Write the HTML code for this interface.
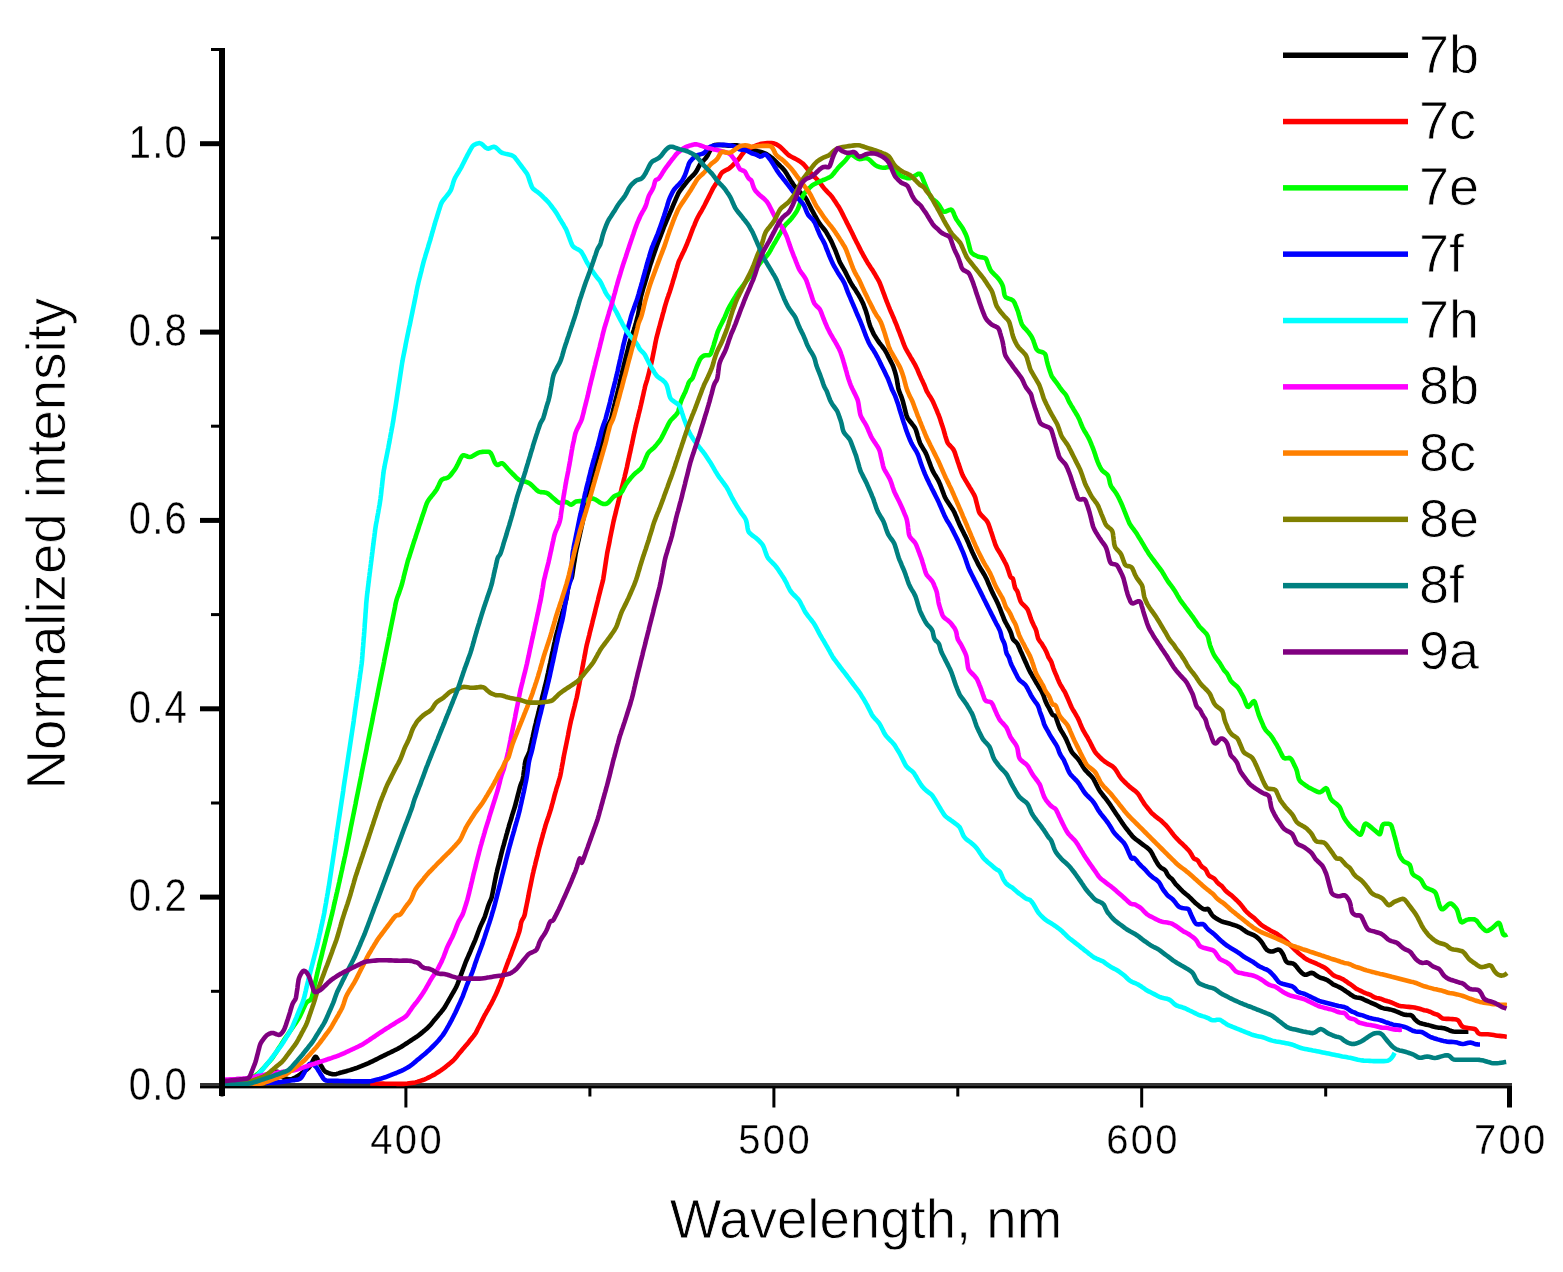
<!DOCTYPE html>
<html><head><meta charset="utf-8"><title>Normalized intensity vs wavelength</title>
<style>html,body{margin:0;padding:0;background:#fff;width:1563px;height:1272px;overflow:hidden}</style>
</head><body>
<svg width="1563" height="1272" viewBox="0 0 1563 1272" style="position:absolute;left:0;top:0">
<rect x="219" y="1083" width="1293" height="3" fill="#333"/>
<rect x="219" y="1086" width="1293" height="2.4" fill="#000"/>
<polyline points="271.2,1080.8 271.8,1079.6 272.7,1078.0 273.6,1076.2 274.6,1074.5 275.5,1072.8 276.5,1071.7 277.7,1071.8 278.9,1072.9 280.1,1074.4 281.4,1075.9 282.8,1077.2 284.5,1078.1 286.4,1078.8 288.3,1079.3 290.1,1079.4 292.0,1079.0 293.8,1078.2 295.6,1077.3 297.3,1076.4 299.0,1075.3 300.6,1074.1 302.2,1072.9 303.8,1071.7 305.4,1070.5 307.0,1069.3 308.5,1068.0 309.7,1066.5 310.8,1064.9 311.7,1063.1 312.6,1061.3 313.5,1059.5 314.4,1057.9 315.3,1056.8 316.2,1057.0 317.1,1058.3 318.0,1060.0 318.9,1061.8 319.9,1063.5 320.9,1065.3 321.9,1067.0 322.9,1068.7 324.0,1070.3 325.3,1071.6 327.0,1072.5 328.9,1073.2 330.8,1073.8 332.7,1074.3 334.6,1074.3 336.5,1073.9 338.4,1073.4 340.3,1072.8 342.2,1072.3 344.2,1071.7 346.1,1071.2 348.0,1070.6 349.9,1070.1 351.9,1069.5 353.8,1068.9 355.6,1068.3 357.5,1067.6 359.4,1066.8 361.2,1066.1 363.1,1065.3 364.9,1064.6 366.8,1063.8 368.6,1063.1 370.5,1062.2 372.3,1061.4 374.0,1060.5 375.8,1059.6 377.6,1058.7 379.4,1057.8 381.2,1056.9 383.0,1056.0 384.8,1055.1 386.6,1054.2 388.4,1053.3 390.2,1052.5 392.0,1051.6 393.8,1050.7 395.6,1049.8 397.4,1049.0 399.1,1048.0 400.9,1047.0 402.5,1046.0 404.2,1044.9 405.9,1043.8 407.6,1042.7 409.2,1041.6 410.9,1040.5 412.6,1039.4 414.3,1038.3 415.9,1037.2 417.6,1036.1 419.2,1034.9 420.8,1033.6 422.3,1032.4 423.8,1031.1 425.4,1029.8 426.9,1028.5 428.3,1027.1 429.7,1025.7 431.0,1024.2 432.3,1022.6 433.5,1021.1 434.8,1019.6 436.1,1018.0 437.4,1016.5 438.7,1014.9 439.9,1013.4 441.2,1011.9 442.5,1010.3 443.7,1008.7 444.8,1007.1 445.8,1005.3 446.8,1003.6 447.8,1001.9 448.8,1000.1 449.8,998.4 450.8,996.7 451.8,994.9 452.8,993.2 453.8,991.5 454.8,989.7 455.7,988.0 456.6,986.2 457.4,984.3 458.1,982.5 458.8,980.6 459.5,978.7 460.2,976.9 460.9,975.0 461.6,973.1 462.3,971.2 463.0,969.4 463.7,967.5 464.4,965.6 465.1,963.7 465.8,961.9 466.6,960.0 467.4,958.2 468.2,956.4 469.0,954.5 469.8,952.7 470.6,950.9 471.3,949.0 472.1,947.2 472.9,945.3 473.7,943.5 474.5,941.7 475.3,939.8 476.0,938.0 476.7,936.1 477.4,934.2 478.1,932.3 478.8,930.5 479.5,928.6 480.3,926.7 481.1,924.9 481.9,923.1 482.8,921.3 483.6,919.5 484.4,917.6 485.1,915.8 485.7,913.9 486.3,912.0 486.9,910.1 487.5,908.2 488.1,906.3 488.8,904.4 489.5,902.5 490.3,900.8 491.1,899.1 491.7,897.3 492.1,895.3 492.5,893.4 492.9,891.4 493.3,889.5 493.7,887.5 494.1,885.5 494.4,883.6 494.8,881.6 495.2,879.6 495.6,877.7 496.0,875.7 496.4,873.8 496.9,871.8 497.3,869.9 497.8,867.9 498.3,866.0 498.8,864.1 499.3,862.1 499.8,860.2 500.3,858.2 500.7,856.3 501.2,854.4 501.7,852.4 502.2,850.5 502.7,848.5 503.2,846.6 503.8,844.7 504.3,842.8 504.8,840.8 505.4,838.9 505.9,837.0 506.4,835.0 507.0,833.1 507.5,831.2 508.0,829.3 508.6,827.3 509.1,825.4 509.7,823.5 510.3,821.6 510.9,819.7 511.5,817.8 512.0,815.8 512.6,813.9 513.2,812.0 513.8,810.1 514.4,808.2 515.0,806.3 515.5,804.4 516.0,802.4 516.5,800.5 517.0,798.6 517.5,796.6 518.0,794.7 518.5,792.7 519.0,790.8 519.5,788.9 520.0,786.9 520.6,785.0 521.3,783.2 522.1,781.3 522.7,779.5 523.1,777.5 523.4,775.5 523.6,773.6 523.9,771.6 524.2,769.6 524.4,767.6 524.7,765.6 524.9,763.6 525.3,761.7 525.8,759.8 526.5,758.0 527.4,756.2 528.3,754.4 529.0,752.5 529.6,750.6 530.1,748.7 530.5,746.7 530.9,744.8 531.4,742.8 531.8,740.9 532.2,738.9 532.7,737.0 533.1,735.0 533.5,733.1 534.0,731.1 534.4,729.2 534.8,727.2 535.3,725.3 535.8,723.3 536.2,721.4 536.7,719.4 537.2,717.5 537.7,715.6 538.2,713.6 538.7,711.7 539.1,709.7 539.6,707.8 540.1,705.9 540.6,703.9 541.1,702.0 541.6,700.0 542.0,698.1 542.5,696.2 543.0,694.2 543.5,692.3 544.0,690.3 544.5,688.4 544.9,686.4 545.4,684.5 545.9,682.6 546.4,680.6 546.8,678.7 547.2,676.7 547.6,674.8 548.1,672.8 548.5,670.8 548.9,668.9 549.3,666.9 549.7,665.0 550.2,663.0 550.6,661.1 551.0,659.1 551.4,657.2 551.8,655.2 552.2,653.2 552.7,651.3 553.1,649.3 553.5,647.4 553.9,645.4 554.3,643.5 554.8,641.5 555.2,639.6 555.6,637.6 556.1,635.7 556.6,633.7 557.1,631.8 557.7,629.9 558.2,627.9 558.7,626.0 559.2,624.1 559.8,622.2 560.3,620.2 560.8,618.3 561.4,616.4 561.9,614.4 562.5,612.5 563.0,610.6 563.6,608.7 564.1,606.8 564.7,604.8 565.2,602.9 565.8,601.0 566.3,599.1 566.7,597.1 567.0,595.1 567.3,593.1 567.6,591.2 567.9,589.2 568.3,587.2 568.6,585.2 568.9,583.3 569.4,581.6 570.3,580.2 571.2,579.0 571.8,577.4 572.2,575.5 572.5,573.5 572.8,571.5 573.1,569.5 573.4,567.6 573.7,565.6 574.0,563.6 574.4,561.6 574.7,559.7 575.0,557.7 575.3,555.7 575.6,553.7 576.0,551.8 576.4,549.8 576.8,547.9 577.3,545.9 577.7,544.0 578.1,542.0 578.6,540.1 579.0,538.1 579.5,536.1 579.9,534.2 580.3,532.2 580.8,530.3 581.2,528.3 581.6,526.4 582.1,524.4 582.5,522.5 582.9,520.5 583.4,518.6 583.8,516.6 584.2,514.7 584.7,512.7 585.1,510.8 585.5,508.8 586.0,506.9 586.4,504.9 586.8,503.0 587.3,501.0 587.7,499.1 588.2,497.1 588.6,495.2 589.1,493.2 589.6,491.3 590.1,489.3 590.6,487.4 591.0,485.5 591.5,483.5 592.0,481.6 592.5,479.6 593.0,477.7 593.5,475.8 593.9,473.8 594.4,471.9 594.9,469.9 595.5,468.0 596.0,466.1 596.5,464.1 597.0,462.2 597.5,460.3 598.1,458.3 598.6,456.4 599.1,454.5 599.6,452.6 600.1,450.6 600.6,448.7 601.1,446.7 601.6,444.8 602.1,442.9 602.6,440.9 603.0,439.0 603.5,437.0 604.0,435.1 604.5,433.2 605.0,431.2 605.6,429.3 606.4,427.5 607.4,425.8 608.4,424.1 609.4,422.4 610.4,420.6 611.1,418.8 611.6,416.9 612.1,414.9 612.5,413.0 613.0,411.0 613.5,409.1 613.9,407.1 614.4,405.2 614.9,403.2 615.3,401.3 615.8,399.4 616.3,397.4 616.8,395.5 617.3,393.5 617.8,391.6 618.2,389.7 618.7,387.7 619.2,385.8 619.6,383.8 620.0,381.9 620.5,379.9 620.9,378.0 621.3,376.0 621.8,374.0 622.2,372.1 622.7,370.2 623.2,368.2 623.6,366.3 624.1,364.3 624.6,362.4 625.1,360.4 625.5,358.5 626.0,356.6 626.5,354.6 627.0,352.7 627.5,350.7 628.0,348.8 628.5,346.9 628.9,344.9 629.5,343.0 630.0,341.1 630.6,339.2 631.3,337.3 632.0,335.4 632.6,333.5 633.3,331.6 634.0,329.7 634.6,327.8 635.1,325.9 635.7,324.0 636.2,322.1 636.7,320.1 637.2,318.2 637.7,316.3 638.2,314.3 638.5,312.3 638.9,310.4 639.1,308.4 639.4,306.4 639.7,304.4 640.0,302.5 640.3,300.5 640.6,298.5 641.0,296.5 641.5,294.6 642.0,292.7 642.6,290.8 643.1,288.8 643.7,286.9 644.3,285.0 644.9,283.1 645.4,281.2 646.0,279.3 646.6,277.3 647.1,275.4 647.7,273.5 648.3,271.6 648.9,269.7 649.4,267.8 650.0,265.9 650.6,263.9 651.3,262.0 651.9,260.1 652.5,258.3 653.1,256.4 653.8,254.5 654.4,252.6 655.1,250.7 655.8,248.8 656.4,246.9 657.1,245.0 657.8,243.2 658.5,241.3 659.2,239.4 660.0,237.5 660.7,235.7 661.4,233.8 662.1,231.9 662.8,230.1 663.5,228.2 664.2,226.3 665.0,224.5 665.8,222.6 666.5,220.8 667.3,219.0 668.1,217.1 668.9,215.3 669.7,213.4 670.5,211.6 671.3,209.8 672.1,207.9 672.8,206.1 673.6,204.3 674.4,202.4 675.2,200.6 676.0,198.7 676.8,196.9 677.6,195.1 678.4,193.3 679.5,191.6 680.6,189.9 681.8,188.3 683.0,186.7 684.2,185.2 685.5,183.6 686.7,182.0 688.0,180.5 689.3,179.0 690.7,177.6 692.1,176.2 693.6,174.8 694.9,173.3 696.1,171.7 697.1,170.0 698.0,168.2 698.9,166.5 699.9,164.7 701.1,163.2 702.4,161.7 703.8,160.3 705.2,158.8 706.4,157.3 707.5,155.6 708.4,153.8 709.3,152.0 710.2,150.3 711.1,148.5 712.1,146.8 713.3,145.6 715.0,145.0 716.9,144.9 718.9,144.9 720.9,145.0 722.9,145.1 724.9,145.3 726.9,145.5 728.8,145.7 730.8,145.6 732.8,145.4 734.8,145.2 736.7,145.3 738.7,145.7 740.6,146.2 742.5,146.7 744.4,147.3 746.3,147.8 748.3,148.4 750.2,149.0 752.1,149.5 754.0,150.1 755.9,150.6 757.9,151.2 759.8,151.7 761.7,152.3 763.6,152.9 765.4,153.6 767.2,154.6 768.9,155.7 770.5,156.8 772.1,158.0 773.5,159.4 775.0,160.8 776.4,162.2 777.8,163.6 779.2,165.0 780.6,166.4 782.1,167.8 783.4,169.3 784.7,170.8 785.8,172.4 786.9,174.1 787.9,175.8 788.9,177.6 790.0,179.3 791.0,181.0 792.1,182.6 793.2,184.3 794.4,185.9 795.6,187.5 796.9,189.0 798.3,190.4 799.7,191.8 801.2,193.3 802.6,194.7 804.0,196.1 805.3,197.6 806.4,199.2 807.3,201.0 808.2,202.8 809.1,204.5 810.0,206.3 810.9,208.1 811.8,209.9 812.8,211.7 813.7,213.4 814.7,215.2 815.7,216.9 816.6,218.7 817.6,220.4 818.6,222.1 819.7,223.8 821.0,225.4 822.2,226.9 823.5,228.5 824.7,230.0 825.9,231.6 826.9,233.3 827.9,235.1 828.9,236.8 829.9,238.6 830.8,240.3 831.7,242.1 832.5,243.9 833.3,245.8 834.1,247.6 834.9,249.4 835.7,251.3 836.4,253.2 837.1,255.0 837.8,256.9 838.5,258.8 839.2,260.6 840.0,262.5 840.9,264.2 841.9,266.0 842.9,267.7 843.9,269.4 844.9,271.2 845.8,272.9 846.7,274.7 847.6,276.5 848.5,278.3 849.4,280.1 850.3,281.9 851.3,283.6 852.3,285.3 853.4,287.0 854.6,288.7 855.7,290.3 856.7,292.0 857.8,293.7 858.8,295.4 859.8,297.2 860.8,298.9 861.7,300.7 862.6,302.5 863.4,304.3 864.1,306.2 864.8,308.1 865.5,309.9 866.1,311.8 866.7,313.7 867.3,315.6 867.8,317.6 868.2,319.5 868.7,321.5 869.3,323.4 869.9,325.3 870.6,327.1 871.4,329.0 872.2,330.8 873.0,332.6 873.9,334.4 874.9,336.1 876.0,337.8 877.1,339.5 878.2,341.1 879.4,342.8 880.6,344.4 881.8,345.9 883.0,347.5 884.2,349.1 885.3,350.8 886.3,352.5 887.2,354.3 888.1,356.1 889.0,357.9 889.9,359.6 890.8,361.4 891.7,363.2 892.6,365.0 893.4,366.9 894.0,368.7 894.6,370.6 895.2,372.6 895.7,374.5 896.2,376.4 896.6,378.4 897.0,380.3 897.3,382.3 897.6,384.3 898.0,386.3 898.3,388.2 898.8,390.2 899.5,392.0 900.2,393.9 901.0,395.7 901.7,397.6 902.3,399.5 902.9,401.4 903.4,403.4 903.9,405.3 904.4,407.2 904.9,409.2 905.4,411.1 905.8,413.0 906.4,415.0 907.0,416.8 907.9,418.6 909.1,420.2 910.3,421.7 911.6,423.3 912.8,424.9 914.0,426.4 915.1,428.1 915.9,429.9 916.5,431.8 917.1,433.7 917.6,435.6 918.2,437.5 918.8,439.5 919.4,441.4 920.1,443.2 921.0,445.0 922.0,446.7 923.0,448.4 924.0,450.1 925.1,451.8 926.0,453.6 926.8,455.4 927.5,457.3 928.2,459.2 928.9,461.0 929.6,462.9 930.3,464.8 931.0,466.7 931.7,468.5 932.5,470.4 933.4,472.1 934.4,473.9 935.4,475.6 936.5,477.3 937.5,479.0 938.5,480.8 939.3,482.6 940.1,484.4 940.8,486.3 941.5,488.1 942.2,490.0 942.9,491.9 943.6,493.8 944.3,495.6 945.1,497.5 946.0,499.2 947.1,500.9 948.2,502.6 949.3,504.2 950.4,505.9 951.5,507.6 952.6,509.2 953.6,511.0 954.5,512.7 955.3,514.6 956.1,516.4 956.9,518.2 957.6,520.1 958.4,521.9 959.2,523.8 960.0,525.6 960.9,527.4 961.8,529.2 962.7,531.0 963.6,532.8 964.5,534.6 965.4,536.3 966.2,538.1 967.1,540.0 967.9,541.8 968.7,543.6 969.4,545.5 970.2,547.3 971.0,549.1 971.8,551.0 972.6,552.8 973.5,554.6 974.3,556.4 975.2,558.2 976.1,560.0 977.0,561.8 977.9,563.6 978.8,565.4 979.8,567.1 980.8,568.8 981.8,570.5 982.9,572.3 983.9,574.0 984.9,575.7 985.8,577.5 986.7,579.3 987.5,581.1 988.2,583.0 989.0,584.8 989.8,586.6 990.6,588.5 991.4,590.3 992.2,592.1 993.1,593.9 994.0,595.7 994.9,597.5 995.8,599.3 996.7,601.1 997.5,602.9 998.4,604.7 999.1,606.6 999.9,608.4 1000.6,610.3 1001.3,612.1 1002.0,614.0 1002.8,615.9 1003.5,617.7 1004.2,619.6 1005.1,621.4 1006.0,623.2 1007.0,624.9 1007.9,626.7 1008.9,628.4 1009.8,630.2 1010.6,632.0 1011.3,633.9 1011.8,635.8 1012.4,637.7 1013.2,639.4 1014.4,640.8 1015.9,642.1 1017.2,643.5 1018.1,645.2 1018.9,647.0 1019.7,648.8 1020.4,650.7 1021.3,652.5 1022.1,654.3 1022.9,656.1 1023.7,658.0 1024.5,659.8 1025.3,661.6 1026.2,663.4 1027.0,665.3 1027.8,667.1 1028.6,668.9 1029.5,670.7 1030.4,672.5 1031.4,674.2 1032.4,676.0 1033.4,677.7 1034.4,679.4 1035.4,681.1 1036.4,682.9 1037.5,684.6 1038.5,686.3 1039.5,688.0 1040.6,689.7 1041.6,691.4 1042.5,693.2 1043.3,695.0 1044.0,696.9 1044.6,698.8 1045.3,700.7 1046.1,702.5 1046.9,704.3 1047.9,706.1 1048.9,707.8 1049.8,709.6 1050.7,711.4 1051.6,713.1 1052.5,714.6 1053.5,715.3 1054.5,715.5 1055.4,716.3 1056.1,717.8 1056.7,719.7 1057.4,721.6 1058.0,723.5 1058.7,725.3 1059.4,727.2 1060.2,729.0 1061.2,730.7 1062.3,732.4 1063.3,734.1 1064.3,735.9 1065.3,737.6 1066.2,739.4 1067.0,741.2 1067.8,743.1 1068.6,744.9 1069.3,746.7 1070.1,748.6 1071.0,750.4 1071.9,752.1 1073.1,753.7 1074.5,755.1 1075.9,756.6 1077.2,758.0 1078.5,759.6 1079.6,761.2 1080.6,762.9 1081.7,764.6 1082.7,766.3 1083.8,768.0 1084.9,769.6 1086.3,771.1 1087.6,772.5 1089.1,774.0 1090.5,775.4 1091.8,776.8 1093.1,778.4 1094.1,780.1 1095.0,781.8 1095.9,783.6 1096.8,785.4 1097.7,787.2 1098.6,789.0 1099.6,790.7 1100.7,792.3 1102.0,793.9 1103.2,795.5 1104.4,797.1 1105.7,798.6 1106.9,800.2 1108.1,801.8 1109.3,803.4 1110.4,805.1 1111.5,806.8 1112.6,808.4 1113.7,810.1 1114.8,811.7 1115.9,813.4 1117.0,815.1 1118.2,816.7 1119.3,818.4 1120.4,820.1 1121.5,821.7 1122.6,823.4 1123.7,825.0 1124.9,826.7 1126.1,828.3 1127.3,829.8 1128.6,831.4 1129.8,833.0 1131.1,834.5 1132.3,836.1 1133.7,837.5 1135.2,838.8 1136.8,840.0 1138.4,841.2 1140.0,842.4 1141.6,843.6 1143.2,844.8 1144.8,846.0 1146.4,847.2 1148.0,848.4 1149.5,849.7 1150.7,851.2 1151.7,852.9 1152.7,854.7 1153.6,856.5 1154.5,858.2 1155.4,860.0 1156.4,861.7 1157.4,863.4 1158.6,865.1 1159.8,866.6 1161.3,867.9 1162.9,868.8 1164.5,869.7 1165.7,871.0 1166.5,872.6 1167.4,874.4 1168.5,876.0 1169.8,877.3 1171.2,878.3 1172.4,879.5 1173.5,881.1 1174.6,882.7 1175.8,884.3 1177.2,885.7 1178.6,887.1 1180.0,888.6 1181.3,890.0 1182.8,891.4 1184.3,892.7 1185.8,894.0 1187.4,895.3 1188.9,896.6 1190.3,897.9 1191.8,899.4 1193.2,900.8 1194.6,902.2 1196.0,903.5 1197.6,904.8 1199.1,906.1 1200.7,907.3 1202.3,908.4 1203.9,909.3 1205.4,909.5 1206.7,909.0 1207.8,908.9 1208.9,909.8 1209.8,911.4 1210.8,913.1 1211.9,914.8 1213.2,916.2 1214.7,917.4 1216.4,918.5 1218.1,919.5 1219.9,920.5 1221.6,921.3 1223.5,922.0 1225.4,922.5 1227.4,923.0 1229.3,923.5 1231.2,924.1 1233.1,924.8 1235.0,925.4 1236.9,926.0 1238.7,926.8 1240.5,927.7 1242.1,928.8 1243.7,930.0 1245.4,931.2 1247.0,932.2 1248.8,933.1 1250.7,933.8 1252.5,934.6 1254.3,935.4 1256.0,936.4 1257.5,937.7 1259.0,939.1 1260.3,940.5 1261.6,942.1 1262.7,943.7 1263.7,945.4 1264.8,947.1 1265.9,948.7 1267.2,950.1 1268.8,951.0 1270.7,951.5 1272.5,951.5 1274.3,951.0 1276.1,950.2 1277.8,949.6 1279.4,949.7 1280.7,950.8 1281.8,952.3 1282.8,954.0 1283.7,955.8 1284.4,957.6 1285.2,959.5 1286.0,961.2 1287.2,962.4 1288.8,963.0 1290.7,963.1 1292.6,963.4 1294.2,964.2 1295.5,965.5 1296.8,967.0 1298.0,968.6 1299.2,970.2 1300.6,971.6 1302.0,973.0 1303.5,974.2 1305.0,974.8 1306.7,974.6 1308.5,973.8 1310.2,973.1 1312.0,972.9 1313.6,973.5 1315.2,974.6 1316.8,975.8 1318.5,976.8 1320.3,977.7 1322.2,978.2 1324.1,978.8 1325.9,979.5 1327.7,980.4 1329.3,981.5 1330.9,982.7 1332.5,983.9 1334.2,984.9 1336.0,985.7 1337.9,986.5 1339.7,987.4 1341.4,988.3 1343.1,989.4 1344.8,990.5 1346.4,991.6 1348.1,992.7 1349.7,993.9 1351.3,995.1 1353.0,996.1 1354.7,997.0 1356.6,997.5 1358.5,997.7 1360.3,998.0 1362.2,998.6 1363.9,999.5 1365.7,1000.4 1367.5,1001.2 1369.4,1002.0 1371.2,1002.8 1373.1,1003.6 1374.9,1004.4 1376.7,1005.3 1378.5,1006.2 1380.2,1007.1 1382.0,1007.9 1383.9,1008.4 1385.9,1008.7 1387.8,1009.0 1389.8,1009.4 1391.7,1009.9 1393.7,1010.4 1395.5,1011.2 1397.4,1011.9 1399.2,1012.7 1401.0,1013.5 1402.9,1014.2 1404.8,1014.7 1406.7,1014.9 1408.7,1015.0 1410.6,1015.1 1412.1,1015.8 1413.3,1017.1 1414.4,1018.7 1415.7,1020.1 1417.2,1021.4 1418.8,1022.5 1420.6,1023.3 1422.5,1023.8 1424.5,1024.2 1426.4,1024.7 1428.4,1025.1 1430.3,1025.6 1432.2,1026.2 1434.1,1026.8 1436.1,1027.3 1438.0,1027.6 1440.0,1027.7 1441.9,1027.9 1443.9,1028.3 1445.8,1028.8 1447.7,1029.5 1449.5,1030.3 1451.3,1031.0 1453.2,1031.5 1455.2,1031.7 1457.2,1031.7 1459.2,1031.7 1461.2,1031.7 1463.2,1031.7 1465.2,1031.7 1467.0,1031.7 1468.4,1031.7" fill="none" stroke="#000000" stroke-width="4.6" stroke-linejoin="round" stroke-linecap="butt"/>
<polyline points="370.2,1083.4 371.6,1083.4 373.4,1083.5 375.4,1083.5 377.4,1083.5 379.4,1083.6 381.4,1083.6 383.4,1083.6 385.4,1083.7 387.4,1083.7 389.4,1083.7 391.4,1083.8 393.4,1083.8 395.4,1083.8 397.4,1083.9 399.4,1083.9 401.4,1083.9 403.4,1083.9 405.4,1083.8 407.4,1083.6 409.3,1083.3 411.3,1083.0 413.3,1082.7 415.3,1082.4 417.2,1081.9 419.1,1081.3 421.0,1080.6 422.9,1080.0 424.8,1079.3 426.6,1078.5 428.4,1077.6 430.2,1076.7 432.0,1075.8 433.7,1074.9 435.4,1073.9 437.1,1072.8 438.8,1071.7 440.5,1070.6 442.1,1069.5 443.7,1068.3 445.3,1067.1 446.9,1065.8 448.4,1064.6 450.0,1063.3 451.5,1062.0 453.0,1060.7 454.4,1059.2 455.7,1057.7 457.0,1056.2 458.2,1054.6 459.5,1053.1 460.8,1051.6 462.0,1050.0 463.3,1048.5 464.6,1047.0 465.9,1045.4 467.2,1043.9 468.5,1042.4 469.7,1040.8 471.0,1039.2 472.2,1037.7 473.5,1036.1 474.7,1034.5 475.8,1032.9 476.7,1031.1 477.6,1029.3 478.5,1027.5 479.4,1025.8 480.3,1024.0 481.2,1022.2 482.1,1020.4 483.0,1018.6 483.9,1016.8 484.8,1015.0 485.8,1013.3 486.8,1011.5 487.8,1009.8 488.8,1008.1 489.7,1006.3 490.7,1004.6 491.7,1002.8 492.6,1001.0 493.5,999.2 494.3,997.5 495.2,995.7 496.1,993.8 496.9,992.0 497.7,990.2 498.4,988.3 499.2,986.5 500.0,984.7 500.7,982.8 501.4,980.9 502.0,979.0 502.7,977.1 503.3,975.2 503.9,973.3 504.6,971.4 505.2,969.5 505.9,967.7 506.6,965.8 507.3,963.9 508.0,962.0 508.7,960.2 509.5,958.3 510.2,956.4 510.9,954.6 511.6,952.7 512.3,950.8 513.0,948.9 513.7,947.1 514.4,945.2 515.1,943.3 515.8,941.4 516.5,939.6 517.2,937.7 517.9,935.8 518.5,933.9 519.2,932.0 519.7,930.1 520.1,928.2 520.5,926.2 520.8,924.2 521.2,922.3 521.9,920.5 522.8,918.8 523.8,917.1 524.5,915.3 525.0,913.4 525.3,911.5 525.7,909.5 526.1,907.5 526.5,905.6 526.9,903.6 527.3,901.7 527.7,899.7 528.1,897.7 528.5,895.8 528.8,893.8 529.2,891.8 529.6,889.9 530.0,887.9 530.4,886.0 530.8,884.0 531.2,882.0 531.6,880.1 532.0,878.1 532.4,876.2 532.8,874.2 533.3,872.3 533.7,870.3 534.2,868.4 534.7,866.4 535.2,864.5 535.6,862.5 536.1,860.6 536.6,858.7 537.1,856.7 537.6,854.8 538.0,852.8 538.5,850.9 539.0,848.9 539.5,847.0 540.0,845.1 540.6,843.2 541.1,841.2 541.6,839.3 542.2,837.4 542.7,835.4 543.2,833.5 543.8,831.6 544.3,829.7 544.9,827.7 545.4,825.8 546.0,823.9 546.6,822.0 547.3,820.1 547.9,818.2 548.6,816.3 549.2,814.4 549.8,812.5 550.4,810.6 551.0,808.7 551.5,806.8 552.0,804.9 552.6,802.9 553.1,801.0 553.6,799.1 554.1,797.1 554.6,795.2 555.1,793.3 555.7,791.3 556.2,789.4 556.8,787.5 557.4,785.6 558.0,783.7 558.5,781.8 559.1,779.8 559.7,777.9 560.2,776.0 560.6,774.0 561.0,772.1 561.3,770.1 561.7,768.1 562.0,766.2 562.4,764.2 562.8,762.2 563.1,760.3 563.5,758.3 563.8,756.3 564.2,754.4 564.6,752.4 565.0,750.4 565.4,748.5 565.8,746.5 566.2,744.6 566.6,742.6 567.0,740.6 567.4,738.7 567.8,736.7 568.2,734.7 568.5,732.8 568.9,730.8 569.3,728.9 569.7,726.9 570.1,724.9 570.5,723.0 570.9,721.0 571.4,719.1 571.9,717.1 572.4,715.2 572.8,713.3 573.3,711.3 573.8,709.4 574.3,707.4 574.8,705.5 575.2,703.5 575.7,701.6 576.2,699.7 576.7,697.7 577.1,695.8 577.5,693.8 577.9,691.8 578.2,689.9 578.6,687.9 579.0,685.9 579.4,684.0 579.7,682.0 580.1,680.1 580.5,678.1 580.9,676.1 581.2,674.2 581.6,672.2 582.0,670.2 582.3,668.3 582.7,666.3 583.1,664.3 583.4,662.4 583.8,660.4 584.2,658.4 584.5,656.5 584.9,654.5 585.3,652.5 585.6,650.6 586.0,648.6 586.4,646.6 586.8,644.7 587.3,642.7 587.8,640.8 588.3,638.9 588.8,636.9 589.3,635.0 589.7,633.0 590.2,631.1 590.7,629.2 591.2,627.2 591.7,625.3 592.2,623.3 592.6,621.4 593.1,619.5 593.6,617.5 594.1,615.6 594.6,613.6 595.1,611.7 595.5,609.8 596.0,607.8 596.5,605.9 597.0,603.9 597.5,602.0 598.0,600.0 598.4,598.1 598.9,596.2 599.4,594.2 599.9,592.3 600.4,590.3 600.9,588.4 601.4,586.5 601.9,584.5 602.4,582.6 602.9,580.7 603.3,578.7 603.6,576.7 603.9,574.8 604.2,572.8 604.5,570.8 604.8,568.8 605.1,566.8 605.4,564.9 605.7,562.9 606.0,560.9 606.3,558.9 606.6,557.0 606.9,555.0 607.2,553.0 607.6,551.0 608.0,549.1 608.4,547.1 608.8,545.2 609.2,543.2 609.6,541.2 609.9,539.3 610.3,537.3 610.7,535.4 611.1,533.4 611.5,531.4 611.9,529.5 612.3,527.5 612.7,525.5 613.1,523.6 613.5,521.6 614.0,519.7 614.4,517.7 614.9,515.8 615.4,513.9 615.9,511.9 616.3,510.0 616.8,508.0 617.3,506.1 617.8,504.1 618.3,502.2 618.7,500.3 619.2,498.3 619.7,496.4 620.2,494.4 620.7,492.5 621.2,490.6 621.6,488.6 622.1,486.7 622.6,484.7 623.1,482.8 623.6,480.9 624.1,478.9 624.6,477.0 625.0,475.0 625.5,473.1 626.0,471.1 626.4,469.2 626.9,467.2 627.3,465.3 627.7,463.3 628.1,461.4 628.6,459.4 629.0,457.5 629.4,455.5 629.8,453.6 630.3,451.6 630.7,449.7 631.1,447.7 631.5,445.7 632.0,443.8 632.4,441.8 632.8,439.9 633.2,437.9 633.6,436.0 634.0,434.0 634.5,432.1 634.9,430.1 635.3,428.1 635.8,426.2 636.2,424.2 636.7,422.3 637.2,420.4 637.7,418.4 638.2,416.5 638.6,414.5 639.1,412.6 639.6,410.7 640.1,408.7 640.5,406.8 641.0,404.8 641.4,402.9 641.9,400.9 642.3,399.0 642.7,397.0 643.2,395.1 643.6,393.1 644.0,391.2 644.5,389.2 644.9,387.3 645.4,385.3 646.0,383.4 646.6,381.5 647.2,379.6 647.7,377.7 648.2,375.7 648.7,373.8 649.2,371.8 649.7,369.9 650.1,368.0 650.6,366.0 651.1,364.1 651.6,362.1 652.0,360.2 652.4,358.2 652.8,356.3 653.2,354.3 653.6,352.3 654.0,350.4 654.4,348.4 654.8,346.5 655.1,344.5 655.5,342.5 655.9,340.6 656.3,338.6 656.8,336.7 657.3,334.7 657.8,332.8 658.3,330.9 658.8,328.9 659.4,327.0 659.9,325.1 660.4,323.1 660.9,321.2 661.5,319.3 662.0,317.4 662.5,315.4 663.0,313.5 663.6,311.6 664.1,309.6 664.6,307.7 665.1,305.8 665.7,303.8 666.3,301.9 666.9,300.0 667.5,298.1 668.2,296.2 668.8,294.3 669.5,292.5 670.1,290.6 670.7,288.7 671.3,286.8 671.9,284.8 672.5,282.9 673.0,281.0 673.6,279.1 674.2,277.2 674.8,275.3 675.3,273.3 675.9,271.4 676.4,269.5 677.0,267.6 677.5,265.6 678.1,263.7 678.7,261.8 679.5,260.0 680.4,258.2 681.3,256.4 682.1,254.6 683.0,252.8 683.9,251.0 684.7,249.2 685.5,247.3 686.3,245.5 687.1,243.7 687.8,241.8 688.6,240.0 689.3,238.1 690.0,236.2 690.7,234.4 691.4,232.5 692.1,230.6 692.8,228.7 693.6,226.9 694.4,225.1 695.1,223.2 695.9,221.4 696.7,219.5 697.6,217.7 698.5,216.0 699.5,214.2 700.5,212.5 701.5,210.8 702.5,209.0 703.4,207.3 704.4,205.5 705.3,203.7 706.2,201.9 707.1,200.1 708.0,198.4 708.9,196.6 709.8,194.8 710.7,193.0 711.6,191.2 712.5,189.4 713.4,187.7 714.5,186.0 715.6,184.3 716.6,182.6 717.5,180.8 718.3,179.0 719.2,177.2 720.1,175.4 721.1,173.7 722.3,172.3 724.0,171.3 725.7,170.3 727.5,169.4 729.2,168.4 730.8,167.2 732.2,165.8 733.6,164.4 735.0,163.0 736.4,161.5 737.7,160.1 739.1,158.6 740.3,157.0 741.4,155.3 742.6,153.7 743.8,152.2 745.2,150.7 746.7,149.5 748.4,148.6 750.2,147.9 752.1,147.2 754.0,146.5 755.8,145.7 757.7,145.0 759.6,144.3 761.5,143.8 763.5,143.5 765.4,143.3 767.4,143.1 769.4,143.0 771.4,143.0 773.3,143.3 775.2,143.9 777.0,144.7 778.7,145.7 780.2,146.9 781.7,148.3 783.1,149.7 784.5,151.1 785.9,152.5 787.3,153.9 788.8,155.2 790.5,156.3 792.3,157.2 794.1,158.1 795.8,159.0 797.6,160.0 799.3,161.0 800.9,162.2 802.5,163.3 804.0,164.7 805.3,166.2 806.5,167.7 807.7,169.3 808.9,170.9 810.2,172.5 811.6,173.9 813.0,175.3 814.4,176.8 815.8,178.2 817.2,179.6 818.5,181.1 819.8,182.6 821.0,184.2 822.2,185.8 823.4,187.4 824.7,189.0 826.0,190.4 827.4,191.9 828.8,193.3 830.2,194.7 831.5,196.2 832.7,197.8 833.8,199.5 834.9,201.1 836.0,202.8 837.1,204.5 838.2,206.1 839.3,207.8 840.3,209.6 841.2,211.3 842.1,213.1 843.0,214.9 843.9,216.7 844.8,218.5 845.7,220.3 846.6,222.1 847.5,223.9 848.4,225.6 849.3,227.4 850.2,229.2 851.1,231.0 852.0,232.8 852.9,234.6 853.7,236.4 854.6,238.2 855.5,240.0 856.4,241.8 857.3,243.5 858.2,245.3 859.1,247.1 860.0,248.9 860.9,250.7 861.8,252.5 862.8,254.2 863.7,256.0 864.7,257.7 865.7,259.5 866.7,261.2 867.7,262.9 868.8,264.6 869.9,266.3 871.0,268.0 872.1,269.6 873.2,271.3 874.2,273.0 875.2,274.7 876.2,276.5 877.2,278.2 878.2,279.9 879.2,281.7 880.0,283.5 880.7,285.4 881.4,287.2 882.1,289.1 882.8,291.0 883.5,292.9 884.2,294.7 884.9,296.6 885.6,298.5 886.3,300.4 887.0,302.2 887.8,304.1 888.5,305.9 889.3,307.8 890.0,309.6 890.8,311.5 891.6,313.3 892.4,315.2 893.2,317.0 894.0,318.8 894.7,320.7 895.5,322.5 896.3,324.4 897.0,326.2 897.7,328.1 898.4,330.0 899.2,331.8 899.9,333.7 900.6,335.6 901.3,337.4 902.0,339.3 902.7,341.2 903.4,343.1 904.1,344.9 904.9,346.8 905.7,348.6 906.7,350.3 907.7,352.1 908.7,353.8 909.7,355.5 910.7,357.3 911.7,359.0 912.7,360.7 913.7,362.5 914.7,364.2 915.6,365.9 916.5,367.7 917.4,369.5 918.1,371.4 918.9,373.2 919.7,375.1 920.5,376.9 921.3,378.7 922.2,380.5 923.0,382.3 923.9,384.2 924.7,386.0 925.4,387.8 926.1,389.7 926.9,391.5 927.9,393.2 928.9,394.9 930.0,396.6 931.1,398.3 932.1,400.0 933.0,401.8 933.8,403.6 934.6,405.4 935.4,407.3 936.2,409.1 937.0,411.0 937.7,412.8 938.5,414.7 939.2,416.5 939.9,418.4 940.5,420.3 941.1,422.2 941.7,424.1 942.4,426.0 943.0,427.9 943.6,429.8 944.1,431.8 944.7,433.7 945.2,435.6 945.8,437.5 946.4,439.4 947.0,441.3 947.8,443.1 949.0,444.6 950.4,446.0 951.8,447.5 953.1,449.0 954.0,450.6 954.8,452.5 955.4,454.4 956.0,456.3 956.7,458.2 957.3,460.1 957.9,462.0 958.6,463.8 959.2,465.7 959.8,467.6 960.5,469.5 961.1,471.4 961.8,473.3 962.6,475.1 963.5,476.9 964.5,478.6 965.5,480.3 966.6,482.1 967.6,483.8 968.6,485.5 969.6,487.2 970.7,488.9 971.7,490.7 972.7,492.4 973.7,494.1 974.6,495.9 975.3,497.7 975.8,499.6 976.3,501.6 976.8,503.5 977.3,505.5 977.8,507.4 978.3,509.3 978.8,511.2 979.6,513.0 980.8,514.6 982.1,516.0 983.5,517.4 984.9,518.8 986.3,520.3 987.4,521.9 988.3,523.6 989.0,525.5 989.6,527.4 990.3,529.3 990.9,531.2 991.6,533.1 992.2,535.0 992.8,536.9 993.4,538.8 994.1,540.7 994.7,542.6 995.3,544.5 996.1,546.3 996.9,548.1 997.9,549.8 999.0,551.5 1000.0,553.2 1001.0,555.0 1002.0,556.7 1002.9,558.5 1003.9,560.2 1004.8,562.0 1005.8,563.8 1006.6,565.6 1007.3,567.4 1007.9,569.3 1008.6,571.2 1009.2,573.1 1009.8,575.0 1010.5,576.7 1011.2,577.7 1012.1,577.9 1012.8,578.5 1013.3,579.9 1013.7,581.8 1014.1,583.8 1014.5,585.7 1015.0,587.6 1015.8,589.1 1016.8,590.4 1017.6,592.0 1018.2,593.8 1018.7,595.7 1019.3,597.6 1019.9,599.5 1020.6,601.4 1021.6,603.0 1022.9,604.4 1024.4,605.8 1025.8,607.2 1027.1,608.7 1028.0,610.3 1028.7,612.2 1029.4,614.1 1030.0,616.0 1030.6,617.9 1031.3,619.8 1032.0,621.6 1032.9,623.4 1033.7,625.2 1034.6,627.0 1035.5,628.8 1036.2,630.7 1036.7,632.6 1037.1,634.6 1037.6,636.5 1038.1,638.4 1039.0,640.0 1040.1,641.6 1041.3,643.1 1042.4,644.8 1043.4,646.5 1044.5,648.2 1045.4,650.0 1046.3,651.8 1047.1,653.6 1047.8,655.5 1048.5,657.3 1049.5,658.9 1050.5,660.4 1051.4,662.1 1052.0,663.9 1052.6,665.8 1053.2,667.7 1053.9,669.6 1054.6,671.4 1055.4,673.3 1056.2,675.1 1057.0,677.0 1057.7,678.8 1058.5,680.7 1059.3,682.5 1060.2,684.3 1061.2,686.0 1062.2,687.7 1063.2,689.4 1064.3,691.1 1065.3,692.9 1066.1,694.7 1066.9,696.5 1067.7,698.3 1068.5,700.2 1069.3,702.0 1070.1,703.9 1070.9,705.7 1071.7,707.5 1072.7,709.3 1073.7,711.0 1074.7,712.7 1075.7,714.4 1076.7,716.2 1077.7,717.9 1078.6,719.7 1079.4,721.5 1080.1,723.4 1080.9,725.2 1081.7,727.1 1082.5,728.9 1083.4,730.7 1084.4,732.4 1085.4,734.1 1086.4,735.8 1087.5,737.5 1088.4,739.3 1089.4,741.0 1090.3,742.8 1091.2,744.6 1092.1,746.4 1093.0,748.2 1093.9,749.9 1094.9,751.7 1096.1,753.3 1097.4,754.7 1098.8,756.1 1100.3,757.6 1101.7,759.0 1103.2,760.3 1104.7,761.5 1106.4,762.6 1108.1,763.7 1109.8,764.7 1111.5,765.7 1113.1,766.9 1114.5,768.2 1115.7,769.8 1116.8,771.5 1117.8,773.2 1118.8,774.9 1119.9,776.6 1121.1,778.2 1122.4,779.7 1123.8,781.1 1125.2,782.5 1126.6,783.9 1128.1,785.3 1129.5,786.6 1131.1,787.9 1132.7,789.1 1134.3,790.3 1135.8,791.6 1137.3,792.9 1138.5,794.4 1139.6,796.1 1140.6,797.8 1141.6,799.5 1142.7,801.2 1143.7,802.9 1144.9,804.6 1146.1,806.1 1147.4,807.7 1148.6,809.3 1149.9,810.8 1151.1,812.4 1152.5,813.8 1154.0,815.1 1155.5,816.4 1157.1,817.6 1158.7,818.8 1160.3,820.0 1161.8,821.3 1163.2,822.7 1164.7,824.1 1166.1,825.5 1167.4,827.0 1168.7,828.6 1169.9,830.1 1171.1,831.7 1172.3,833.3 1173.6,834.9 1174.9,836.4 1176.2,837.9 1177.6,839.4 1178.9,840.8 1180.4,842.2 1181.9,843.5 1183.3,844.9 1184.7,846.3 1186.2,847.7 1187.5,849.2 1188.9,850.6 1190.1,852.2 1191.2,853.9 1192.1,855.6 1193.1,857.3 1194.1,858.7 1195.5,859.3 1196.8,859.7 1198.0,860.7 1199.0,862.3 1200.0,864.1 1201.0,865.7 1202.3,867.0 1203.9,868.0 1205.3,869.1 1206.4,870.7 1207.2,872.4 1208.0,874.2 1209.1,875.7 1210.7,876.7 1212.4,877.5 1214.0,878.4 1215.3,879.8 1216.5,881.4 1217.8,882.9 1219.2,884.2 1220.8,885.3 1222.3,886.6 1223.5,888.1 1224.7,889.7 1226.0,891.1 1227.5,892.4 1229.1,893.6 1230.7,894.8 1232.2,896.1 1233.7,897.4 1235.1,898.8 1236.6,900.2 1238.0,901.6 1239.4,903.0 1240.7,904.5 1242.0,906.1 1243.2,907.7 1244.4,909.3 1245.6,910.8 1247.0,912.3 1248.5,913.6 1250.0,914.9 1251.6,916.1 1253.2,917.3 1254.7,918.6 1256.1,920.0 1257.6,921.4 1259.0,922.8 1260.5,924.2 1262.0,925.4 1263.7,926.5 1265.4,927.5 1267.1,928.6 1268.8,929.6 1270.5,930.6 1272.3,931.5 1274.1,932.4 1275.9,933.3 1277.6,934.3 1279.2,935.5 1280.8,936.7 1282.3,938.0 1283.9,939.2 1285.4,940.5 1286.9,941.8 1288.4,943.2 1289.8,944.6 1291.2,946.0 1292.6,947.4 1294.0,948.8 1295.5,950.3 1296.9,951.6 1298.4,953.0 1299.9,954.2 1301.5,955.5 1303.1,956.7 1304.6,958.0 1306.3,959.1 1308.0,960.0 1309.8,960.8 1311.7,961.6 1313.5,962.3 1315.4,963.1 1317.2,964.0 1319.0,964.8 1320.8,965.7 1322.6,966.6 1324.4,967.5 1326.0,968.6 1327.6,969.8 1329.0,971.2 1330.5,972.6 1331.9,973.9 1333.4,975.2 1335.1,976.1 1337.0,976.8 1338.9,977.5 1340.7,978.2 1342.5,979.1 1344.2,980.1 1345.9,981.2 1347.5,982.4 1349.1,983.6 1350.8,984.6 1352.4,985.7 1353.9,986.9 1355.5,988.2 1357.1,989.2 1358.9,990.0 1360.7,990.9 1362.5,991.8 1364.3,992.7 1366.1,993.4 1368.0,994.0 1369.8,994.6 1371.5,995.5 1373.1,996.7 1374.8,997.5 1376.6,998.0 1378.6,998.3 1380.4,998.7 1382.2,999.4 1384.0,1000.2 1385.9,1000.7 1387.8,1001.3 1389.7,1001.8 1391.6,1002.5 1393.4,1003.3 1395.2,1004.2 1397.0,1005.0 1398.8,1005.7 1400.7,1006.1 1402.7,1006.3 1404.7,1006.5 1406.7,1006.7 1408.6,1006.9 1410.6,1007.1 1412.6,1007.3 1414.6,1007.5 1416.5,1007.9 1418.5,1008.4 1420.4,1009.0 1422.3,1009.6 1424.2,1010.2 1426.1,1010.6 1428.1,1011.1 1429.9,1011.7 1431.7,1012.5 1433.4,1013.4 1435.1,1014.1 1436.7,1014.4 1438.2,1015.1 1439.6,1016.3 1441.1,1017.6 1442.7,1018.5 1444.5,1018.8 1446.5,1018.9 1448.5,1018.9 1450.5,1019.0 1452.5,1019.1 1454.5,1019.2 1456.4,1019.5 1458.0,1020.3 1459.2,1021.6 1460.1,1023.3 1461.1,1025.0 1462.3,1026.4 1463.9,1027.2 1465.8,1027.6 1467.7,1027.9 1469.7,1028.2 1471.7,1028.5 1473.5,1028.8 1475.2,1029.3 1476.4,1030.4 1477.3,1031.9 1478.4,1033.2 1479.9,1034.0 1481.8,1034.2 1483.8,1034.2 1485.8,1034.2 1487.8,1034.3 1489.8,1034.5 1491.7,1034.8 1493.7,1035.1 1495.7,1035.4 1497.7,1035.7 1499.7,1035.9 1501.6,1036.1 1503.6,1036.3 1505.5,1036.6 1506.8,1036.7" fill="none" stroke="#FF0000" stroke-width="4.6" stroke-linejoin="round" stroke-linecap="butt"/>
<polyline points="220.8,1082.9 222.1,1082.7 224.0,1082.5 226.0,1082.2 227.9,1082.0 229.9,1081.7 231.9,1081.5 233.9,1081.2 235.9,1081.0 237.9,1080.7 239.8,1080.5 241.8,1080.2 243.8,1080.0 245.8,1079.7 247.8,1079.4 249.7,1078.9 251.4,1078.1 253.1,1077.1 254.8,1076.0 256.4,1074.8 258.1,1073.7 259.5,1072.3 260.9,1070.9 262.3,1069.4 263.6,1068.0 265.0,1066.5 266.3,1065.0 267.6,1063.5 269.0,1062.0 270.3,1060.5 271.6,1059.0 272.8,1057.4 273.9,1055.8 275.0,1054.1 276.1,1052.4 277.2,1050.7 278.2,1049.0 279.3,1047.3 280.4,1045.7 281.5,1044.0 282.6,1042.3 283.6,1040.6 284.7,1038.9 285.8,1037.3 287.0,1035.6 288.1,1034.0 289.2,1032.3 290.4,1030.7 291.5,1029.0 292.7,1027.4 293.8,1025.7 295.0,1024.1 296.1,1022.5 297.2,1020.8 298.3,1019.1 299.3,1017.4 300.2,1015.6 301.1,1013.8 301.9,1012.0 302.7,1010.2 303.5,1008.4 304.4,1006.5 305.2,1004.7 306.2,1003.1 307.4,1001.7 309.0,1000.8 310.5,999.8 311.5,998.3 312.1,996.5 312.6,994.6 313.0,992.6 313.4,990.7 313.9,988.7 314.3,986.8 314.7,984.8 315.1,982.9 315.6,980.9 316.0,979.0 316.4,977.0 316.8,975.1 317.3,973.1 317.7,971.2 318.2,969.2 318.7,967.3 319.1,965.3 319.6,963.4 320.1,961.4 320.6,959.5 321.1,957.6 321.6,955.6 322.1,953.7 322.5,951.7 323.0,949.8 323.5,947.9 324.0,945.9 324.5,944.0 325.0,942.0 325.5,940.1 325.9,938.2 326.4,936.2 326.9,934.3 327.4,932.3 327.9,930.4 328.4,928.5 328.9,926.5 329.4,924.6 329.9,922.6 330.3,920.7 330.8,918.8 331.3,916.8 331.8,914.9 332.3,912.9 332.7,911.0 333.2,909.0 333.6,907.1 334.0,905.1 334.5,903.2 334.9,901.2 335.4,899.3 335.8,897.3 336.3,895.4 336.7,893.4 337.2,891.5 337.6,889.5 338.1,887.6 338.5,885.6 338.9,883.7 339.4,881.7 339.8,879.8 340.2,877.8 340.7,875.9 341.1,873.9 341.5,872.0 342.0,870.0 342.4,868.0 342.8,866.1 343.2,864.1 343.7,862.2 344.1,860.2 344.5,858.3 345.0,856.3 345.4,854.4 345.8,852.4 346.2,850.5 346.6,848.5 347.0,846.5 347.4,844.6 347.8,842.6 348.2,840.6 348.6,838.7 349.0,836.7 349.4,834.8 349.8,832.8 350.2,830.8 350.5,828.9 350.9,826.9 351.3,825.0 351.7,823.0 352.1,821.0 352.5,819.1 352.9,817.1 353.3,815.1 353.7,813.2 354.1,811.2 354.5,809.3 354.9,807.3 355.3,805.3 355.7,803.4 356.0,801.4 356.4,799.5 356.8,797.5 357.2,795.5 357.6,793.6 358.0,791.6 358.4,789.6 358.8,787.7 359.2,785.7 359.6,783.8 360.0,781.8 360.4,779.8 360.8,777.9 361.2,775.9 361.5,774.0 361.9,772.0 362.3,770.0 362.7,768.1 363.1,766.1 363.5,764.1 363.9,762.2 364.3,760.2 364.7,758.3 365.1,756.3 365.5,754.3 365.9,752.4 366.3,750.4 366.7,748.5 367.0,746.5 367.4,744.5 367.8,742.6 368.2,740.6 368.6,738.6 369.0,736.7 369.4,734.7 369.8,732.8 370.2,730.8 370.6,728.8 371.0,726.9 371.4,724.9 371.8,723.0 372.2,721.0 372.6,719.0 372.9,717.1 373.3,715.1 373.7,713.1 374.1,711.2 374.5,709.2 374.9,707.3 375.3,705.3 375.7,703.3 376.1,701.4 376.5,699.4 376.9,697.4 377.3,695.5 377.7,693.5 378.0,691.6 378.4,689.6 378.8,687.6 379.2,685.7 379.6,683.7 380.0,681.8 380.4,679.8 380.8,677.8 381.2,675.9 381.6,673.9 382.0,671.9 382.4,670.0 382.8,668.0 383.2,666.1 383.6,664.1 384.0,662.1 384.3,660.2 384.7,658.2 385.1,656.3 385.5,654.3 385.9,652.3 386.3,650.4 386.7,648.4 387.1,646.4 387.5,644.5 387.9,642.5 388.3,640.6 388.7,638.6 389.1,636.6 389.4,634.7 389.8,632.7 390.2,630.8 390.6,628.8 391.0,626.8 391.4,624.9 391.8,622.9 392.2,620.9 392.6,619.0 393.0,617.0 393.4,615.1 393.8,613.1 394.2,611.1 394.6,609.2 395.0,607.2 395.3,605.3 395.7,603.3 396.2,601.3 396.7,599.4 397.3,597.5 398.0,595.6 398.7,593.8 399.4,591.9 400.0,590.0 400.7,588.1 401.3,586.2 401.9,584.3 402.4,582.4 402.9,580.4 403.4,578.5 403.8,576.5 404.3,574.6 404.8,572.7 405.3,570.7 405.8,568.8 406.3,566.8 406.8,564.9 407.3,563.0 407.8,561.0 408.4,559.1 409.1,557.2 409.7,555.3 410.3,553.4 410.9,551.5 411.5,549.6 412.1,547.7 412.7,545.8 413.3,543.9 413.9,542.0 414.5,540.1 415.2,538.2 415.8,536.3 416.4,534.4 417.0,532.5 417.7,530.6 418.3,528.7 418.9,526.8 419.5,524.9 420.2,523.0 420.8,521.1 421.4,519.2 422.0,517.3 422.7,515.4 423.3,513.5 424.0,511.6 424.6,509.7 425.2,507.8 425.9,505.9 426.5,504.0 427.3,502.2 428.3,500.5 429.4,498.9 430.7,497.3 431.9,495.7 433.2,494.2 434.4,492.6 435.6,491.0 436.7,489.4 437.6,487.6 438.5,485.8 439.3,484.0 440.1,482.2 441.1,480.5 442.4,479.3 444.1,478.6 446.0,478.2 447.8,477.6 449.3,476.5 450.6,475.1 451.8,473.5 453.0,471.9 454.2,470.3 455.4,468.7 456.4,466.9 457.3,465.2 458.2,463.4 459.1,461.6 459.9,459.8 460.8,458.0 461.8,456.4 462.9,455.3 464.4,455.3 466.1,455.9 467.8,456.7 469.6,457.0 471.3,456.7 473.1,455.8 474.8,454.8 476.5,453.8 478.2,452.9 480.1,452.2 482.0,451.9 484.0,451.7 486.0,451.7 487.9,451.7 489.6,452.1 490.8,453.2 491.7,454.8 492.5,456.7 493.2,458.5 493.9,460.4 494.7,462.2 495.7,463.8 496.9,464.9 498.4,464.9 499.7,464.0 501.1,463.2 502.4,463.3 503.7,464.3 505.1,465.8 506.4,467.2 507.7,468.7 509.1,470.2 510.5,471.7 511.9,473.1 513.3,474.5 514.7,475.9 516.1,477.4 517.5,478.7 519.1,479.9 520.8,480.7 522.7,481.2 524.6,481.6 526.6,482.1 528.4,482.7 530.1,483.7 531.5,485.0 533.0,486.4 534.4,487.8 535.8,489.2 537.2,490.5 538.8,491.6 540.6,492.1 542.5,492.3 544.5,492.4 546.3,492.7 548.0,493.6 549.5,494.8 551.0,496.1 552.5,497.5 554.0,498.8 555.5,500.1 557.0,501.4 558.5,502.5 560.2,502.9 562.0,502.6 563.9,502.1 565.6,501.9 567.2,502.4 568.7,503.5 570.1,504.5 571.6,504.6 573.0,503.7 574.4,502.5 576.0,501.6 577.9,501.2 579.8,501.1 581.8,501.0 583.8,500.8 585.7,500.3 587.6,499.7 589.5,499.1 591.4,498.6 593.2,498.6 594.9,499.3 596.6,500.3 598.3,501.4 599.9,502.5 601.7,503.4 603.5,504.0 605.3,504.0 607.1,503.5 608.5,502.4 609.8,500.9 611.1,499.4 612.4,497.9 613.9,496.6 615.6,495.6 617.4,494.8 619.2,494.0 620.8,492.9 622.0,491.5 623.0,489.8 623.9,488.0 624.8,486.3 625.8,484.5 626.9,482.9 628.1,481.3 629.4,479.8 630.6,478.2 631.9,476.7 633.3,475.2 634.7,473.8 636.2,472.5 637.8,471.3 639.3,470.0 640.8,468.7 641.9,467.2 642.8,465.4 643.6,463.6 644.3,461.7 645.1,459.9 645.8,458.0 646.6,456.2 647.4,454.3 648.4,452.7 649.7,451.2 651.2,450.0 652.7,448.7 654.2,447.4 655.6,445.9 656.8,444.4 658.1,442.8 659.3,441.3 660.5,439.6 661.5,437.9 662.4,436.1 663.3,434.4 664.2,432.6 665.1,430.8 666.0,429.0 666.9,427.2 667.8,425.4 668.7,423.7 669.7,421.9 670.8,420.3 672.2,418.8 673.6,417.4 675.0,416.0 676.3,414.5 677.5,412.9 678.3,411.2 678.8,409.3 679.3,407.4 679.8,405.4 680.3,403.5 680.9,401.6 681.6,399.7 682.4,397.9 683.3,396.1 684.1,394.3 685.0,392.5 685.8,390.7 686.5,388.8 687.2,386.9 687.9,385.0 688.5,383.2 689.4,381.5 690.5,380.3 691.7,379.2 692.7,377.8 693.4,376.0 694.1,374.1 694.7,372.2 695.4,370.4 696.1,368.5 696.8,366.6 697.6,364.8 698.4,362.9 699.2,361.1 700.0,359.3 701.1,357.8 702.6,356.5 704.2,355.5 705.9,355.2 707.7,355.3 709.3,355.2 710.4,354.3 711.2,352.7 711.8,350.8 712.5,348.9 713.1,347.0 713.7,345.1 714.2,343.2 714.8,341.3 715.4,339.3 716.0,337.4 716.5,335.5 717.1,333.6 717.7,331.7 718.5,329.9 719.3,328.1 720.2,326.3 721.1,324.5 722.0,322.7 722.9,320.9 723.8,319.1 724.7,317.3 725.5,315.5 726.2,313.6 727.0,311.8 727.8,309.9 728.7,308.1 729.6,306.4 730.6,304.6 731.6,302.9 732.6,301.2 733.6,299.5 734.7,297.8 735.7,296.0 736.7,294.3 737.8,292.6 738.9,291.0 740.1,289.4 741.3,287.8 742.5,286.2 743.7,284.6 744.9,283.0 746.1,281.4 747.4,279.8 748.6,278.2 749.8,276.6 751.0,275.0 752.2,273.4 753.4,271.8 754.6,270.3 755.8,268.7 757.0,267.1 758.3,265.5 759.5,263.9 760.7,262.3 762.0,260.8 763.4,259.4 764.9,258.0 766.2,256.6 767.5,255.0 768.6,253.4 769.7,251.7 770.7,250.0 771.6,248.2 772.6,246.5 773.6,244.7 774.6,243.0 775.6,241.3 776.6,239.5 777.6,237.8 778.6,236.1 779.6,234.3 780.6,232.6 781.6,230.8 782.5,229.1 783.6,227.4 784.7,225.7 786.0,224.2 787.4,222.8 788.8,221.4 790.2,220.0 791.5,218.5 792.7,216.9 793.9,215.3 795.1,213.7 796.2,212.0 797.2,210.3 798.1,208.5 798.8,206.7 799.5,204.8 800.2,202.9 800.9,201.1 801.6,199.2 802.3,197.3 803.1,195.5 804.1,193.8 805.3,192.2 806.6,190.8 808.0,189.4 809.5,187.9 810.9,186.6 812.4,185.3 814.1,184.3 815.9,183.4 817.7,182.5 819.5,181.6 821.3,180.8 823.2,180.0 825.0,179.3 826.9,178.5 828.7,177.7 830.4,176.8 831.9,175.6 833.2,174.1 834.4,172.5 835.6,170.9 836.9,169.4 838.2,167.8 839.5,166.4 840.9,165.0 842.3,163.6 843.8,162.1 845.1,160.7 846.4,159.2 847.6,157.6 848.7,156.0 849.9,154.8 851.3,154.5 852.8,155.3 854.4,156.4 856.0,157.5 857.7,158.5 859.4,159.1 861.3,159.0 863.2,158.6 865.1,158.3 866.9,158.3 868.5,159.0 870.0,160.2 871.4,161.6 872.8,163.0 874.3,164.4 875.8,165.5 877.6,166.4 879.4,167.0 881.4,167.4 883.3,167.7 885.2,167.7 887.1,167.3 889.0,166.9 890.7,167.0 892.3,167.8 893.7,169.1 895.1,170.5 896.6,171.9 898.0,173.3 899.4,174.7 900.9,175.9 902.6,176.8 904.5,177.4 906.4,177.9 908.3,178.2 910.2,178.1 912.0,177.4 913.7,176.5 915.4,175.4 917.1,174.4 918.7,173.7 920.0,173.8 921.0,174.9 921.8,176.6 922.6,178.4 923.3,180.3 924.1,182.1 924.9,184.0 925.6,185.8 926.4,187.6 927.2,189.5 928.0,191.3 928.8,193.2 929.6,195.0 930.5,196.7 931.7,198.2 933.2,199.5 934.8,200.7 936.3,201.9 937.7,203.3 938.9,204.9 940.0,206.6 941.0,208.3 942.0,210.0 943.0,211.4 944.4,211.8 946.0,211.4 947.8,210.6 949.5,209.9 951.1,209.6 952.2,210.4 953.1,211.9 953.9,213.7 954.6,215.6 955.4,217.4 956.3,219.2 957.4,220.8 958.6,222.5 959.8,224.1 960.9,225.7 962.1,227.3 963.1,229.0 964.0,230.8 964.9,232.6 965.8,234.4 966.5,236.2 967.2,238.1 967.7,240.0 968.2,242.0 968.7,243.9 969.2,245.9 969.7,247.8 970.2,249.7 970.8,251.5 971.8,253.0 973.3,254.2 975.0,255.2 976.8,256.0 978.6,256.8 980.5,257.2 982.5,257.4 984.3,257.7 985.7,258.5 986.6,260.0 987.3,261.9 987.9,263.7 988.6,265.6 989.3,267.5 990.1,269.3 991.1,270.9 992.4,272.4 993.8,273.8 995.3,275.3 996.7,276.7 998.0,278.1 999.2,279.7 1000.4,281.3 1001.4,283.0 1002.3,284.8 1003.0,286.6 1003.4,288.6 1003.7,290.5 1004.0,292.5 1004.4,294.5 1005.0,296.2 1006.0,297.5 1007.6,298.3 1009.5,298.9 1011.3,299.5 1012.9,300.4 1014.0,301.8 1014.9,303.6 1015.6,305.4 1016.4,307.3 1017.1,309.2 1017.8,311.0 1018.4,312.9 1018.9,314.9 1019.5,316.8 1020.0,318.7 1020.6,320.6 1021.2,322.5 1021.9,324.4 1022.9,326.0 1024.1,327.5 1025.5,328.9 1026.9,330.4 1028.2,331.9 1029.4,333.5 1030.5,335.1 1031.6,336.8 1032.5,338.6 1033.3,340.4 1033.9,342.3 1034.6,344.2 1035.2,346.1 1035.9,348.0 1036.8,349.6 1038.1,350.8 1039.8,351.5 1041.7,352.0 1043.5,352.7 1044.8,353.7 1045.6,355.2 1046.1,357.1 1046.5,359.1 1046.9,361.0 1047.4,363.0 1047.9,364.9 1048.5,366.8 1049.1,368.7 1049.7,370.6 1050.4,372.5 1051.0,374.4 1051.8,376.2 1052.9,377.9 1054.1,379.5 1055.3,381.1 1056.5,382.7 1057.7,384.3 1058.8,385.9 1059.9,387.6 1061.1,389.2 1062.3,390.8 1063.6,392.2 1065.0,393.7 1066.1,395.3 1067.0,397.0 1067.8,398.9 1068.6,400.7 1069.5,402.5 1070.5,404.2 1071.5,405.9 1072.6,407.6 1073.6,409.4 1074.6,411.1 1075.7,412.8 1076.7,414.5 1077.7,416.2 1078.6,418.0 1079.5,419.8 1080.2,421.7 1080.9,423.5 1081.7,425.4 1082.5,427.2 1083.4,429.0 1084.3,430.7 1085.4,432.4 1086.4,434.2 1087.4,435.9 1088.4,437.6 1089.3,439.4 1090.1,441.2 1090.9,443.1 1091.6,444.9 1092.4,446.8 1093.1,448.6 1093.8,450.5 1094.4,452.4 1095.1,454.3 1095.7,456.2 1096.3,458.1 1097.0,460.0 1097.7,461.9 1098.5,463.7 1099.3,465.5 1100.2,467.3 1101.2,469.0 1102.3,470.6 1103.8,471.9 1105.4,473.0 1106.9,474.2 1108.0,475.7 1108.7,477.4 1109.2,479.4 1109.6,481.3 1110.0,483.3 1110.6,485.1 1111.5,486.9 1112.7,488.5 1113.9,490.1 1115.1,491.7 1116.2,493.3 1117.2,495.0 1118.2,496.8 1119.1,498.6 1119.9,500.4 1120.8,502.2 1121.6,504.0 1122.4,505.9 1123.1,507.7 1123.9,509.6 1124.6,511.4 1125.4,513.3 1126.1,515.1 1126.8,517.0 1127.6,518.9 1128.3,520.7 1129.1,522.6 1130.0,524.3 1131.1,526.0 1132.3,527.6 1133.5,529.2 1134.7,530.8 1135.9,532.4 1137.0,534.1 1138.0,535.8 1139.0,537.5 1140.1,539.2 1141.1,540.9 1142.1,542.6 1143.2,544.4 1144.2,546.1 1145.2,547.8 1146.2,549.5 1147.3,551.2 1148.3,552.9 1149.4,554.6 1150.6,556.2 1151.8,557.8 1153.0,559.4 1154.2,561.0 1155.4,562.6 1156.6,564.2 1157.8,565.8 1159.0,567.4 1160.2,569.0 1161.4,570.6 1162.5,572.3 1163.5,574.0 1164.5,575.7 1165.5,577.5 1166.6,579.2 1167.6,580.9 1168.8,582.5 1170.0,584.1 1171.2,585.7 1172.4,587.3 1173.5,588.9 1174.6,590.6 1175.7,592.3 1176.7,594.0 1177.7,595.8 1178.7,597.5 1179.7,599.2 1180.8,600.9 1182.0,602.5 1183.2,604.1 1184.4,605.7 1185.6,607.3 1186.8,608.9 1188.0,610.5 1189.2,612.1 1190.4,613.7 1191.6,615.3 1192.8,616.9 1193.9,618.5 1195.0,620.2 1196.2,621.9 1197.3,623.5 1198.4,625.2 1199.6,626.7 1201.0,628.2 1202.4,629.6 1203.8,631.0 1205.2,632.5 1206.5,633.9 1207.5,635.6 1208.2,637.4 1208.6,639.3 1209.0,641.3 1209.5,643.2 1210.0,645.1 1210.6,647.0 1211.4,648.9 1212.1,650.8 1212.9,652.6 1213.7,654.4 1214.7,656.1 1215.9,657.8 1217.0,659.4 1218.2,661.0 1219.4,662.6 1220.5,664.3 1221.5,666.0 1222.5,667.7 1223.5,669.4 1224.6,670.9 1225.9,672.2 1227.1,673.6 1228.1,675.3 1228.9,677.0 1229.8,678.9 1230.7,680.6 1231.9,682.1 1233.4,683.4 1234.9,684.7 1236.4,686.0 1237.8,687.4 1238.9,689.0 1240.0,690.7 1240.9,692.5 1241.9,694.3 1242.8,696.0 1243.7,697.8 1244.5,699.7 1245.2,701.5 1245.9,703.4 1246.7,705.2 1247.5,706.6 1248.4,706.9 1249.5,706.0 1250.7,704.5 1251.9,703.0 1253.1,701.6 1254.1,701.2 1254.8,702.0 1255.4,703.7 1256.0,705.6 1256.6,707.5 1257.1,709.5 1257.7,711.4 1258.3,713.3 1258.9,715.2 1259.6,717.0 1260.4,718.9 1261.2,720.7 1262.0,722.6 1262.8,724.4 1263.5,726.3 1264.4,728.0 1265.4,729.7 1266.7,731.2 1268.1,732.7 1269.5,734.1 1270.8,735.6 1272.0,737.2 1273.1,738.8 1274.1,740.6 1275.1,742.3 1276.2,744.0 1277.2,745.7 1278.1,747.5 1279.1,749.2 1279.9,751.0 1280.8,752.8 1281.7,754.6 1282.6,756.4 1283.7,757.8 1285.1,758.4 1286.8,758.2 1288.6,757.9 1290.1,758.1 1291.3,759.2 1292.3,760.8 1293.2,762.6 1294.0,764.4 1294.9,766.2 1295.8,768.0 1296.5,769.8 1297.1,771.7 1297.5,773.7 1297.9,775.6 1298.4,777.6 1299.0,779.4 1300.0,781.0 1301.4,782.3 1303.0,783.5 1304.6,784.7 1306.2,785.8 1307.9,786.9 1309.6,787.9 1311.4,788.8 1313.2,789.7 1315.0,790.6 1316.7,791.5 1318.5,792.2 1320.1,792.2 1321.7,791.5 1323.1,790.2 1324.5,788.9 1325.8,788.1 1326.7,788.5 1327.5,789.9 1328.1,791.7 1328.7,793.6 1329.4,795.5 1330.1,797.4 1330.9,799.1 1332.2,800.6 1333.7,801.8 1335.3,803.0 1336.9,804.3 1338.3,805.6 1339.6,807.0 1340.5,808.8 1341.2,810.6 1341.9,812.5 1342.6,814.4 1343.3,816.2 1344.2,818.0 1345.2,819.7 1346.4,821.3 1347.6,822.9 1348.8,824.5 1350.0,826.0 1351.4,827.4 1352.9,828.8 1354.5,830.0 1356.0,831.4 1357.4,832.7 1358.8,834.0 1360.1,834.8 1361.0,834.4 1361.7,832.9 1362.4,831.1 1363.0,829.2 1363.5,827.3 1364.2,825.4 1364.9,824.0 1365.9,823.5 1367.3,824.2 1368.8,825.4 1370.3,826.6 1371.9,827.9 1373.4,829.2 1374.9,830.5 1376.4,831.8 1377.8,833.1 1379.0,834.1 1379.9,834.1 1380.5,832.9 1381.0,831.1 1381.4,829.2 1381.8,827.2 1382.4,825.5 1383.4,824.3 1385.0,823.8 1386.9,823.7 1388.8,823.8 1390.4,824.4 1391.4,825.7 1392.1,827.5 1392.6,829.4 1393.2,831.3 1393.7,833.3 1394.2,835.2 1394.8,837.1 1395.3,839.1 1395.8,841.0 1396.3,842.9 1396.8,844.9 1397.2,846.8 1397.7,848.8 1398.2,850.7 1398.7,852.6 1399.3,854.5 1400.1,856.3 1401.1,858.0 1402.3,859.6 1403.5,861.1 1405.1,862.2 1406.9,862.9 1408.6,863.8 1409.8,865.0 1410.5,866.6 1411.0,868.5 1411.4,870.5 1411.9,872.4 1412.7,874.0 1413.9,875.3 1415.6,876.3 1417.4,877.2 1419.1,878.2 1420.5,879.4 1421.7,881.0 1422.6,882.7 1423.5,884.5 1424.5,886.2 1425.9,887.5 1427.5,888.4 1429.4,889.2 1431.2,889.9 1433.0,890.7 1434.6,891.7 1435.7,893.1 1436.4,894.9 1437.0,896.8 1437.6,898.7 1438.1,900.6 1438.7,902.6 1439.2,904.5 1439.9,906.3 1440.7,908.1 1441.7,909.3 1442.8,909.3 1444.2,908.4 1445.6,907.0 1447.0,905.6 1448.5,904.3 1449.9,903.5 1451.3,903.6 1452.7,904.6 1454.1,906.0 1455.5,907.5 1456.6,909.0 1457.4,910.8 1458.0,912.7 1458.5,914.6 1459.0,916.6 1459.6,918.5 1460.2,920.4 1460.9,921.8 1461.9,922.4 1463.4,921.8 1465.0,920.8 1466.7,919.9 1468.6,919.4 1470.5,919.2 1472.5,919.2 1474.4,919.4 1476.0,920.2 1477.3,921.5 1478.4,923.0 1479.6,924.7 1480.8,926.2 1482.2,927.7 1483.6,929.1 1485.0,930.3 1486.5,931.0 1488.1,930.7 1489.7,929.8 1491.4,928.7 1492.9,927.5 1494.4,926.1 1495.9,924.7 1497.2,923.5 1498.5,922.7 1499.4,923.2 1500.1,924.6 1500.7,926.5 1501.2,928.4 1501.8,930.3 1502.4,932.2 1503.0,934.0 1503.9,935.1 1505.3,935.2 1506.7,934.7 1507.2,934.4" fill="none" stroke="#00FF00" stroke-width="4.6" stroke-linejoin="round" stroke-linecap="butt"/>
<polyline points="265.6,1083.0 267.0,1082.9 268.8,1082.8 270.8,1082.7 272.8,1082.6 274.8,1082.5 276.8,1082.4 278.8,1082.2 280.8,1082.0 282.7,1081.8 284.7,1081.5 286.7,1081.2 288.7,1080.9 290.7,1080.6 292.7,1080.3 294.6,1080.1 296.6,1079.8 298.5,1079.4 300.2,1078.7 301.5,1077.4 302.5,1075.8 303.5,1074.0 304.5,1072.3 305.4,1070.5 306.4,1068.8 307.3,1067.0 308.3,1065.3 309.4,1064.1 310.8,1063.8 312.5,1064.3 314.2,1065.2 315.6,1066.5 316.9,1068.0 317.9,1069.7 319.0,1071.4 320.0,1073.1 321.0,1074.8 322.1,1076.5 323.1,1078.2 324.3,1079.6 325.9,1080.4 327.7,1080.7 329.7,1080.8 331.7,1080.8 333.7,1080.9 335.7,1080.9 337.7,1080.9 339.7,1081.0 341.7,1081.0 343.7,1081.0 345.7,1081.1 347.7,1081.1 349.7,1081.1 351.7,1081.2 353.7,1081.2 355.7,1081.3 357.7,1081.3 359.7,1081.3 361.7,1081.4 363.7,1081.4 365.7,1081.4 367.7,1081.4 369.7,1081.3 371.6,1080.9 373.6,1080.4 375.5,1079.9 377.4,1079.4 379.4,1079.0 381.3,1078.5 383.2,1077.9 385.1,1077.3 387.0,1076.6 388.9,1075.9 390.7,1075.2 392.6,1074.4 394.5,1073.7 396.3,1073.0 398.2,1072.2 400.0,1071.4 401.8,1070.6 403.6,1069.7 405.4,1068.7 407.2,1067.8 408.9,1066.8 410.5,1065.7 412.1,1064.5 413.6,1063.2 415.2,1061.9 416.7,1060.6 418.2,1059.3 419.8,1058.1 421.3,1056.8 422.8,1055.5 424.4,1054.2 425.9,1052.9 427.4,1051.6 428.9,1050.3 430.3,1048.9 431.7,1047.5 433.2,1046.0 434.6,1044.6 436.0,1043.2 437.3,1041.8 438.7,1040.3 439.9,1038.7 441.2,1037.1 442.4,1035.6 443.6,1034.0 444.7,1032.3 445.7,1030.6 446.7,1028.9 447.7,1027.1 448.7,1025.4 449.7,1023.6 450.6,1021.9 451.6,1020.1 452.5,1018.3 453.4,1016.5 454.3,1014.7 455.2,1013.0 456.0,1011.2 456.9,1009.4 457.7,1007.5 458.5,1005.7 459.4,1003.9 460.2,1002.1 461.0,1000.2 461.8,998.4 462.6,996.6 463.3,994.7 464.0,992.8 464.7,991.0 465.4,989.1 466.1,987.2 466.8,985.3 467.6,983.5 468.3,981.6 469.1,979.8 469.9,977.9 470.7,976.1 471.4,974.3 472.2,972.4 472.9,970.5 473.5,968.6 474.2,966.7 474.8,964.8 475.4,962.9 476.1,961.1 476.7,959.2 477.4,957.3 478.1,955.4 478.8,953.5 479.5,951.7 480.2,949.8 480.9,947.9 481.6,946.0 482.3,944.2 482.9,942.3 483.5,940.4 484.2,938.5 484.8,936.6 485.4,934.7 486.0,932.8 486.7,930.9 487.3,929.0 487.9,927.1 488.5,925.2 489.2,923.3 489.8,921.4 490.4,919.5 491.0,917.6 491.6,915.6 492.1,913.7 492.7,911.8 493.3,909.9 493.8,908.0 494.4,906.0 494.9,904.1 495.4,902.2 495.9,900.2 496.4,898.3 496.9,896.4 497.4,894.4 497.9,892.5 498.4,890.5 498.9,888.6 499.4,886.7 499.9,884.7 500.4,882.8 500.9,880.9 501.3,878.9 501.8,877.0 502.3,875.0 502.8,873.1 503.3,871.2 503.8,869.2 504.3,867.3 504.8,865.3 505.3,863.4 505.7,861.5 506.2,859.5 506.7,857.6 507.2,855.6 507.7,853.7 508.2,851.8 508.7,849.8 509.2,847.9 509.7,846.0 510.3,844.0 510.8,842.1 511.3,840.2 511.9,838.3 512.4,836.3 513.0,834.4 513.5,832.5 514.1,830.6 514.6,828.6 515.1,826.7 515.7,824.8 516.2,822.9 516.8,820.9 517.3,819.0 517.9,817.1 518.4,815.2 518.9,813.2 519.4,811.3 519.9,809.3 520.3,807.4 520.7,805.4 521.2,803.5 521.6,801.5 522.0,799.6 522.5,797.6 522.9,795.7 523.3,793.7 523.8,791.8 524.2,789.8 524.6,787.9 525.0,785.9 525.4,783.9 525.8,782.0 526.2,780.0 526.6,778.0 526.9,776.1 527.2,774.1 527.5,772.1 527.8,770.1 528.0,768.2 528.3,766.2 528.6,764.2 528.9,762.2 529.3,760.3 529.8,758.3 530.3,756.4 530.9,754.5 531.4,752.6 531.9,750.6 532.4,748.7 532.8,746.7 533.2,744.8 533.7,742.8 534.1,740.9 534.5,738.9 535.0,737.0 535.4,735.0 535.8,733.1 536.3,731.1 536.7,729.2 537.1,727.2 537.6,725.3 538.1,723.3 538.5,721.4 539.0,719.4 539.5,717.5 540.0,715.5 540.5,713.6 541.0,711.7 541.4,709.7 541.9,707.8 542.4,705.8 542.9,703.9 543.4,702.0 543.9,700.0 544.4,698.1 544.8,696.1 545.3,694.2 545.8,692.3 546.3,690.3 546.8,688.4 547.3,686.4 547.7,684.5 548.2,682.5 548.7,680.6 549.1,678.6 549.6,676.7 550.0,674.7 550.4,672.8 550.8,670.8 551.3,668.9 551.7,666.9 552.1,665.0 552.5,663.0 553.0,661.1 553.4,659.1 553.8,657.2 554.2,655.2 554.6,653.2 555.1,651.3 555.5,649.3 555.9,647.4 556.3,645.4 556.7,643.5 557.2,641.5 557.6,639.5 558.0,637.6 558.5,635.6 558.9,633.7 559.4,631.8 559.9,629.8 560.4,627.9 560.9,625.9 561.3,624.0 561.8,622.1 562.3,620.1 562.7,618.2 563.1,616.2 563.5,614.2 563.8,612.3 564.2,610.3 564.5,608.3 564.8,606.3 565.2,604.4 565.5,602.4 565.8,600.4 566.2,598.5 566.5,596.5 566.8,594.5 567.2,592.5 567.6,590.6 568.0,588.6 568.6,586.7 569.2,584.8 569.8,582.9 570.4,581.0 570.8,579.1 571.0,577.1 571.1,575.1 571.3,573.1 571.4,571.1 571.5,569.1 571.7,567.1 571.8,565.1 571.9,563.1 572.1,561.1 572.2,559.1 572.3,557.1 572.5,555.1 572.7,553.2 573.0,551.2 573.4,549.2 573.7,547.3 574.1,545.3 574.5,543.3 574.9,541.4 575.3,539.4 575.7,537.4 576.1,535.5 576.5,533.5 576.9,531.6 577.3,529.6 577.7,527.6 578.1,525.7 578.5,523.7 578.9,521.8 579.3,519.8 579.7,517.8 580.1,515.9 580.6,513.9 581.0,512.0 581.5,510.0 581.9,508.1 582.3,506.1 582.8,504.2 583.2,502.2 583.6,500.3 584.1,498.3 584.5,496.4 584.9,494.4 585.4,492.5 585.9,490.5 586.3,488.6 586.8,486.6 587.3,484.7 587.8,482.8 588.3,480.8 588.7,478.9 589.2,476.9 589.7,475.0 590.2,473.1 590.7,471.1 591.1,469.2 591.7,467.2 592.2,465.3 592.7,463.4 593.3,461.5 593.8,459.5 594.4,457.6 594.9,455.7 595.5,453.8 596.0,451.8 596.6,449.9 597.1,448.0 597.7,446.1 598.2,444.1 598.7,442.2 599.2,440.3 599.7,438.3 600.2,436.4 600.7,434.4 601.1,432.5 601.6,430.6 602.2,428.6 602.8,426.7 603.4,424.9 604.1,423.0 604.8,421.1 605.5,419.2 606.0,417.3 606.5,415.4 607.0,413.4 607.6,411.5 608.1,409.6 608.6,407.6 609.1,405.7 609.6,403.8 610.1,401.8 610.5,399.9 611.0,397.9 611.5,396.0 612.0,394.0 612.4,392.1 612.9,390.2 613.4,388.2 613.9,386.3 614.4,384.3 614.9,382.4 615.4,380.5 615.8,378.5 616.3,376.6 616.8,374.6 617.2,372.7 617.7,370.7 618.1,368.8 618.5,366.8 619.0,364.9 619.4,362.9 619.8,361.0 620.3,359.0 620.7,357.1 621.2,355.1 621.6,353.2 622.0,351.2 622.5,349.3 622.9,347.3 623.3,345.3 623.8,343.4 624.3,341.5 624.8,339.5 625.3,337.6 625.8,335.7 626.4,333.7 626.9,331.8 627.5,329.9 628.0,328.0 628.5,326.0 629.0,324.1 629.6,322.2 630.1,320.2 630.6,318.3 631.1,316.4 631.7,314.5 632.3,312.6 633.0,310.7 633.7,308.8 634.4,306.9 635.0,305.0 635.7,303.2 636.4,301.3 637.1,299.4 637.7,297.5 638.2,295.6 638.8,293.6 639.3,291.7 639.9,289.8 640.4,287.9 641.0,285.9 641.5,284.0 642.1,282.1 642.6,280.2 643.1,278.2 643.7,276.3 644.2,274.4 644.7,272.5 645.2,270.5 645.8,268.6 646.3,266.7 646.8,264.7 647.4,262.8 647.9,260.9 648.5,259.0 649.1,257.1 649.6,255.1 650.2,253.2 650.8,251.3 651.4,249.4 652.0,247.5 652.8,245.6 653.5,243.8 654.3,242.0 655.1,240.1 655.9,238.3 656.6,236.4 657.4,234.6 658.1,232.7 658.8,230.8 659.5,228.9 660.2,227.1 660.8,225.2 661.5,223.3 662.2,221.4 662.8,219.5 663.4,217.6 664.1,215.7 664.7,213.8 665.3,211.9 665.9,210.0 666.5,208.1 667.1,206.2 667.6,204.3 668.2,202.4 668.8,200.4 669.5,198.6 670.3,196.7 671.2,194.9 672.0,193.2 673.0,191.4 674.0,189.7 675.2,188.2 676.6,186.7 678.0,185.3 679.4,183.9 680.8,182.4 682.0,180.9 683.0,179.2 683.9,177.4 684.8,175.6 685.5,173.7 686.2,171.9 686.8,170.0 687.4,168.1 688.1,166.2 688.7,164.3 689.5,162.5 690.6,160.9 691.9,159.4 693.4,158.0 694.8,156.7 696.5,155.7 698.3,155.0 700.2,154.4 702.1,153.9 703.8,153.1 705.2,151.9 706.4,150.3 707.6,148.7 708.9,147.5 710.6,146.6 712.5,146.0 714.4,145.6 716.4,145.2 718.4,145.0 720.4,144.9 722.4,144.9 724.4,144.9 726.4,145.0 728.3,145.2 730.3,145.5 732.3,145.8 734.1,146.4 735.9,147.3 737.5,148.3 739.2,149.2 740.9,149.6 742.7,149.6 744.6,149.9 746.4,150.5 748.2,151.3 749.9,152.3 751.6,153.2 753.5,153.8 755.4,154.3 757.1,155.0 758.7,156.0 760.1,156.6 761.6,156.2 763.2,155.2 764.7,154.5 766.1,154.8 767.4,156.0 768.6,157.5 769.8,159.1 771.0,160.7 772.1,162.4 773.1,164.1 774.2,165.8 775.2,167.5 776.2,169.2 777.3,170.9 778.4,172.6 779.6,174.2 780.8,175.7 782.1,177.3 783.3,178.9 784.6,180.4 785.8,182.0 787.0,183.6 788.3,185.2 789.5,186.8 790.7,188.4 791.9,190.0 793.1,191.6 794.3,193.2 795.4,194.8 796.6,196.4 797.8,198.0 799.1,199.5 800.4,201.0 801.8,202.5 803.1,204.0 804.1,205.6 804.9,207.4 805.7,209.3 806.4,211.1 807.2,213.0 808.1,214.7 809.3,216.2 810.7,217.7 812.1,219.1 813.4,220.6 814.5,222.2 815.4,224.0 816.1,225.8 816.9,227.7 817.6,229.6 818.4,231.4 819.2,233.3 820.0,235.1 820.9,236.8 821.9,238.6 822.9,240.3 823.8,242.1 824.7,243.9 825.4,245.7 826.1,247.6 826.8,249.5 827.6,251.3 828.3,253.2 829.0,255.0 829.8,256.9 830.6,258.7 831.4,260.6 832.2,262.4 833.1,264.2 834.0,266.0 835.0,267.7 836.0,269.4 837.0,271.2 838.0,272.9 839.1,274.6 840.2,276.2 841.3,277.9 842.4,279.6 843.4,281.3 844.3,283.0 845.1,284.9 845.8,286.7 846.5,288.6 847.2,290.5 847.9,292.4 848.7,294.2 849.5,296.1 850.3,297.9 851.0,299.7 851.8,301.6 852.6,303.4 853.4,305.2 854.2,307.1 855.0,308.9 855.7,310.8 856.5,312.6 857.3,314.5 858.1,316.3 858.9,318.1 859.7,320.0 860.5,321.8 861.2,323.7 862.0,325.5 862.7,327.4 863.4,329.3 864.1,331.1 864.8,333.0 865.5,334.9 866.2,336.7 867.0,338.6 867.8,340.4 868.6,342.2 869.5,344.0 870.5,345.8 871.5,347.4 872.7,349.1 873.8,350.8 874.8,352.5 875.8,354.2 876.7,356.0 877.7,357.7 878.6,359.5 879.5,361.3 880.3,363.1 881.2,364.9 882.1,366.7 883.0,368.5 883.9,370.3 884.8,372.1 885.6,373.9 886.5,375.7 887.4,377.5 888.2,379.3 888.9,381.2 889.6,383.0 890.3,384.9 891.0,386.8 891.7,388.7 892.5,390.5 893.4,392.3 894.3,394.1 895.1,395.9 895.8,397.8 896.5,399.7 897.1,401.5 897.8,403.4 898.4,405.3 899.0,407.3 899.5,409.2 900.1,411.1 900.7,413.0 901.3,414.9 901.9,416.8 902.5,418.7 903.1,420.6 903.7,422.5 904.4,424.4 905.0,426.3 905.6,428.2 906.2,430.1 906.9,432.0 907.6,433.9 908.3,435.8 909.1,437.6 909.8,439.5 910.6,441.3 911.4,443.1 912.4,444.9 913.4,446.6 914.4,448.3 915.5,450.0 916.5,451.7 917.4,453.5 918.2,455.3 918.9,457.2 919.5,459.1 920.1,461.0 920.7,462.9 921.4,464.8 922.1,466.7 922.8,468.5 923.5,470.4 924.3,472.3 925.0,474.1 925.8,475.9 926.6,477.8 927.5,479.6 928.4,481.4 929.2,483.2 930.1,485.0 931.0,486.8 931.9,488.6 932.8,490.3 933.7,492.1 934.6,493.9 935.5,495.7 936.4,497.5 937.3,499.3 938.2,501.1 939.0,502.9 939.8,504.7 940.6,506.5 941.4,508.4 942.2,510.2 943.0,512.1 943.8,513.9 944.6,515.7 945.5,517.5 946.4,519.3 947.4,521.0 948.5,522.7 949.5,524.4 950.5,526.2 951.5,527.9 952.4,529.7 953.3,531.4 954.2,533.2 955.1,535.0 956.0,536.8 956.9,538.6 957.8,540.4 958.6,542.2 959.4,544.0 960.2,545.9 961.0,547.7 961.8,549.6 962.6,551.4 963.4,553.2 964.1,555.1 964.8,557.0 965.5,558.8 966.1,560.7 966.7,562.6 967.4,564.5 968.0,566.4 968.7,568.3 969.5,570.1 970.4,571.9 971.3,573.7 972.2,575.5 973.1,577.3 974.0,579.1 974.9,580.9 975.8,582.6 976.7,584.4 977.6,586.2 978.5,588.0 979.4,589.8 980.3,591.6 981.2,593.4 982.1,595.2 983.0,597.0 983.8,598.7 984.7,600.5 985.6,602.3 986.5,604.1 987.4,605.9 988.3,607.7 989.2,609.5 990.1,611.3 991.0,613.1 991.9,614.9 992.8,616.6 993.7,618.4 994.6,620.2 995.5,622.0 996.4,623.8 997.4,625.5 998.3,627.3 999.2,629.1 1000.0,630.9 1000.6,632.8 1001.1,634.7 1001.5,636.7 1002.1,638.6 1002.9,640.4 1003.8,642.1 1004.5,643.9 1005.0,645.8 1005.4,647.7 1005.7,649.7 1006.1,651.6 1006.6,653.5 1007.5,655.0 1008.4,656.4 1009.2,658.1 1009.7,659.9 1010.3,661.8 1011.0,663.7 1011.8,665.5 1012.7,667.3 1013.6,669.1 1014.5,670.9 1015.4,672.7 1016.3,674.5 1017.2,676.3 1018.1,678.0 1019.2,679.6 1020.5,681.0 1022.1,682.2 1023.7,683.4 1025.2,684.7 1026.3,686.3 1027.3,688.0 1028.2,689.8 1029.1,691.5 1030.0,693.3 1030.9,695.1 1031.9,696.9 1033.0,698.5 1034.1,700.2 1035.3,701.8 1036.5,703.4 1037.6,705.0 1038.4,706.8 1039.1,708.7 1039.6,710.6 1040.2,712.5 1040.9,714.4 1041.6,716.2 1042.3,718.1 1042.9,720.0 1043.5,721.9 1044.0,723.8 1044.8,725.7 1045.7,727.4 1046.7,729.2 1047.7,730.9 1048.7,732.7 1049.6,734.4 1050.6,736.1 1051.7,737.9 1052.8,739.5 1053.9,741.2 1055.0,742.9 1056.0,744.5 1057.0,746.3 1057.8,748.1 1058.5,750.0 1059.1,751.9 1059.9,753.7 1060.8,755.4 1061.9,757.1 1063.0,758.7 1064.0,760.4 1064.8,762.3 1065.6,764.1 1066.4,765.9 1067.2,767.8 1067.9,769.6 1068.7,771.4 1069.7,773.2 1070.8,774.8 1072.2,776.2 1073.6,777.7 1075.0,779.1 1076.4,780.5 1077.7,782.0 1078.9,783.6 1080.0,785.3 1081.0,787.0 1082.1,788.7 1083.1,790.4 1084.2,792.0 1085.4,793.6 1086.8,795.1 1088.2,796.5 1089.6,797.9 1091.0,799.3 1092.4,800.8 1093.6,802.4 1094.7,804.0 1095.7,805.7 1096.7,807.5 1097.7,809.2 1098.8,810.9 1099.9,812.5 1101.1,814.1 1102.4,815.7 1103.6,817.2 1104.9,818.8 1106.1,820.4 1107.3,822.0 1108.5,823.6 1109.5,825.3 1110.6,827.0 1111.6,828.7 1112.6,830.4 1113.7,832.1 1114.9,833.7 1116.3,835.1 1117.7,836.6 1119.1,838.0 1120.5,839.4 1121.9,840.8 1123.3,842.3 1124.5,843.8 1125.5,845.5 1126.4,847.3 1127.2,849.1 1128.0,850.9 1128.8,852.8 1129.6,854.6 1130.4,856.4 1131.2,857.9 1132.0,858.6 1132.8,858.2 1133.8,857.9 1134.9,858.7 1136.1,860.1 1137.4,861.6 1138.7,863.2 1140.0,864.6 1141.4,866.1 1142.8,867.4 1144.3,868.8 1145.7,870.2 1147.0,871.7 1148.3,873.2 1149.7,874.7 1151.2,876.0 1152.7,877.3 1154.3,878.4 1156.0,879.5 1157.5,880.8 1158.9,882.2 1160.0,883.8 1160.9,885.6 1161.8,887.4 1162.8,889.1 1163.9,890.7 1165.2,892.3 1166.4,893.9 1167.7,895.4 1169.2,896.7 1170.8,897.8 1172.3,899.0 1173.7,900.4 1175.0,901.9 1176.1,903.6 1177.3,905.1 1178.7,906.5 1180.3,907.4 1182.2,908.0 1184.1,908.3 1186.0,908.5 1187.6,908.7 1188.8,909.6 1189.6,911.1 1190.3,913.0 1191.1,914.8 1191.9,916.6 1192.8,918.4 1193.7,920.2 1194.6,922.0 1195.7,923.5 1197.0,924.3 1198.7,924.4 1200.6,924.1 1202.4,924.0 1203.9,924.6 1205.1,925.9 1206.3,927.5 1207.6,928.9 1209.1,930.2 1210.7,931.5 1212.3,932.7 1213.8,933.9 1215.3,935.3 1216.8,936.7 1218.2,938.1 1219.6,939.5 1221.0,940.8 1222.6,942.1 1224.1,943.4 1225.7,944.6 1227.3,945.8 1229.0,946.9 1230.7,948.0 1232.4,949.0 1234.1,950.0 1235.8,951.0 1237.5,952.1 1239.2,953.2 1240.8,954.4 1242.4,955.6 1244.0,956.8 1245.7,957.9 1247.4,958.8 1249.2,959.8 1250.9,960.7 1252.7,961.7 1254.3,962.9 1255.9,964.0 1257.5,965.2 1259.2,966.3 1261.0,967.2 1262.8,968.0 1264.6,968.8 1266.5,969.5 1268.2,970.5 1269.8,971.7 1271.2,973.0 1272.6,974.5 1273.9,975.9 1275.2,977.5 1276.4,979.1 1277.6,980.7 1278.9,982.1 1280.5,983.1 1282.4,983.7 1284.3,984.2 1286.2,984.7 1288.2,985.2 1290.1,985.7 1292.0,986.3 1293.6,987.2 1295.0,988.5 1296.2,990.0 1297.5,991.4 1299.1,992.3 1301.0,992.9 1302.9,993.4 1304.8,994.0 1306.6,994.8 1308.4,995.7 1310.2,996.6 1312.0,997.5 1313.8,998.4 1315.6,999.2 1317.4,1000.1 1319.2,1000.9 1321.1,1001.5 1323.1,1002.0 1325.0,1002.5 1326.9,1003.0 1328.9,1003.5 1330.8,1004.0 1332.8,1004.5 1334.7,1005.0 1336.6,1005.4 1338.6,1005.9 1340.5,1006.3 1342.5,1006.7 1344.4,1007.1 1346.2,1007.8 1347.8,1008.8 1349.4,1010.0 1351.0,1011.1 1352.7,1011.9 1354.3,1012.4 1355.8,1013.1 1357.2,1014.0 1358.9,1014.5 1360.7,1014.9 1362.6,1015.4 1364.5,1016.1 1366.4,1016.8 1368.2,1017.5 1370.1,1018.1 1372.1,1018.6 1374.0,1018.9 1376.0,1019.3 1378.0,1019.6 1379.9,1020.1 1381.8,1020.7 1383.6,1021.4 1385.5,1022.1 1387.4,1022.7 1389.3,1023.4 1391.2,1024.0 1393.1,1024.6 1395.0,1025.1 1396.9,1025.3 1398.9,1025.5 1400.8,1025.9 1402.8,1026.4 1404.7,1027.0 1406.6,1027.6 1408.4,1028.5 1410.1,1029.4 1411.9,1030.3 1413.7,1031.1 1415.6,1031.5 1417.5,1031.7 1419.5,1031.8 1421.4,1032.0 1423.2,1032.7 1424.9,1033.7 1426.6,1034.8 1428.3,1035.9 1430.1,1036.8 1431.9,1037.5 1433.8,1038.2 1435.7,1038.8 1437.6,1039.4 1439.5,1039.9 1441.5,1040.4 1443.4,1040.9 1445.4,1041.3 1447.3,1041.7 1449.3,1041.9 1451.3,1041.9 1453.3,1042.0 1455.2,1042.2 1457.2,1042.6 1459.1,1043.2 1461.0,1043.8 1462.8,1044.0 1464.7,1043.7 1466.6,1043.2 1468.5,1042.7 1470.4,1042.5 1472.2,1042.9 1474.0,1043.6 1475.9,1044.2 1477.8,1044.4 1479.4,1044.5 1480.0,1044.5" fill="none" stroke="#0000FF" stroke-width="4.6" stroke-linejoin="round" stroke-linecap="butt"/>
<polyline points="220.8,1082.9 222.1,1082.8 224.0,1082.6 226.0,1082.3 228.0,1082.1 229.9,1081.9 231.9,1081.7 233.9,1081.5 235.9,1081.2 237.9,1081.0 239.9,1080.8 241.9,1080.6 243.9,1080.4 245.9,1080.1 247.8,1079.9 249.8,1079.7 251.8,1079.4 253.6,1078.9 255.2,1077.9 256.6,1076.6 257.9,1075.0 259.1,1073.5 260.4,1072.0 261.7,1070.4 263.0,1068.9 264.3,1067.4 265.5,1065.8 266.8,1064.3 268.1,1062.7 269.3,1061.2 270.6,1059.6 271.8,1058.0 273.0,1056.4 274.2,1054.8 275.4,1053.2 276.6,1051.6 277.8,1050.0 279.0,1048.4 280.2,1046.8 281.4,1045.2 282.5,1043.5 283.6,1041.9 284.6,1040.2 285.7,1038.5 286.7,1036.7 287.8,1035.0 288.8,1033.3 289.8,1031.6 290.8,1029.9 291.8,1028.1 292.6,1026.3 293.4,1024.5 294.1,1022.6 294.9,1020.8 295.7,1018.9 296.5,1017.1 297.2,1015.2 298.0,1013.4 298.8,1011.5 299.5,1009.7 300.3,1007.9 301.1,1006.0 301.9,1004.2 302.6,1002.3 303.3,1000.4 303.9,998.5 304.4,996.6 304.9,994.7 305.3,992.7 305.8,990.8 306.2,988.8 306.7,986.9 307.1,984.9 307.6,983.0 308.1,981.0 308.5,979.1 309.0,977.1 309.5,975.2 310.0,973.3 310.5,971.3 311.0,969.4 311.5,967.4 312.0,965.5 312.5,963.6 313.0,961.6 313.5,959.7 314.0,957.8 314.5,955.8 315.0,953.9 315.5,952.0 316.0,950.0 316.5,948.1 317.0,946.1 317.5,944.2 317.9,942.2 318.3,940.3 318.8,938.3 319.2,936.4 319.6,934.4 320.1,932.5 320.5,930.5 320.9,928.6 321.3,926.6 321.8,924.7 322.2,922.7 322.6,920.7 323.1,918.8 323.5,916.8 323.9,914.9 324.3,912.9 324.6,910.9 324.9,909.0 325.3,907.0 325.6,905.0 326.0,903.1 326.3,901.1 326.6,899.1 327.0,897.1 327.3,895.2 327.7,893.2 328.0,891.2 328.3,889.3 328.7,887.3 329.0,885.3 329.3,883.3 329.6,881.4 329.9,879.4 330.2,877.4 330.5,875.4 330.8,873.4 331.1,871.5 331.4,869.5 331.7,867.5 332.0,865.5 332.3,863.6 332.6,861.6 332.9,859.6 333.2,857.6 333.5,855.6 333.8,853.7 334.1,851.7 334.4,849.7 334.7,847.7 335.0,845.7 335.3,843.8 335.6,841.8 335.9,839.8 336.2,837.8 336.4,835.9 336.7,833.9 337.0,831.9 337.3,829.9 337.6,827.9 337.9,826.0 338.2,824.0 338.5,822.0 338.8,820.0 339.1,818.0 339.4,816.1 339.7,814.1 340.0,812.1 340.3,810.1 340.6,808.1 340.9,806.2 341.2,804.2 341.5,802.2 341.8,800.2 342.1,798.3 342.4,796.3 342.7,794.3 343.0,792.3 343.3,790.3 343.5,788.4 343.8,786.4 344.1,784.4 344.4,782.4 344.7,780.4 345.0,778.5 345.3,776.5 345.6,774.5 345.9,772.5 346.2,770.6 346.5,768.6 346.8,766.6 347.1,764.6 347.4,762.6 347.7,760.7 348.0,758.7 348.3,756.7 348.6,754.7 348.9,752.7 349.2,750.8 349.5,748.8 349.8,746.8 350.1,744.8 350.4,742.9 350.7,740.9 351.0,738.9 351.3,736.9 351.6,734.9 351.9,733.0 352.2,731.0 352.5,729.0 352.8,727.0 353.1,725.1 353.4,723.1 353.7,721.1 353.9,719.1 354.2,717.1 354.5,715.2 354.8,713.2 355.0,711.2 355.3,709.2 355.6,707.2 355.9,705.2 356.1,703.3 356.4,701.3 356.7,699.3 357.0,697.3 357.3,695.3 357.5,693.4 357.8,691.4 358.1,689.4 358.4,687.4 358.6,685.4 358.9,683.5 359.2,681.5 359.5,679.5 359.8,677.5 360.0,675.5 360.3,673.5 360.6,671.6 360.9,669.6 361.1,667.6 361.4,665.6 361.7,663.6 361.9,661.6 362.1,659.7 362.2,657.7 362.4,655.7 362.5,653.7 362.7,651.7 362.8,649.7 363.0,647.7 363.2,645.7 363.3,643.7 363.5,641.7 363.6,639.7 363.8,637.7 364.0,635.7 364.1,633.7 364.3,631.7 364.4,629.7 364.6,627.7 364.7,625.7 364.8,623.7 365.0,621.8 365.1,619.8 365.3,617.8 365.4,615.8 365.5,613.8 365.7,611.8 365.8,609.8 366.0,607.8 366.1,605.8 366.2,603.8 366.4,601.8 366.6,599.8 366.8,597.8 367.0,595.8 367.2,593.8 367.5,591.9 367.7,589.9 367.9,587.9 368.2,585.9 368.4,583.9 368.7,581.9 368.9,579.9 369.1,578.0 369.4,576.0 369.6,574.0 369.9,572.0 370.1,570.0 370.4,568.0 370.6,566.0 370.9,564.1 371.1,562.1 371.4,560.1 371.6,558.1 371.9,556.1 372.1,554.1 372.4,552.1 372.6,550.2 372.9,548.2 373.1,546.2 373.4,544.2 373.6,542.2 373.9,540.2 374.1,538.2 374.4,536.3 374.6,534.3 374.9,532.3 375.1,530.3 375.4,528.3 375.7,526.4 376.0,524.4 376.4,522.4 376.8,520.4 377.1,518.5 377.5,516.5 377.8,514.5 378.2,512.6 378.5,510.6 378.9,508.6 379.2,506.7 379.6,504.7 379.9,502.7 380.2,500.7 380.5,498.8 380.7,496.8 381.0,494.8 381.2,492.8 381.4,490.8 381.6,488.8 381.9,486.8 382.1,484.8 382.3,482.9 382.5,480.9 382.8,478.9 383.0,476.9 383.2,474.9 383.5,472.9 383.7,470.9 384.1,469.0 384.5,467.0 384.8,465.0 385.2,463.1 385.6,461.1 386.0,459.2 386.4,457.2 386.8,455.2 387.2,453.3 387.6,451.3 388.0,449.3 388.4,447.4 388.7,445.4 389.1,443.5 389.5,441.5 389.8,439.5 390.2,437.6 390.5,435.6 390.9,433.6 391.3,431.6 391.6,429.7 392.0,427.7 392.4,425.7 392.7,423.8 393.1,421.8 393.4,419.8 393.7,417.9 394.0,415.9 394.3,413.9 394.6,411.9 395.0,410.0 395.3,408.0 395.6,406.0 395.9,404.0 396.2,402.0 396.5,400.1 396.8,398.1 397.1,396.1 397.4,394.1 397.7,392.2 398.0,390.2 398.3,388.2 398.6,386.2 398.9,384.2 399.2,382.3 399.5,380.3 399.8,378.3 400.1,376.3 400.4,374.4 400.7,372.4 401.0,370.4 401.3,368.4 401.6,366.4 401.9,364.5 402.2,362.5 402.6,360.5 402.9,358.6 403.3,356.6 403.7,354.6 404.1,352.7 404.5,350.7 404.9,348.7 405.3,346.8 405.6,344.8 406.0,342.9 406.4,340.9 406.8,338.9 407.2,337.0 407.6,335.0 408.0,333.1 408.4,331.1 408.8,329.1 409.2,327.2 409.7,325.2 410.1,323.3 410.5,321.3 410.9,319.3 411.3,317.4 411.7,315.4 412.1,313.5 412.5,311.5 412.9,309.5 413.3,307.6 413.7,305.6 414.1,303.7 414.5,301.7 414.9,299.7 415.3,297.8 415.7,295.8 416.1,293.9 416.4,291.9 416.8,289.9 417.2,288.0 417.6,286.0 418.1,284.1 418.5,282.1 419.0,280.2 419.5,278.2 420.0,276.3 420.5,274.3 421.0,272.4 421.5,270.5 421.9,268.5 422.4,266.6 422.9,264.6 423.4,262.7 423.9,260.8 424.5,258.9 425.1,256.9 425.6,255.0 426.2,253.1 426.8,251.2 427.4,249.3 428.0,247.4 428.5,245.4 429.1,243.5 429.7,241.6 430.3,239.7 430.8,237.8 431.4,235.9 431.9,233.9 432.5,232.0 433.0,230.1 433.6,228.2 434.1,226.2 434.7,224.3 435.2,222.4 435.8,220.5 436.4,218.6 437.0,216.7 437.6,214.7 438.2,212.8 438.8,210.9 439.4,209.0 440.0,207.1 440.6,205.2 441.3,203.4 442.2,201.6 443.4,200.0 444.6,198.5 445.9,196.9 447.2,195.3 448.4,193.8 449.6,192.2 450.6,190.5 451.4,188.7 452.0,186.8 452.6,184.9 453.1,183.0 453.7,181.1 454.4,179.2 455.3,177.4 456.3,175.7 457.3,174.0 458.4,172.3 459.4,170.5 460.4,168.8 461.4,167.1 462.3,165.3 463.2,163.5 464.1,161.7 465.0,159.9 465.9,158.2 466.8,156.4 467.7,154.6 468.7,152.8 469.6,151.1 470.6,149.3 471.6,147.6 472.7,146.0 474.2,144.8 475.9,144.0 477.7,143.4 479.5,143.1 481.1,143.6 482.6,144.8 484.0,146.1 485.5,147.5 487.0,148.4 488.6,148.6 490.3,148.0 492.1,147.2 493.8,146.8 495.3,147.2 496.8,148.3 498.2,149.7 499.6,151.1 501.2,152.3 502.9,153.1 504.8,153.6 506.7,154.1 508.7,154.5 510.6,154.9 512.4,155.6 514.0,156.6 515.3,158.1 516.5,159.6 517.7,161.2 518.9,162.8 520.1,164.4 521.3,166.0 522.5,167.6 523.7,169.2 524.9,170.8 526.1,172.4 527.2,174.1 528.0,175.9 528.7,177.8 529.3,179.7 529.9,181.6 530.6,183.5 531.2,185.3 532.0,187.1 533.1,188.7 534.6,189.9 536.2,191.1 537.8,192.2 539.4,193.5 540.9,194.8 542.3,196.2 543.7,197.6 545.2,199.0 546.6,200.4 548.0,201.8 549.3,203.4 550.5,204.9 551.7,206.5 552.9,208.1 554.1,209.7 555.3,211.4 556.4,213.0 557.4,214.7 558.4,216.4 559.4,218.2 560.5,219.9 561.5,221.6 562.5,223.3 563.6,225.0 564.6,226.8 565.6,228.5 566.5,230.3 567.2,232.1 567.9,234.0 568.6,235.9 569.3,237.7 570.0,239.6 570.7,241.5 571.4,243.3 572.2,245.1 573.3,246.6 574.9,247.8 576.6,248.7 578.4,249.6 580.0,250.6 581.4,252.0 582.4,253.6 583.4,255.3 584.3,257.1 585.2,258.9 586.1,260.7 587.0,262.5 588.0,264.2 589.0,265.9 590.1,267.6 591.2,269.2 592.4,270.9 593.5,272.6 594.6,274.2 595.8,275.8 597.0,277.4 598.3,278.9 599.6,280.4 600.6,282.1 601.5,283.9 602.4,285.7 603.2,287.5 604.1,289.3 604.9,291.1 605.8,292.9 606.8,294.6 608.0,296.2 609.2,297.7 610.4,299.3 611.3,301.0 612.0,302.9 612.6,304.8 613.4,306.6 614.3,308.3 615.3,310.1 616.3,311.8 617.2,313.6 618.1,315.4 619.0,317.2 619.9,319.0 620.8,320.7 621.8,322.5 622.7,324.3 623.7,326.0 624.7,327.8 625.7,329.5 626.8,331.2 628.0,332.8 629.2,334.4 630.4,335.9 631.6,337.5 632.9,339.1 634.2,340.6 635.5,342.1 636.7,343.7 637.8,345.3 638.7,347.1 639.6,348.8 640.8,350.4 642.2,351.7 643.6,353.1 644.8,354.7 645.7,356.4 646.6,358.2 647.5,360.0 648.4,361.8 649.3,363.6 650.3,365.3 651.3,367.1 652.3,368.8 653.3,370.5 654.3,372.2 655.4,373.9 656.5,375.5 657.9,376.9 659.5,378.0 661.1,379.1 662.7,380.2 664.2,381.6 665.5,383.1 666.5,384.7 667.2,386.6 667.7,388.5 668.2,390.4 668.6,392.4 669.1,394.3 669.6,396.2 670.3,398.0 671.4,399.5 672.9,400.7 674.5,401.9 676.2,403.0 677.8,404.1 679.1,405.5 680.1,407.2 680.8,409.0 681.4,410.9 682.0,412.8 682.7,414.7 683.3,416.6 683.9,418.5 684.6,420.4 685.3,422.2 686.0,424.1 686.7,426.0 687.4,427.9 688.1,429.7 688.9,431.6 689.8,433.3 690.8,435.1 691.8,436.8 692.9,438.5 694.0,440.1 695.2,441.8 696.4,443.4 697.6,444.9 698.8,446.5 700.1,448.1 701.3,449.7 702.6,451.2 703.8,452.8 705.0,454.4 706.1,456.1 707.2,457.7 708.3,459.4 709.4,461.1 710.5,462.7 711.5,464.5 712.5,466.2 713.5,467.9 714.5,469.7 715.5,471.4 716.6,473.1 717.6,474.8 718.7,476.5 719.9,478.1 721.1,479.7 722.3,481.3 723.5,482.9 724.6,484.5 725.8,486.1 726.9,487.8 727.9,489.5 728.8,491.3 729.7,493.1 730.6,494.9 731.5,496.7 732.4,498.5 733.4,500.2 734.4,502.0 735.4,503.7 736.4,505.4 737.4,507.1 738.5,508.8 739.6,510.5 740.7,512.1 741.9,513.8 743.1,515.4 744.3,517.0 745.3,518.6 746.1,520.4 746.6,522.3 747.0,524.3 747.3,526.2 747.6,528.2 748.0,530.1 748.7,531.9 749.9,533.3 751.4,534.6 753.0,535.8 754.6,537.0 756.2,538.2 757.7,539.5 759.1,540.9 760.5,542.4 761.8,543.8 762.9,545.4 763.8,547.2 764.5,549.1 765.1,551.0 765.8,552.9 766.4,554.7 767.2,556.6 768.2,558.2 769.5,559.7 770.9,561.2 772.3,562.6 773.7,564.0 775.0,565.4 776.3,567.0 777.5,568.6 778.6,570.3 779.7,571.9 780.8,573.6 781.9,575.3 783.0,576.9 784.1,578.6 785.0,580.4 786.0,582.2 786.9,583.9 787.7,585.7 788.6,587.5 789.5,589.3 790.5,591.0 791.7,592.6 793.1,594.1 794.5,595.5 795.9,596.9 797.3,598.3 798.6,599.8 799.7,601.4 800.7,603.2 801.6,605.0 802.5,606.7 803.4,608.5 804.3,610.3 805.3,612.1 806.4,613.7 807.6,615.3 808.8,616.9 810.0,618.4 811.3,620.0 812.5,621.6 813.7,623.2 814.8,624.9 815.7,626.6 816.7,628.4 817.6,630.2 818.5,631.9 819.4,633.7 820.4,635.5 821.4,637.2 822.4,638.9 823.5,640.6 824.5,642.3 825.5,644.1 826.5,645.8 827.5,647.5 828.5,649.3 829.5,651.0 830.4,652.8 831.4,654.5 832.4,656.3 833.4,658.0 834.6,659.6 835.8,661.2 837.0,662.8 838.2,664.4 839.4,666.0 840.6,667.6 841.8,669.2 843.0,670.8 844.3,672.3 845.5,673.9 846.7,675.5 847.9,677.1 849.1,678.7 850.3,680.3 851.5,681.9 852.7,683.5 853.9,685.1 855.1,686.7 856.3,688.3 857.6,689.9 858.8,691.5 859.9,693.1 861.0,694.8 862.0,696.5 863.1,698.2 864.1,699.9 865.1,701.6 866.1,703.4 867.1,705.1 868.0,706.9 868.9,708.7 869.8,710.5 870.7,712.3 871.6,714.1 872.6,715.8 873.8,717.3 875.1,718.8 876.5,720.2 877.9,721.7 879.1,723.2 880.1,724.9 881.1,726.7 882.0,728.5 882.9,730.3 883.8,732.1 884.7,733.8 885.8,735.5 887.1,737.0 888.4,738.4 889.8,739.8 891.3,741.3 892.6,742.7 893.9,744.2 895.1,745.9 896.1,747.6 897.1,749.3 898.2,751.0 899.2,752.7 900.2,754.5 901.1,756.2 902.0,758.0 902.9,759.8 903.8,761.6 904.7,763.4 905.6,765.1 906.7,766.7 908.1,768.1 909.6,769.3 911.2,770.5 912.7,771.7 914.0,773.2 915.0,774.9 916.1,776.6 917.1,778.4 918.1,780.1 919.1,781.8 920.2,783.5 921.3,785.1 922.5,786.8 923.8,788.3 925.2,789.6 926.7,790.9 928.3,792.1 929.9,793.3 931.4,794.6 932.7,796.1 933.8,797.7 934.9,799.4 935.9,801.1 936.9,802.8 938.0,804.6 939.0,806.3 940.0,808.0 941.0,809.7 942.1,811.4 943.1,813.1 944.2,814.8 945.5,816.3 947.0,817.5 948.6,818.7 950.3,819.8 951.9,821.0 953.5,822.1 955.1,823.3 956.7,824.5 958.2,825.8 959.6,827.2 960.5,828.9 961.3,830.7 962.1,832.6 962.8,834.4 963.7,836.2 964.8,837.7 966.2,839.1 967.8,840.3 969.4,841.5 971.0,842.7 972.5,844.0 974.0,845.3 975.4,846.7 976.7,848.2 977.9,849.8 979.0,851.5 980.1,853.2 981.2,854.8 982.3,856.5 983.5,858.1 984.9,859.5 986.3,860.8 987.8,862.2 989.4,863.5 990.9,864.8 992.4,866.1 993.9,867.4 995.4,868.6 997.1,869.7 998.7,870.6 1000.0,871.9 1000.9,873.6 1001.7,875.4 1002.4,877.3 1003.3,879.1 1004.3,880.8 1005.4,882.4 1006.7,883.9 1008.2,885.1 1009.9,886.2 1011.6,887.2 1013.2,888.4 1014.7,889.7 1016.2,891.1 1017.7,892.4 1019.2,893.6 1020.8,894.7 1022.4,895.9 1024.0,897.1 1025.5,898.3 1027.1,899.1 1028.8,899.5 1030.3,900.2 1031.5,901.5 1032.7,903.1 1033.8,904.8 1034.8,906.5 1035.7,908.2 1036.7,910.0 1037.7,911.7 1038.9,913.3 1040.2,914.7 1041.6,916.2 1043.0,917.6 1044.5,918.9 1046.1,920.2 1047.7,921.3 1049.4,922.3 1051.1,923.3 1052.8,924.4 1054.5,925.5 1056.2,926.6 1057.8,927.8 1059.4,929.0 1060.9,930.3 1062.4,931.6 1063.8,933.0 1065.3,934.4 1066.7,935.8 1068.1,937.2 1069.6,938.5 1071.2,939.7 1072.8,940.9 1074.4,942.1 1076.0,943.4 1077.6,944.6 1079.1,945.8 1080.7,947.1 1082.3,948.3 1083.8,949.6 1085.4,950.8 1087.0,952.0 1088.5,953.3 1090.1,954.5 1091.7,955.8 1093.3,956.9 1095.0,957.9 1096.8,958.8 1098.6,959.5 1100.5,960.3 1102.3,961.1 1104.0,962.1 1105.6,963.3 1107.2,964.5 1108.9,965.6 1110.5,966.7 1112.3,967.7 1114.0,968.6 1115.8,969.5 1117.5,970.5 1119.2,971.7 1120.8,972.8 1122.4,974.0 1124.0,975.3 1125.5,976.6 1126.9,978.0 1128.3,979.4 1129.9,980.6 1131.5,981.7 1133.3,982.5 1135.2,983.2 1137.0,984.0 1138.8,984.9 1140.5,985.9 1142.1,987.1 1143.7,988.2 1145.4,989.4 1147.1,990.4 1148.8,991.4 1150.6,992.3 1152.4,993.2 1154.2,994.1 1155.9,995.0 1157.7,996.0 1159.5,996.8 1161.4,997.5 1163.3,998.0 1165.3,998.4 1167.2,998.8 1169.0,999.5 1170.6,1000.5 1172.1,1001.8 1173.5,1003.2 1175.0,1004.5 1176.6,1005.5 1178.5,1006.2 1180.4,1006.7 1182.3,1007.3 1184.2,1008.0 1186.0,1008.7 1187.8,1009.6 1189.6,1010.5 1191.4,1011.3 1193.2,1012.2 1195.0,1013.1 1196.8,1014.0 1198.6,1014.8 1200.5,1015.5 1202.4,1016.1 1204.3,1016.6 1206.2,1017.3 1208.0,1018.1 1209.7,1019.1 1211.4,1019.9 1213.2,1020.3 1215.1,1020.2 1217.0,1019.8 1218.9,1019.7 1220.6,1020.1 1222.2,1021.1 1223.8,1022.3 1225.5,1023.4 1227.1,1024.5 1228.9,1025.4 1230.8,1026.1 1232.6,1026.9 1234.5,1027.6 1236.3,1028.4 1238.2,1029.1 1240.1,1029.8 1241.9,1030.6 1243.8,1031.3 1245.6,1032.1 1247.5,1032.8 1249.3,1033.5 1251.2,1034.3 1253.1,1035.0 1255.0,1035.5 1256.9,1036.0 1258.9,1036.4 1260.9,1036.8 1262.8,1037.3 1264.7,1037.9 1266.6,1038.6 1268.4,1039.3 1270.3,1040.0 1272.2,1040.6 1274.1,1041.1 1276.1,1041.5 1278.0,1041.8 1280.0,1042.1 1282.0,1042.4 1284.0,1042.8 1285.9,1043.2 1287.9,1043.6 1289.8,1044.0 1291.8,1044.5 1293.7,1045.1 1295.5,1045.9 1297.4,1046.6 1299.2,1047.3 1301.1,1048.0 1303.0,1048.5 1305.0,1048.9 1307.0,1049.3 1308.9,1049.7 1310.9,1050.1 1312.9,1050.5 1314.8,1050.8 1316.8,1051.2 1318.7,1051.6 1320.7,1052.0 1322.7,1052.4 1324.6,1052.8 1326.6,1053.2 1328.6,1053.6 1330.5,1054.0 1332.5,1054.4 1334.4,1054.8 1336.4,1055.2 1338.3,1055.6 1340.3,1056.0 1342.3,1056.4 1344.2,1056.7 1346.2,1057.1 1348.2,1057.5 1350.1,1057.8 1352.1,1058.2 1354.0,1058.7 1356.0,1059.2 1357.9,1059.7 1359.8,1060.1 1361.8,1060.4 1363.8,1060.6 1365.8,1060.7 1367.8,1060.8 1369.8,1060.9 1371.8,1061.0 1373.8,1061.1 1375.8,1061.1 1377.8,1061.1 1379.8,1061.1 1381.8,1061.1 1383.8,1061.1 1385.8,1061.0 1387.7,1060.8 1389.3,1060.0 1390.8,1058.8 1392.1,1057.3 1393.2,1055.7 1394.0,1054.0 1394.7,1052.8" fill="none" stroke="#00FFFF" stroke-width="4.6" stroke-linejoin="round" stroke-linecap="butt"/>
<polyline points="220.8,1080.0 222.2,1079.9 224.0,1079.8 226.0,1079.6 228.0,1079.5 230.0,1079.4 232.0,1079.3 234.0,1079.2 236.0,1079.1 238.0,1078.9 240.0,1078.8 242.0,1078.7 244.0,1078.5 245.9,1078.3 247.9,1078.0 249.9,1077.6 251.8,1077.3 253.8,1076.9 255.8,1076.5 257.7,1076.1 259.7,1075.7 261.7,1075.4 263.6,1075.0 265.6,1074.6 267.6,1074.2 269.5,1073.8 271.5,1073.5 273.5,1073.2 275.4,1072.9 277.4,1072.6 279.4,1072.3 281.4,1072.1 283.4,1071.8 285.3,1071.6 287.3,1071.3 289.3,1071.0 291.3,1070.7 293.3,1070.4 295.2,1070.0 297.1,1069.5 299.0,1068.8 300.9,1068.2 302.8,1067.6 304.7,1066.9 306.6,1066.3 308.5,1065.7 310.4,1065.0 312.3,1064.4 314.2,1063.8 316.1,1063.1 318.0,1062.5 319.9,1061.9 321.8,1061.2 323.7,1060.6 325.6,1060.0 327.5,1059.3 329.4,1058.7 331.3,1058.1 333.2,1057.4 335.1,1056.8 337.0,1056.1 338.8,1055.5 340.7,1054.7 342.5,1053.9 344.3,1053.1 346.1,1052.2 348.0,1051.4 349.8,1050.5 351.6,1049.7 353.4,1048.8 355.2,1048.0 357.0,1047.2 358.8,1046.3 360.6,1045.4 362.4,1044.5 364.1,1043.4 365.8,1042.3 367.4,1041.2 369.1,1040.1 370.7,1039.0 372.4,1037.9 374.1,1036.8 375.7,1035.6 377.4,1034.5 379.0,1033.4 380.7,1032.3 382.4,1031.2 384.0,1030.1 385.7,1029.0 387.4,1027.9 389.1,1026.9 390.8,1025.8 392.5,1024.8 394.2,1023.7 395.9,1022.6 397.6,1021.6 399.3,1020.5 401.0,1019.5 402.7,1018.5 404.4,1017.4 406.0,1016.2 407.3,1014.8 408.4,1013.2 409.5,1011.5 410.7,1009.8 411.8,1008.2 412.9,1006.6 414.2,1005.0 415.4,1003.4 416.7,1001.9 417.9,1000.3 419.1,998.7 420.2,997.1 421.4,995.4 422.5,993.7 423.6,992.1 424.6,990.4 425.7,988.7 426.7,986.9 427.7,985.2 428.7,983.5 429.6,981.7 430.6,980.0 431.7,978.3 432.8,976.6 433.9,974.9 435.0,973.3 436.1,971.6 437.2,969.9 438.2,968.2 439.1,966.4 440.0,964.6 440.9,962.9 441.8,961.1 442.6,959.2 443.4,957.4 444.1,955.5 444.8,953.6 445.5,951.8 446.2,949.9 446.9,948.0 447.7,946.2 448.6,944.4 449.5,942.6 450.4,940.8 451.3,939.0 452.2,937.3 453.0,935.5 453.8,933.6 454.6,931.8 455.3,929.9 456.0,928.0 456.7,926.1 457.4,924.3 458.2,922.4 459.1,920.7 460.1,919.0 461.1,917.2 462.1,915.5 462.9,913.7 463.6,911.8 464.2,909.9 464.8,908.0 465.4,906.1 466.0,904.2 466.6,902.3 467.2,900.4 467.7,898.5 468.2,896.5 468.7,894.6 469.2,892.6 469.6,890.7 470.1,888.7 470.6,886.8 471.0,884.8 471.5,882.9 472.0,881.0 472.4,879.0 472.9,877.1 473.3,875.1 473.8,873.2 474.3,871.2 474.8,869.3 475.3,867.4 475.8,865.4 476.2,863.5 476.7,861.5 477.2,859.6 477.7,857.7 478.2,855.7 478.7,853.8 479.2,851.8 479.7,849.9 480.2,848.0 480.7,846.0 481.3,844.1 481.8,842.2 482.4,840.3 482.9,838.3 483.5,836.4 484.0,834.5 484.6,832.6 485.1,830.7 485.7,828.7 486.3,826.8 486.9,824.9 487.5,823.0 488.1,821.1 488.7,819.2 489.2,817.3 489.8,815.4 490.4,813.4 491.0,811.5 491.6,809.6 492.2,807.7 492.8,805.8 493.4,803.9 494.0,802.0 494.6,800.1 495.2,798.2 495.8,796.3 496.4,794.4 497.0,792.4 497.6,790.5 498.1,788.6 498.6,786.7 499.1,784.7 499.6,782.8 500.1,780.8 500.5,778.9 501.1,777.0 501.6,775.1 502.3,773.2 503.0,771.3 503.7,769.4 504.2,767.5 504.7,765.6 505.2,763.6 505.7,761.7 506.2,759.8 506.7,757.8 507.2,755.9 507.6,753.9 508.1,752.0 508.5,750.0 508.9,748.1 509.3,746.1 509.7,744.1 510.1,742.2 510.5,740.2 510.8,738.3 511.2,736.3 511.6,734.3 512.0,732.4 512.4,730.4 512.8,728.5 513.2,726.5 513.6,724.5 514.0,722.6 514.4,720.6 514.8,718.6 515.2,716.7 515.5,714.7 515.9,712.8 516.3,710.8 516.7,708.8 517.1,706.9 517.5,704.9 517.9,702.9 518.3,701.0 518.6,699.0 519.0,697.1 519.4,695.1 519.8,693.1 520.2,691.2 520.6,689.2 521.1,687.3 521.6,685.3 522.1,683.4 522.6,681.5 523.0,679.5 523.5,677.6 524.0,675.6 524.5,673.7 525.0,671.8 525.5,669.8 526.0,667.9 526.4,665.9 526.9,664.0 527.3,662.0 527.7,660.1 528.1,658.1 528.6,656.2 529.0,654.2 529.4,652.3 529.8,650.3 530.2,648.3 530.7,646.4 531.1,644.4 531.5,642.5 531.9,640.5 532.3,638.6 532.8,636.6 533.2,634.7 533.6,632.7 534.1,630.7 534.5,628.8 534.9,626.8 535.3,624.9 535.8,622.9 536.2,621.0 536.6,619.0 537.0,617.1 537.4,615.1 537.9,613.1 538.3,611.2 538.7,609.2 539.1,607.3 539.5,605.3 539.9,603.4 540.4,601.4 540.8,599.5 541.1,597.5 541.5,595.5 541.8,593.5 542.1,591.6 542.4,589.6 542.8,587.6 543.1,585.6 543.4,583.7 543.7,581.7 544.1,579.7 544.6,577.8 545.1,575.9 545.5,573.9 546.0,572.0 546.5,570.0 547.0,568.1 547.5,566.2 548.0,564.2 548.5,562.3 548.9,560.3 549.4,558.4 549.8,556.4 550.2,554.5 550.6,552.5 551.1,550.6 551.5,548.6 551.9,546.6 552.3,544.7 552.7,542.7 553.2,540.8 553.6,538.8 554.0,536.9 554.5,534.9 555.1,533.0 555.8,531.2 556.6,529.3 557.4,527.5 558.2,525.7 559.0,523.8 559.6,522.0 560.1,520.0 560.5,518.1 560.8,516.1 561.0,514.1 561.3,512.1 561.6,510.2 561.9,508.2 562.2,506.2 562.4,504.2 562.7,502.2 563.0,500.3 563.3,498.3 563.6,496.3 564.0,494.3 564.3,492.4 564.6,490.4 565.0,488.4 565.3,486.4 565.6,484.5 566.0,482.5 566.3,480.5 566.7,478.6 567.1,476.6 567.5,474.6 567.9,472.7 568.3,470.7 568.6,468.8 569.0,466.8 569.4,464.8 569.7,462.9 570.1,460.9 570.4,458.9 570.7,456.9 571.1,455.0 571.4,453.0 571.7,451.0 572.1,449.1 572.4,447.1 572.8,445.1 573.2,443.2 573.7,441.2 574.1,439.3 574.5,437.3 574.9,435.4 575.4,433.4 576.1,431.5 576.8,429.7 577.7,427.9 578.6,426.1 579.5,424.3 580.4,422.5 581.2,420.7 581.9,418.9 582.4,416.9 582.9,415.0 583.4,413.1 583.9,411.1 584.3,409.2 584.8,407.2 585.3,405.3 585.8,403.4 586.3,401.4 586.8,399.5 587.3,397.5 587.8,395.6 588.2,393.6 588.7,391.7 589.1,389.7 589.5,387.8 590.0,385.8 590.5,383.9 590.9,382.0 591.4,380.0 591.9,378.1 592.4,376.1 592.9,374.2 593.3,372.2 593.8,370.3 594.3,368.4 594.8,366.4 595.3,364.5 595.7,362.5 596.2,360.6 596.7,358.7 597.2,356.7 597.7,354.8 598.2,352.8 598.7,350.9 599.2,349.0 599.7,347.0 600.1,345.1 600.6,343.1 601.1,341.2 601.6,339.3 602.1,337.3 602.5,335.4 603.0,333.4 603.5,331.5 604.0,329.6 604.5,327.6 605.1,325.7 605.7,323.8 606.3,321.9 606.9,320.0 607.4,318.1 608.0,316.1 608.6,314.2 609.1,312.3 609.7,310.4 610.3,308.5 610.9,306.6 611.5,304.7 612.1,302.7 612.6,300.8 613.2,298.9 613.7,297.0 614.2,295.0 614.8,293.1 615.3,291.2 615.8,289.3 616.3,287.3 616.9,285.4 617.4,283.5 618.0,281.5 618.5,279.6 619.1,277.7 619.7,275.8 620.3,273.9 620.8,272.0 621.4,270.1 622.0,268.1 622.6,266.2 623.2,264.3 623.9,262.4 624.5,260.5 625.1,258.6 625.8,256.7 626.4,254.8 627.0,252.9 627.6,251.0 628.3,249.1 628.9,247.2 629.5,245.3 630.2,243.4 630.8,241.5 631.4,239.7 632.1,237.8 632.7,235.9 633.4,234.0 634.0,232.1 634.6,230.2 635.3,228.3 636.0,226.4 636.7,224.5 637.4,222.7 638.2,220.9 639.0,219.0 639.8,217.2 640.6,215.4 641.6,213.6 642.5,211.9 643.6,210.1 644.5,208.4 645.4,206.6 646.1,204.8 646.7,202.8 647.2,200.9 647.8,199.0 648.4,197.1 649.1,195.3 650.1,193.5 651.1,191.8 652.1,190.1 653.0,188.3 653.7,186.5 654.2,184.6 654.7,182.6 655.2,180.9 656.1,179.8 657.4,179.3 658.7,178.6 659.8,177.2 660.8,175.6 661.9,173.9 662.9,172.2 664.0,170.5 665.1,168.8 666.3,167.2 667.5,165.6 668.7,164.0 669.9,162.4 671.1,160.8 672.3,159.2 673.6,157.7 674.8,156.1 676.0,154.5 677.4,153.1 678.9,151.8 680.5,150.6 682.1,149.4 683.7,148.2 685.4,147.2 687.3,146.5 689.1,145.8 691.1,145.3 693.0,144.7 694.9,144.3 696.8,144.4 698.7,144.9 700.5,145.5 702.4,146.2 704.3,146.9 706.2,147.4 708.2,147.9 710.1,148.4 712.0,148.9 714.0,149.4 715.9,149.8 717.9,150.3 719.8,150.8 721.7,151.3 723.7,151.8 725.6,152.3 727.5,152.9 729.3,153.6 730.8,154.8 732.0,156.3 733.2,157.9 734.4,159.5 735.6,161.1 736.6,162.8 737.4,164.6 738.3,166.4 739.2,168.1 740.3,169.5 741.9,170.2 743.5,170.7 744.9,171.6 745.8,173.2 746.7,175.0 747.6,176.7 748.6,178.2 749.7,179.2 750.8,179.9 751.6,181.1 752.2,182.8 752.8,184.8 753.4,186.7 754.1,188.5 755.1,190.2 756.3,191.7 757.7,193.1 759.1,194.6 760.6,195.9 762.1,197.1 763.7,198.4 765.1,199.7 766.5,201.2 767.7,202.8 768.7,204.5 769.6,206.2 770.5,208.0 771.4,209.8 772.3,211.6 773.2,213.4 774.1,215.2 775.0,217.0 776.0,218.7 777.0,220.4 778.2,222.0 779.4,223.6 780.6,225.2 781.8,226.8 782.8,228.5 783.8,230.3 784.7,232.1 785.5,233.9 786.4,235.7 787.1,237.5 787.8,239.4 788.4,241.3 789.1,243.2 789.7,245.1 790.4,247.0 791.0,248.9 791.7,250.7 792.5,252.6 793.2,254.5 793.9,256.3 794.7,258.2 795.4,260.0 796.1,261.9 796.9,263.7 797.6,265.6 798.4,267.5 799.2,269.3 800.2,271.0 801.3,272.6 802.5,274.2 803.7,275.8 804.8,277.5 805.8,279.2 806.6,281.0 807.2,282.9 807.9,284.8 808.5,286.7 809.2,288.6 809.8,290.5 810.4,292.4 811.1,294.3 811.7,296.2 812.3,298.1 812.9,300.0 813.6,301.8 814.5,303.6 815.7,305.1 817.1,306.5 818.5,307.8 819.8,309.3 820.7,311.0 821.4,312.9 822.1,314.8 822.8,316.6 823.5,318.5 824.3,320.4 825.0,322.2 825.8,324.0 826.6,325.9 827.4,327.7 828.3,329.5 829.2,331.3 830.1,333.1 831.1,334.8 832.1,336.5 833.1,338.3 834.1,340.0 835.1,341.7 836.1,343.5 837.1,345.2 838.0,347.0 839.0,348.7 839.8,350.5 840.6,352.4 841.2,354.3 841.9,356.2 842.5,358.1 843.1,360.0 843.6,361.9 844.2,363.8 844.7,365.8 845.3,367.7 845.8,369.6 846.4,371.5 846.9,373.5 847.4,375.4 848.0,377.3 848.6,379.2 849.3,381.1 849.9,383.0 850.6,384.9 851.4,386.7 852.2,388.5 853.1,390.3 854.0,392.1 854.9,393.9 855.8,395.7 856.6,397.5 857.4,399.3 858.0,401.2 858.4,403.1 858.7,405.1 859.0,407.1 859.3,409.1 859.6,411.0 860.0,413.0 860.4,414.9 861.2,416.7 862.1,418.5 863.1,420.2 864.2,421.9 865.2,423.6 866.2,425.4 867.1,427.2 867.9,429.0 868.6,430.8 869.4,432.7 870.2,434.5 871.0,436.3 872.0,438.1 873.0,439.8 874.1,441.4 875.2,443.1 876.3,444.8 877.4,446.4 878.5,448.2 879.3,449.9 879.9,451.8 880.4,453.8 880.8,455.7 881.2,457.7 881.7,459.6 882.1,461.6 882.6,463.5 883.0,465.5 883.5,467.4 884.2,469.2 885.2,471.0 886.2,472.7 887.2,474.4 888.2,476.1 889.2,477.9 890.1,479.6 890.8,481.5 891.5,483.4 892.1,485.3 892.7,487.2 893.4,489.1 894.0,491.0 894.8,492.8 895.7,494.6 896.6,496.4 897.5,498.2 898.4,500.0 899.3,501.8 900.1,503.5 901.0,505.4 901.8,507.2 902.6,509.0 903.4,510.9 904.1,512.7 904.9,514.6 905.7,516.4 906.4,518.3 906.9,520.2 907.3,522.1 907.6,524.1 907.9,526.1 908.1,528.1 908.4,530.0 908.6,532.0 908.9,534.0 909.5,535.8 910.4,537.5 911.7,539.0 913.0,540.4 914.4,541.9 915.5,543.5 916.4,545.3 917.1,547.1 917.8,549.0 918.5,550.9 919.2,552.7 919.9,554.6 920.6,556.5 921.3,558.4 922.0,560.3 922.5,562.2 923.1,564.1 923.7,566.0 924.2,567.9 924.8,569.8 925.4,571.8 926.1,573.6 927.0,575.3 928.3,576.8 929.7,578.2 931.0,579.7 932.2,581.2 933.2,583.0 934.0,584.8 934.7,586.6 935.5,588.5 936.2,590.4 936.8,592.3 937.2,594.2 937.5,596.2 937.9,598.1 938.2,600.1 938.5,602.1 938.9,604.0 939.5,606.0 940.0,607.9 940.7,609.8 941.3,611.7 941.9,613.6 942.6,615.4 943.6,617.0 945.0,618.3 946.6,619.5 948.2,620.7 949.7,622.0 951.0,623.4 952.2,625.0 953.4,626.6 954.6,628.2 955.5,630.0 956.2,631.8 956.6,633.7 956.9,635.7 957.3,637.6 957.9,639.5 958.9,641.2 959.9,642.8 961.0,644.5 961.9,646.3 962.8,648.1 963.7,649.9 964.6,651.7 965.4,653.5 966.1,655.3 966.6,657.3 966.9,659.2 967.1,661.2 967.4,663.2 967.7,665.2 968.0,667.1 968.5,669.0 969.5,670.6 970.7,672.1 972.1,673.5 973.6,675.0 974.9,676.4 976.2,677.9 977.2,679.6 978.0,681.4 978.8,683.2 979.5,685.1 980.3,687.0 981.0,688.8 981.6,690.7 982.3,692.6 982.9,694.5 983.6,696.4 984.2,698.3 985.0,699.9 986.2,701.1 987.9,701.5 989.7,701.8 991.2,702.4 992.3,703.8 993.2,705.5 993.9,707.4 994.7,709.2 995.5,711.1 996.3,712.9 997.1,714.7 998.0,716.5 998.9,718.3 999.9,720.0 1001.1,721.5 1002.5,723.0 1003.9,724.4 1005.2,725.9 1006.4,727.4 1007.3,729.2 1008.1,731.0 1008.8,732.9 1009.5,734.7 1010.3,736.6 1011.3,738.3 1012.4,739.9 1013.6,741.5 1014.8,743.2 1015.9,744.8 1016.8,746.5 1017.4,748.4 1017.8,750.3 1018.1,752.3 1018.4,754.3 1018.8,756.2 1019.4,758.0 1020.4,759.6 1021.9,760.9 1023.4,762.1 1025.0,763.3 1026.5,764.6 1027.8,766.0 1028.9,767.7 1029.8,769.5 1030.7,771.2 1031.7,773.0 1032.7,774.7 1033.9,776.3 1035.1,777.9 1036.3,779.5 1037.5,781.1 1038.6,782.8 1039.7,784.4 1040.5,786.2 1041.1,788.1 1041.7,790.0 1042.3,791.9 1043.0,793.8 1043.7,795.7 1044.5,797.5 1045.5,799.2 1046.6,800.9 1047.8,802.4 1049.2,803.9 1050.5,805.4 1052.0,806.6 1053.5,807.6 1055.0,808.5 1056.1,809.8 1057.0,811.6 1057.9,813.4 1058.7,815.2 1059.5,817.0 1060.4,818.8 1061.2,820.6 1062.1,822.4 1063.0,824.2 1063.9,826.0 1064.8,827.8 1065.8,829.6 1066.7,831.3 1067.8,833.0 1069.0,834.5 1070.4,836.0 1071.8,837.4 1073.2,838.8 1074.6,840.2 1075.9,841.7 1077.0,843.4 1078.1,845.1 1079.1,846.8 1080.1,848.5 1081.1,850.2 1082.2,851.9 1083.2,853.7 1084.2,855.4 1085.3,857.0 1086.4,858.7 1087.6,860.4 1088.7,862.0 1089.8,863.7 1091.0,865.3 1092.1,866.9 1093.3,868.6 1094.4,870.2 1095.6,871.8 1096.7,873.5 1097.8,875.1 1099.0,876.8 1100.3,878.2 1101.8,879.5 1103.4,880.7 1105.0,881.9 1106.5,883.1 1108.1,884.3 1109.7,885.5 1111.3,886.7 1112.9,888.0 1114.4,889.3 1115.9,890.6 1117.4,891.9 1118.9,893.2 1120.4,894.5 1121.9,895.8 1123.5,897.2 1124.9,898.5 1126.4,899.9 1127.8,901.2 1129.3,902.6 1130.7,903.7 1132.1,904.2 1133.5,904.2 1135.1,904.5 1136.7,905.4 1138.4,906.4 1140.1,907.5 1141.6,908.7 1143.0,910.2 1144.3,911.7 1145.7,913.1 1147.2,914.4 1148.8,915.4 1150.6,916.4 1152.4,917.3 1154.2,918.2 1155.9,919.1 1157.7,920.0 1159.5,920.9 1161.4,921.5 1163.3,921.9 1165.3,922.2 1167.3,922.5 1169.2,922.9 1171.1,923.4 1172.9,924.2 1174.6,925.2 1176.3,926.3 1178.0,927.4 1179.6,928.6 1181.1,929.8 1182.8,930.9 1184.5,931.9 1186.3,932.8 1188.0,933.7 1189.7,934.8 1191.3,936.0 1192.9,937.2 1194.5,938.4 1195.9,939.8 1197.0,941.4 1198.0,943.1 1198.9,944.8 1200.1,946.2 1201.7,947.1 1203.6,947.7 1205.5,948.2 1207.4,948.7 1209.4,949.2 1211.3,949.7 1213.1,950.4 1214.6,951.5 1215.7,953.0 1216.8,954.7 1217.9,956.4 1219.0,958.0 1220.3,959.3 1222.0,960.2 1223.8,961.0 1225.6,961.8 1227.3,962.8 1229.0,964.0 1230.5,965.2 1231.8,966.7 1233.0,968.3 1234.3,969.8 1235.6,971.2 1237.2,972.1 1239.1,972.7 1241.0,973.1 1243.0,973.5 1244.9,973.9 1246.9,974.3 1248.9,974.7 1250.8,975.1 1252.8,975.5 1254.7,976.2 1256.5,976.9 1258.3,977.8 1260.0,978.7 1261.7,979.8 1263.4,980.9 1265.0,982.1 1266.6,983.3 1268.3,984.3 1270.1,985.1 1272.0,985.7 1273.9,986.2 1275.7,986.9 1277.4,987.9 1279.0,989.1 1280.7,990.3 1282.3,991.4 1284.0,992.4 1285.8,993.4 1287.5,994.3 1289.4,995.1 1291.2,995.8 1293.1,996.3 1295.1,996.8 1297.0,997.3 1299.0,997.8 1300.9,998.3 1302.8,998.8 1304.7,999.4 1306.5,1000.2 1308.3,1001.1 1310.1,1002.0 1311.9,1002.9 1313.7,1003.8 1315.5,1004.7 1317.3,1005.5 1319.1,1006.3 1321.0,1006.9 1322.9,1007.4 1324.9,1007.9 1326.8,1008.4 1328.8,1008.9 1330.7,1009.4 1332.6,1009.9 1334.5,1010.5 1336.4,1011.3 1338.2,1012.0 1340.1,1012.5 1342.0,1012.7 1343.9,1012.9 1345.4,1013.7 1346.5,1015.1 1347.6,1016.6 1349.0,1017.9 1350.7,1018.5 1352.6,1018.9 1354.4,1019.4 1355.9,1020.3 1357.3,1021.6 1358.9,1022.5 1360.7,1023.1 1362.7,1023.5 1364.6,1023.9 1366.6,1024.4 1368.5,1024.8 1370.5,1025.1 1372.5,1025.4 1374.4,1025.7 1376.3,1026.2 1378.2,1026.8 1380.1,1027.4 1382.1,1027.6 1384.1,1027.7 1386.0,1027.7 1388.0,1028.1 1389.9,1028.6 1391.8,1029.1 1393.8,1029.4 1395.8,1029.6 1397.7,1029.8 1399.7,1029.9 1401.3,1029.8 1401.9,1029.8" fill="none" stroke="#FF00FF" stroke-width="4.6" stroke-linejoin="round" stroke-linecap="butt"/>
<polyline points="220.8,1083.0 222.2,1083.0 224.0,1083.1 226.0,1083.1 228.0,1083.1 230.0,1083.2 232.0,1083.2 234.0,1083.2 236.0,1083.3 238.0,1083.3 240.0,1083.3 242.0,1083.4 244.0,1083.4 246.0,1083.4 248.0,1083.5 250.0,1083.5 252.0,1083.5 254.0,1083.6 256.0,1083.6 258.0,1083.6 260.0,1083.6 261.9,1083.4 263.9,1082.9 265.7,1082.2 267.6,1081.5 269.5,1080.8 271.4,1080.1 273.2,1079.4 275.1,1078.7 277.0,1078.0 278.9,1077.3 280.7,1076.6 282.6,1075.9 284.4,1075.2 286.2,1074.3 287.8,1073.2 289.5,1072.0 291.0,1070.8 292.6,1069.6 294.2,1068.4 295.8,1067.2 297.4,1065.9 299.0,1064.7 300.6,1063.5 302.2,1062.3 303.7,1061.0 305.1,1059.6 306.5,1058.1 307.8,1056.6 309.2,1055.2 310.5,1053.7 311.8,1052.2 313.2,1050.7 314.5,1049.2 315.9,1047.7 317.2,1046.2 318.4,1044.6 319.6,1043.1 320.8,1041.5 322.0,1039.9 323.2,1038.3 324.4,1036.6 325.6,1035.0 326.8,1033.4 328.0,1031.8 329.2,1030.2 330.3,1028.6 331.4,1026.9 332.4,1025.2 333.4,1023.4 334.4,1021.7 335.4,1020.0 336.4,1018.2 337.4,1016.5 338.4,1014.8 339.3,1013.0 340.3,1011.3 341.3,1009.5 342.2,1007.8 342.9,1005.9 343.6,1004.0 344.2,1002.1 344.8,1000.2 345.4,998.3 346.1,996.5 347.0,994.7 348.0,992.9 349.0,991.2 350.0,989.5 351.1,987.8 352.1,986.1 353.1,984.4 354.2,982.7 355.2,980.9 356.1,979.2 357.0,977.4 357.9,975.6 358.8,973.8 359.7,972.0 360.6,970.2 361.5,968.5 362.4,966.7 363.3,964.9 364.2,963.1 365.1,961.3 366.0,959.5 366.9,957.7 367.8,956.0 368.8,954.2 369.8,952.5 370.8,950.8 371.8,949.0 372.9,947.3 373.9,945.6 374.9,943.9 376.0,942.2 377.0,940.5 378.1,938.8 379.3,937.2 380.5,935.6 381.7,934.0 382.9,932.4 384.1,930.8 385.3,929.2 386.5,927.6 387.7,926.0 388.9,924.4 390.1,922.8 391.3,921.2 392.5,919.6 393.7,918.0 395.0,916.6 396.3,915.5 397.9,915.1 399.5,914.9 400.8,913.9 401.9,912.4 403.0,910.7 404.1,909.1 405.2,907.4 406.4,905.8 407.6,904.2 408.9,902.7 410.0,901.1 411.1,899.4 411.9,897.6 412.7,895.7 413.4,893.9 414.1,892.0 415.0,890.2 416.0,888.5 417.1,886.9 418.4,885.3 419.6,883.8 420.9,882.2 422.1,880.7 423.4,879.1 424.6,877.5 425.9,876.0 427.2,874.4 428.5,872.9 429.9,871.5 431.3,870.1 432.7,868.6 434.1,867.2 435.5,865.8 436.9,864.3 438.2,862.9 439.7,861.5 441.1,860.1 442.5,858.6 443.9,857.2 445.3,855.8 446.7,854.4 448.2,853.0 449.6,851.6 451.0,850.1 452.3,848.7 453.7,847.2 455.1,845.8 456.4,844.3 457.8,842.8 459.1,841.3 460.2,839.7 461.1,838.0 462.0,836.2 462.8,834.3 463.6,832.5 464.5,830.7 465.3,828.9 466.2,827.1 467.2,825.4 468.2,823.7 469.3,822.0 470.4,820.3 471.4,818.6 472.5,816.9 473.6,815.2 474.7,813.5 475.8,811.9 477.0,810.3 478.2,808.7 479.4,807.1 480.6,805.5 481.8,803.9 482.9,802.2 484.0,800.5 485.0,798.8 486.0,797.1 487.1,795.4 488.1,793.7 489.1,792.0 490.2,790.2 491.1,788.5 492.1,786.8 493.1,785.0 494.1,783.3 495.0,781.5 496.0,779.8 496.9,778.0 497.8,776.2 498.7,774.4 499.6,772.6 500.6,770.9 501.7,769.2 502.7,767.5 503.5,765.7 504.3,763.8 505.1,762.1 506.0,760.6 507.1,759.5 508.0,758.4 508.7,756.8 509.3,754.9 509.8,753.0 510.4,751.1 510.9,749.2 511.5,747.3 512.1,745.3 512.7,743.5 513.4,741.6 514.1,739.7 514.9,737.9 515.6,736.0 516.4,734.1 517.1,732.3 517.8,730.4 518.6,728.6 519.3,726.7 520.1,724.9 520.8,723.0 521.6,721.1 522.3,719.3 523.1,717.4 523.8,715.6 524.5,713.7 525.3,711.9 526.0,710.0 526.8,708.1 527.5,706.3 528.2,704.4 529.0,702.6 529.7,700.7 530.4,698.8 531.1,697.0 531.8,695.1 532.5,693.2 533.1,691.3 533.7,689.4 534.4,687.5 535.0,685.6 535.6,683.7 536.3,681.8 536.9,679.9 537.5,678.0 538.1,676.1 538.6,674.2 539.2,672.3 539.8,670.3 540.3,668.4 540.9,666.5 541.4,664.6 542.0,662.6 542.5,660.7 543.1,658.8 543.6,656.9 544.2,655.0 544.8,653.1 545.4,651.2 546.1,649.3 546.7,647.4 547.3,645.5 548.0,643.6 548.6,641.7 549.2,639.8 549.9,637.9 550.5,636.0 551.0,634.0 551.6,632.1 552.1,630.2 552.7,628.3 553.2,626.4 553.8,624.4 554.3,622.5 554.9,620.6 555.4,618.7 556.0,616.7 556.6,614.8 557.2,612.9 557.8,611.0 558.4,609.1 559.1,607.2 559.7,605.3 560.3,603.4 561.0,601.5 561.6,599.6 562.2,597.7 562.8,595.8 563.4,593.9 564.0,592.0 564.6,590.1 565.2,588.2 565.8,586.3 566.4,584.4 566.9,582.5 567.5,580.5 568.0,578.6 568.5,576.7 569.0,574.7 569.4,572.8 569.9,570.8 570.4,568.9 570.8,566.9 571.3,565.0 571.8,563.0 572.2,561.1 572.7,559.2 573.2,557.2 573.7,555.3 574.1,553.3 574.6,551.4 575.1,549.5 575.6,547.5 576.1,545.6 576.7,543.6 577.2,541.7 577.7,539.8 578.2,537.8 578.7,535.9 579.2,534.0 579.7,532.0 580.2,530.1 580.8,528.2 581.4,526.3 581.9,524.4 582.5,522.4 583.1,520.5 583.7,518.6 584.3,516.7 584.9,514.8 585.5,512.9 586.1,511.0 586.6,509.1 587.2,507.1 587.8,505.2 588.3,503.3 588.9,501.4 589.4,499.5 590.0,497.5 590.5,495.6 591.1,493.7 591.6,491.8 592.2,489.8 592.7,487.9 593.3,486.0 593.8,484.1 594.4,482.1 594.9,480.2 595.5,478.3 596.0,476.4 596.6,474.5 597.1,472.5 597.7,470.6 598.2,468.7 598.8,466.8 599.3,464.8 599.9,462.9 600.4,461.0 601.0,459.1 601.5,457.1 602.1,455.2 602.6,453.3 603.2,451.4 603.7,449.5 604.3,447.5 604.8,445.6 605.4,443.7 605.9,441.7 606.4,439.8 606.9,437.9 607.3,435.9 607.8,434.0 608.3,432.0 608.8,430.1 609.3,428.2 609.8,426.2 610.4,424.4 611.3,422.6 612.2,420.8 613.0,419.0 613.6,417.1 614.2,415.2 614.7,413.3 615.3,411.3 615.8,409.4 616.3,407.5 616.9,405.6 617.4,403.6 617.9,401.7 618.4,399.8 619.0,397.8 619.5,395.9 620.0,394.0 620.5,392.0 621.0,390.1 621.6,388.2 622.1,386.3 622.6,384.3 623.1,382.4 623.6,380.5 624.1,378.5 624.6,376.6 625.2,374.7 625.7,372.7 626.2,370.8 626.7,368.9 627.2,366.9 627.7,365.0 628.2,363.0 628.7,361.1 629.2,359.2 629.8,357.3 630.3,355.3 630.8,353.4 631.3,351.5 631.8,349.5 632.3,347.6 632.9,345.7 633.4,343.7 633.9,341.8 634.4,339.9 634.9,337.9 635.4,336.0 635.9,334.1 636.4,332.1 636.9,330.2 637.4,328.2 637.8,326.3 638.3,324.3 638.9,322.4 639.6,320.6 640.4,318.8 641.1,317.0 641.7,315.1 642.2,313.1 642.7,311.2 643.2,309.3 643.7,307.3 644.1,305.4 644.6,303.4 645.1,301.5 645.6,299.6 646.2,297.6 646.7,295.7 647.3,293.8 647.9,291.9 648.4,290.0 649.0,288.1 649.6,286.1 650.2,284.2 650.9,282.4 651.5,280.5 652.2,278.6 652.9,276.7 653.6,274.9 654.3,273.0 655.0,271.1 655.7,269.2 656.4,267.4 657.1,265.5 657.8,263.6 658.5,261.7 659.2,259.9 659.9,258.0 660.6,256.1 661.4,254.2 662.1,252.4 662.8,250.5 663.5,248.6 664.2,246.8 664.9,244.9 665.5,243.0 666.1,241.1 666.8,239.2 667.4,237.3 668.0,235.4 668.7,233.5 669.3,231.6 670.0,229.7 670.7,227.9 671.4,226.0 672.1,224.1 672.8,222.2 673.5,220.4 674.3,218.5 675.0,216.7 675.8,214.8 676.6,213.0 677.4,211.1 678.2,209.3 679.2,207.6 680.2,205.9 681.3,204.2 682.4,202.6 683.6,200.9 684.7,199.2 685.8,197.6 686.9,195.9 688.0,194.2 689.1,192.6 690.2,190.9 691.3,189.2 692.3,187.5 693.3,185.8 694.4,184.1 695.4,182.3 696.4,180.6 697.5,179.0 698.8,177.5 700.3,176.1 701.8,174.8 703.2,173.5 704.6,172.0 705.9,170.5 707.1,168.9 708.3,167.3 709.5,165.7 710.8,164.3 712.3,163.0 713.9,161.8 715.5,160.6 716.9,159.3 718.0,157.7 719.0,155.9 719.9,154.2 721.0,152.7 722.3,151.9 724.0,152.0 725.9,152.4 727.8,152.8 729.7,152.7 731.4,152.1 733.0,151.0 734.6,149.8 736.2,148.6 737.8,147.5 739.5,146.5 741.4,145.8 743.3,145.5 745.2,145.3 747.1,145.5 749.0,146.0 750.8,146.6 752.7,146.7 754.7,146.5 756.7,146.3 758.7,146.1 760.7,146.0 762.6,145.9 764.6,145.9 766.6,145.9 768.6,145.9 770.4,146.2 771.9,147.1 772.9,148.6 773.8,150.3 774.6,152.1 775.5,153.9 776.7,155.4 778.1,156.7 779.7,157.9 781.4,159.0 782.9,160.3 784.4,161.6 785.8,163.0 787.2,164.4 788.6,165.8 790.0,167.3 791.3,168.8 792.6,170.3 793.8,171.9 795.0,173.5 796.2,175.2 797.4,176.8 798.6,178.4 799.8,180.0 801.0,181.6 802.2,183.2 803.4,184.8 804.6,186.4 805.8,187.9 807.0,189.5 808.2,191.1 809.3,192.8 810.4,194.5 811.3,196.2 812.2,198.0 813.1,199.8 814.0,201.6 814.9,203.4 815.8,205.1 816.8,206.9 818.0,208.5 819.1,210.1 820.3,211.8 821.4,213.4 822.5,215.1 823.6,216.7 824.8,218.4 826.0,220.0 827.2,221.6 828.4,223.1 829.7,224.7 831.0,226.2 832.2,227.8 833.4,229.4 834.5,231.0 835.7,232.7 836.8,234.4 837.9,236.0 839.0,237.7 840.0,239.4 841.1,241.1 842.2,242.8 843.2,244.5 844.3,246.2 845.2,247.9 846.1,249.7 846.8,251.6 847.5,253.5 848.2,255.4 848.9,257.2 849.6,259.1 850.3,261.0 851.0,262.8 851.7,264.7 852.4,266.6 853.1,268.4 853.9,270.3 854.8,272.1 855.7,273.8 856.7,275.6 857.7,277.3 858.7,279.1 859.6,280.8 860.4,282.7 861.2,284.5 862.0,286.3 862.8,288.1 863.7,290.0 864.5,291.8 865.4,293.6 866.3,295.4 867.2,297.2 868.0,299.0 868.9,300.8 869.8,302.5 870.7,304.3 871.6,306.1 872.5,307.9 873.4,309.7 874.3,311.5 875.3,313.2 876.3,314.9 877.4,316.6 878.6,318.2 879.6,319.9 880.6,321.6 881.4,323.5 882.1,325.3 882.7,327.2 883.3,329.1 884.0,331.0 884.6,332.9 885.2,334.8 885.8,336.8 886.4,338.7 887.0,340.6 887.5,342.5 888.1,344.4 888.7,346.3 889.4,348.2 890.2,350.0 891.2,351.8 892.1,353.5 893.1,355.2 894.1,357.0 895.1,358.7 896.1,360.5 897.1,362.2 898.1,363.9 899.1,365.7 900.0,367.4 900.8,369.2 901.5,371.1 902.2,373.0 902.8,374.9 903.4,376.8 904.0,378.7 904.5,380.7 905.0,382.6 905.5,384.5 906.0,386.4 906.6,388.4 907.2,390.3 908.0,392.1 908.8,393.9 909.6,395.8 910.5,397.5 911.4,399.3 912.3,401.1 913.0,402.9 913.7,404.8 914.4,406.7 915.1,408.6 915.8,410.4 916.5,412.3 917.2,414.2 917.9,416.1 918.7,417.9 919.4,419.8 920.1,421.6 920.9,423.5 921.6,425.4 922.4,427.2 923.1,429.1 923.9,430.9 924.6,432.8 925.4,434.6 926.2,436.5 927.0,438.3 927.9,440.1 928.8,441.9 929.7,443.7 930.5,445.5 931.4,447.2 932.3,449.0 933.2,450.8 934.1,452.6 935.0,454.4 935.9,456.2 936.8,458.0 937.7,459.8 938.6,461.6 939.4,463.4 940.2,465.2 941.0,467.1 941.8,468.9 942.6,470.7 943.4,472.6 944.2,474.4 945.0,476.2 945.8,478.0 946.7,479.8 947.6,481.6 948.5,483.4 949.3,485.2 950.2,487.0 951.1,488.8 951.9,490.6 952.7,492.5 953.5,494.3 954.3,496.1 955.1,498.0 955.9,499.8 956.7,501.6 957.5,503.5 958.3,505.3 959.1,507.2 959.9,509.0 960.7,510.8 961.5,512.7 962.3,514.5 963.0,516.3 963.8,518.2 964.6,520.0 965.4,521.9 966.2,523.7 967.0,525.5 967.7,527.4 968.5,529.2 969.3,531.1 970.1,532.9 970.9,534.8 971.6,536.6 972.4,538.4 973.2,540.3 974.0,542.1 974.8,543.9 975.6,545.8 976.4,547.6 977.3,549.4 978.1,551.2 979.0,553.0 979.9,554.8 980.8,556.6 981.7,558.4 982.6,560.2 983.5,561.9 984.5,563.7 985.5,565.4 986.6,567.1 987.6,568.8 988.6,570.5 989.6,572.3 990.5,574.1 991.3,575.9 992.1,577.7 992.9,579.6 993.6,581.4 994.4,583.3 995.2,585.1 996.0,586.9 997.0,588.7 998.0,590.4 999.0,592.1 1000.0,593.8 1001.0,595.6 1002.0,597.3 1002.9,599.1 1003.6,600.9 1004.3,602.8 1005.0,604.7 1005.7,606.6 1006.6,608.3 1007.8,609.8 1008.9,611.4 1009.9,613.1 1010.8,614.9 1011.6,616.7 1012.4,618.5 1013.3,620.3 1014.3,622.0 1015.2,623.8 1016.0,625.6 1016.6,627.5 1017.2,629.4 1017.8,631.3 1018.5,633.2 1019.1,635.1 1019.9,636.9 1020.8,638.7 1021.7,640.5 1022.6,642.3 1023.6,644.0 1024.5,645.8 1025.4,647.6 1026.4,649.3 1027.3,651.1 1028.3,652.8 1029.2,654.6 1030.1,656.4 1030.8,658.3 1031.6,660.1 1032.2,662.0 1032.9,663.9 1033.5,665.8 1034.1,667.7 1034.8,669.6 1035.4,671.5 1036.1,673.4 1037.0,675.2 1038.0,676.9 1039.0,678.6 1040.0,680.3 1041.0,682.0 1042.0,683.8 1043.0,685.5 1043.8,687.3 1044.6,689.2 1045.5,691.0 1046.5,692.6 1047.7,694.2 1048.8,695.7 1049.7,697.5 1050.4,699.3 1051.1,701.2 1051.8,703.0 1052.6,704.3 1053.7,704.8 1054.8,704.9 1055.8,705.7 1056.5,707.3 1057.2,709.2 1057.8,711.1 1058.4,713.0 1059.2,714.8 1060.1,716.5 1061.3,718.1 1062.6,719.6 1064.0,721.0 1065.3,722.5 1066.6,724.0 1067.7,725.6 1068.6,727.4 1069.5,729.2 1070.2,731.1 1071.0,732.9 1071.8,734.7 1072.6,736.6 1073.4,738.4 1074.2,740.2 1075.1,742.0 1076.0,743.8 1076.9,745.6 1077.8,747.4 1078.7,749.2 1079.6,751.0 1080.4,752.8 1081.3,754.6 1082.2,756.4 1083.1,758.2 1084.0,759.9 1084.9,761.7 1085.9,763.5 1087.0,765.1 1088.4,766.4 1089.9,767.7 1091.5,768.9 1093.1,770.1 1094.5,771.4 1095.7,773.0 1096.7,774.7 1097.6,776.5 1098.5,778.2 1099.4,780.0 1100.3,781.8 1101.3,783.5 1102.5,785.1 1103.8,786.6 1105.2,788.0 1106.6,789.4 1108.0,790.9 1109.4,792.3 1110.8,793.8 1112.0,795.3 1113.3,796.9 1114.5,798.4 1115.8,800.0 1117.0,801.6 1118.3,803.1 1119.5,804.7 1120.8,806.3 1122.0,807.8 1123.3,809.4 1124.5,811.0 1125.8,812.5 1127.1,814.0 1128.4,815.5 1129.8,816.9 1131.2,818.3 1132.7,819.8 1134.1,821.2 1135.5,822.6 1136.9,824.0 1138.3,825.4 1139.7,826.8 1141.1,828.2 1142.6,829.7 1144.0,831.1 1145.4,832.5 1146.8,833.9 1148.2,835.3 1149.6,836.7 1151.0,838.1 1152.5,839.6 1153.9,841.0 1155.3,842.4 1156.7,843.8 1158.1,845.2 1159.5,846.6 1160.9,848.0 1162.4,849.5 1163.8,850.9 1165.2,852.3 1166.6,853.7 1168.0,855.1 1169.4,856.5 1170.9,857.9 1172.3,859.3 1173.7,860.7 1175.1,862.1 1176.5,863.5 1178.0,864.9 1179.6,866.1 1181.2,867.3 1182.8,868.5 1184.4,869.7 1186.0,870.9 1187.5,872.2 1189.1,873.4 1190.6,874.7 1192.1,876.1 1193.6,877.4 1195.0,878.8 1196.5,880.1 1198.0,881.4 1199.5,882.8 1201.0,884.1 1202.5,885.4 1204.0,886.7 1205.5,888.0 1207.1,889.3 1208.7,890.5 1210.2,891.8 1211.8,893.0 1213.3,894.3 1214.6,895.8 1215.9,897.3 1217.3,898.7 1218.8,899.9 1220.4,901.1 1222.1,902.2 1223.7,903.4 1225.2,904.6 1226.7,906.0 1228.2,907.3 1229.7,908.7 1231.1,910.0 1232.7,911.3 1234.3,912.5 1235.8,913.8 1237.4,915.0 1238.9,916.3 1240.5,917.5 1242.1,918.8 1243.6,920.0 1245.2,921.3 1246.8,922.5 1248.3,923.8 1249.9,925.0 1251.5,926.2 1253.1,927.4 1254.8,928.4 1256.5,929.5 1258.2,930.5 1260.0,931.5 1261.8,932.4 1263.6,933.2 1265.4,933.9 1267.3,934.7 1269.1,935.4 1271.0,936.2 1272.8,936.9 1274.7,937.7 1276.5,938.5 1278.4,939.3 1280.2,940.1 1282.0,940.9 1283.8,941.8 1285.6,942.7 1287.4,943.6 1289.2,944.4 1291.0,945.2 1292.9,945.9 1294.8,946.5 1296.7,947.2 1298.6,947.8 1300.5,948.4 1302.4,949.1 1304.3,949.7 1306.2,950.3 1308.1,950.9 1310.0,951.6 1311.9,952.2 1313.8,952.8 1315.7,953.5 1317.6,954.1 1319.5,954.7 1321.4,955.4 1323.3,956.0 1325.2,956.6 1327.1,957.3 1329.0,957.9 1330.9,958.6 1332.8,959.2 1334.7,959.8 1336.6,960.4 1338.5,961.0 1340.4,961.7 1342.3,962.3 1344.2,962.9 1346.1,963.3 1348.1,963.6 1349.9,964.2 1351.7,965.0 1353.4,965.9 1355.2,966.6 1357.1,967.2 1359.0,967.8 1360.9,968.4 1362.8,969.1 1364.7,969.8 1366.6,970.4 1368.5,970.9 1370.4,971.4 1372.4,971.9 1374.3,972.4 1376.3,972.9 1378.2,973.4 1380.1,973.9 1382.1,974.3 1384.0,974.8 1386.0,975.3 1387.9,975.8 1389.9,976.3 1391.8,976.8 1393.7,977.2 1395.7,977.7 1397.6,978.2 1399.5,978.7 1401.5,979.2 1403.4,979.7 1405.4,980.2 1407.3,980.7 1409.2,981.2 1411.2,981.7 1413.1,982.1 1415.1,982.7 1416.9,983.3 1418.8,984.1 1420.6,984.9 1422.4,985.6 1424.3,986.3 1426.2,986.8 1428.2,987.4 1430.1,987.9 1432.0,988.4 1434.0,988.9 1435.9,989.3 1437.9,989.8 1439.8,990.2 1441.8,990.6 1443.7,991.2 1445.6,991.8 1447.5,992.5 1449.4,993.0 1451.3,993.3 1453.3,993.6 1455.2,994.0 1457.2,994.4 1459.1,994.9 1461.0,995.4 1462.9,996.0 1464.8,996.7 1466.7,997.4 1468.5,998.1 1470.4,998.8 1472.3,999.4 1474.2,1000.1 1476.1,1000.7 1478.0,1001.3 1479.9,1001.9 1481.9,1002.3 1483.8,1002.7 1485.8,1003.0 1487.8,1003.3 1489.8,1003.6 1491.7,1003.9 1493.7,1004.2 1495.7,1004.3 1497.7,1004.4 1499.7,1004.6 1501.7,1004.7 1503.7,1004.8 1505.5,1004.9 1506.9,1005.0" fill="none" stroke="#FF8000" stroke-width="4.6" stroke-linejoin="round" stroke-linecap="butt"/>
<polyline points="220.8,1081.5 222.2,1081.5 224.0,1081.5 226.0,1081.5 228.0,1081.5 230.0,1081.5 232.0,1081.5 234.0,1081.5 236.0,1081.5 238.0,1081.5 240.0,1081.5 242.0,1081.5 244.0,1081.5 246.0,1081.5 248.0,1081.4 250.0,1081.2 251.9,1080.8 253.8,1080.1 255.7,1079.5 257.6,1078.8 259.4,1078.2 261.3,1077.5 263.2,1076.8 264.9,1075.9 266.6,1074.8 268.1,1073.5 269.7,1072.2 271.2,1070.9 272.7,1069.7 274.3,1068.4 275.8,1067.1 277.3,1065.8 278.9,1064.5 280.4,1063.2 281.9,1061.9 283.2,1060.5 284.5,1058.9 285.7,1057.3 286.9,1055.7 288.1,1054.1 289.3,1052.5 290.5,1050.9 291.7,1049.3 292.9,1047.7 294.1,1046.1 295.3,1044.5 296.4,1042.9 297.4,1041.1 298.4,1039.4 299.3,1037.6 300.3,1035.8 301.2,1034.1 302.1,1032.3 303.1,1030.6 304.0,1028.8 305.0,1027.0 305.9,1025.2 306.7,1023.4 307.4,1021.6 308.1,1019.7 308.7,1017.8 309.4,1015.9 310.0,1014.0 310.7,1012.1 311.3,1010.2 312.0,1008.3 312.6,1006.4 313.3,1004.5 313.9,1002.6 314.5,1000.7 315.1,998.8 315.6,996.9 316.2,995.0 316.8,993.1 317.4,991.2 318.0,989.3 318.7,987.4 319.4,985.5 320.1,983.6 320.8,981.8 321.5,979.9 322.2,978.0 322.9,976.1 323.6,974.3 324.3,972.4 325.0,970.5 325.7,968.7 326.4,966.8 327.2,964.9 327.9,963.0 328.6,961.2 329.3,959.3 330.0,957.4 330.7,955.5 331.4,953.7 332.1,951.8 332.7,949.9 333.4,948.0 334.1,946.2 334.8,944.3 335.5,942.4 336.2,940.5 336.8,938.6 337.4,936.7 338.0,934.8 338.5,932.9 339.1,931.0 339.6,929.0 340.2,927.1 340.7,925.2 341.3,923.3 341.8,921.3 342.4,919.4 343.0,917.5 343.6,915.6 344.2,913.7 344.8,911.8 345.5,909.9 346.1,908.0 346.7,906.1 347.4,904.2 348.0,902.3 348.6,900.4 349.2,898.5 349.8,896.6 350.4,894.7 350.9,892.7 351.5,890.8 352.0,888.9 352.6,887.0 353.1,885.1 353.7,883.1 354.2,881.2 354.8,879.3 355.3,877.4 355.9,875.5 356.6,873.6 357.2,871.7 357.8,869.8 358.5,867.9 359.1,866.0 359.7,864.1 360.4,862.2 361.0,860.3 361.6,858.4 362.3,856.5 362.9,854.6 363.5,852.7 364.2,850.8 364.8,848.9 365.4,847.0 366.1,845.1 366.7,843.2 367.3,841.3 368.0,839.4 368.6,837.5 369.2,835.6 369.8,833.7 370.5,831.8 371.1,829.9 371.7,828.0 372.3,826.1 373.0,824.2 373.6,822.3 374.2,820.4 374.8,818.5 375.5,816.6 376.1,814.7 376.7,812.8 377.4,810.9 378.0,809.0 378.7,807.1 379.3,805.2 379.9,803.3 380.6,801.4 381.3,799.6 382.0,797.7 382.8,795.8 383.5,794.0 384.3,792.1 385.0,790.3 385.7,788.4 386.5,786.6 387.3,784.7 388.2,782.9 389.1,781.2 390.0,779.4 390.9,777.6 391.8,775.8 392.7,774.0 393.6,772.2 394.5,770.4 395.4,768.7 396.3,766.9 397.3,765.1 398.3,763.4 399.2,761.6 400.1,759.8 400.9,758.0 401.6,756.1 402.3,754.3 403.0,752.4 403.7,750.5 404.4,748.7 405.2,746.8 406.1,745.0 407.0,743.2 407.9,741.4 408.7,739.6 409.5,737.8 410.2,735.9 410.9,734.0 411.5,732.1 412.2,730.3 413.0,728.5 413.9,726.7 415.0,725.0 416.0,723.3 417.1,721.6 418.4,720.1 419.8,718.6 421.2,717.2 422.6,715.9 424.2,714.6 425.8,713.5 427.5,712.4 429.2,711.4 430.7,710.2 432.1,708.8 433.2,707.1 434.2,705.4 435.3,703.8 436.6,702.3 438.1,701.1 439.8,700.0 441.5,699.0 443.2,697.9 444.7,696.6 446.2,695.3 447.6,693.9 449.1,692.6 450.7,691.5 452.5,690.7 454.4,690.1 456.3,689.5 458.1,688.8 459.9,688.0 461.8,687.3 463.6,686.9 465.6,687.0 467.5,687.3 469.5,687.6 471.5,687.8 473.4,687.8 475.4,687.6 477.4,687.4 479.4,687.1 481.3,686.9 483.1,687.2 484.7,688.1 486.2,689.4 487.6,690.8 489.1,692.0 490.7,693.1 492.5,693.9 494.4,694.6 496.2,695.2 498.1,695.3 500.0,695.3 501.8,695.5 503.7,696.0 505.6,696.7 507.5,697.3 509.5,697.8 511.4,698.2 513.4,698.6 515.3,698.9 517.3,699.3 519.3,699.7 521.2,700.3 523.1,700.9 525.0,701.5 526.9,702.0 528.8,702.4 530.8,702.6 532.8,702.6 534.8,702.6 536.8,702.6 538.8,702.6 540.8,702.5 542.8,702.3 544.8,702.1 546.8,701.8 548.7,701.5 550.6,701.1 552.3,700.3 553.9,699.1 555.3,697.7 556.7,696.3 558.1,694.9 559.6,693.5 561.2,692.3 562.8,691.2 564.5,690.0 566.1,688.9 567.8,687.8 569.5,686.7 571.1,685.6 572.8,684.5 574.4,683.4 576.1,682.3 577.7,681.1 579.2,679.7 580.5,678.3 581.7,676.7 583.0,675.2 584.3,673.6 585.5,672.1 586.8,670.5 588.1,669.0 589.4,667.4 590.6,665.9 591.9,664.3 593.0,662.7 594.1,661.0 595.0,659.3 596.0,657.5 597.0,655.8 597.9,654.0 598.9,652.3 599.9,650.5 601.0,648.8 602.1,647.2 603.3,645.6 604.5,644.0 605.7,642.4 606.9,640.8 608.1,639.2 609.3,637.6 610.5,636.0 611.6,634.3 612.7,632.7 613.9,631.0 614.9,629.3 615.9,627.6 616.8,625.8 617.5,623.9 618.1,622.0 618.7,620.1 619.4,618.2 620.0,616.4 620.7,614.5 621.4,612.6 622.2,610.8 623.1,609.0 624.0,607.2 624.9,605.4 625.8,603.6 626.7,601.8 627.5,600.0 628.4,598.2 629.2,596.4 630.0,594.5 630.8,592.7 631.6,590.9 632.4,589.1 633.2,587.2 634.0,585.4 634.7,583.5 635.4,581.7 636.1,579.8 636.7,577.9 637.3,576.0 637.9,574.0 638.4,572.1 639.0,570.2 639.6,568.3 640.1,566.4 640.7,564.5 641.3,562.5 641.9,560.6 642.5,558.7 643.1,556.8 643.8,554.9 644.4,553.0 645.0,551.1 645.7,549.2 646.3,547.3 646.9,545.4 647.5,543.5 648.2,541.6 648.8,539.7 649.3,537.8 649.9,535.9 650.5,534.0 651.1,532.1 651.7,530.2 652.3,528.2 652.8,526.3 653.4,524.4 654.0,522.5 654.7,520.6 655.4,518.8 656.1,516.9 656.9,515.0 657.6,513.2 658.4,511.3 659.1,509.5 659.9,507.6 660.6,505.7 661.3,503.9 662.0,502.0 662.7,500.1 663.4,498.2 664.0,496.4 664.7,494.5 665.4,492.6 666.1,490.7 666.8,488.8 667.5,487.0 668.1,485.1 668.8,483.2 669.5,481.3 670.2,479.4 670.9,477.6 671.6,475.7 672.3,473.8 672.9,471.9 673.6,470.0 674.2,468.1 674.9,466.2 675.5,464.3 676.1,462.4 676.8,460.5 677.4,458.6 678.0,456.7 678.7,454.8 679.3,452.9 679.9,451.0 680.5,449.2 681.2,447.3 681.8,445.4 682.4,443.5 683.1,441.6 683.7,439.7 684.3,437.8 685.0,435.9 685.6,434.0 686.2,432.1 686.9,430.2 687.5,428.3 688.1,426.4 688.8,424.5 689.5,422.6 690.2,420.7 691.0,418.9 691.7,417.0 692.4,415.2 693.2,413.3 693.9,411.5 694.7,409.6 695.4,407.7 696.1,405.9 696.8,404.0 697.5,402.1 698.2,400.2 698.9,398.4 699.6,396.5 700.3,394.6 701.0,392.8 701.7,390.9 702.4,389.0 703.2,387.1 703.9,385.3 704.7,383.5 705.6,381.7 706.5,379.9 707.4,378.1 708.2,376.3 709.0,374.5 709.9,372.6 710.6,370.8 711.4,369.0 712.1,367.1 712.7,365.2 713.3,363.3 713.8,361.4 714.4,359.4 715.0,357.5 715.6,355.6 716.3,353.7 717.0,351.9 717.8,350.1 718.7,348.3 719.6,346.5 720.5,344.7 721.4,342.9 722.2,341.1 723.0,339.2 723.7,337.4 724.5,335.5 725.2,333.6 725.9,331.8 726.6,329.9 727.3,328.0 727.9,326.1 728.5,324.2 729.0,322.3 729.6,320.4 730.2,318.5 730.8,316.5 731.4,314.6 732.0,312.7 732.6,310.8 733.3,308.9 734.0,307.1 734.7,305.2 735.4,303.3 736.1,301.5 736.8,299.6 737.7,297.8 738.6,296.0 739.4,294.2 740.3,292.4 741.2,290.6 742.1,288.8 743.0,287.0 743.9,285.3 744.8,283.5 745.7,281.7 746.6,279.9 747.5,278.1 748.4,276.3 749.3,274.5 750.2,272.7 751.1,270.9 751.9,269.1 752.7,267.3 753.5,265.4 754.2,263.6 754.9,261.7 755.6,259.8 756.3,258.0 757.0,256.1 757.8,254.2 758.6,252.4 759.4,250.6 760.2,248.8 760.9,246.9 761.5,245.0 762.1,243.1 762.7,241.2 763.3,239.2 763.8,237.3 764.4,235.4 765.1,233.5 765.9,231.8 767.0,230.1 768.2,228.5 769.5,227.0 770.7,225.4 772.0,223.8 773.2,222.2 774.2,220.6 775.2,218.8 776.1,217.1 777.0,215.3 777.9,213.5 778.8,211.7 779.8,210.0 780.9,208.4 782.4,207.1 784.0,205.9 785.5,204.6 787.1,203.4 788.6,202.1 789.9,200.6 791.2,199.1 792.4,197.5 793.6,195.9 794.7,194.2 795.7,192.5 796.7,190.8 797.6,189.0 798.5,187.2 799.4,185.4 800.3,183.6 801.2,181.9 802.3,180.2 803.4,178.5 804.6,176.9 805.8,175.3 807.0,173.7 808.2,172.1 809.5,170.5 810.7,169.0 811.9,167.4 813.2,165.8 814.4,164.3 815.8,162.8 817.2,161.4 818.8,160.3 820.5,159.2 822.2,158.2 824.0,157.3 825.8,156.6 827.7,155.9 829.4,154.9 830.9,153.7 832.3,152.3 833.8,150.9 835.3,149.7 837.0,148.7 838.8,148.0 840.7,147.5 842.7,147.0 844.6,146.7 846.6,146.4 848.6,146.1 850.6,145.9 852.6,145.6 854.5,145.4 856.5,145.2 858.5,145.2 860.4,145.6 862.3,146.2 864.2,146.8 866.1,147.5 868.0,148.1 869.9,148.7 871.8,149.3 873.7,149.9 875.6,150.5 877.5,151.1 879.4,151.8 881.2,152.5 883.1,153.3 884.9,154.0 886.7,154.9 888.3,155.9 889.6,157.3 890.7,159.0 891.7,160.7 892.8,162.4 893.8,164.1 895.0,165.7 896.4,167.1 898.0,168.3 899.5,169.5 901.1,170.7 902.8,171.8 904.6,172.7 906.4,173.4 908.2,174.2 910.0,175.1 911.5,176.3 912.9,177.7 914.3,179.1 915.7,180.5 917.1,182.0 918.5,183.4 919.9,184.7 921.6,185.8 923.2,186.8 924.6,188.1 925.6,189.7 926.6,191.3 927.9,192.8 929.3,194.2 930.6,195.7 931.6,197.4 932.4,199.2 933.3,201.0 934.2,202.7 935.2,204.5 936.2,206.2 937.2,207.9 938.1,209.7 939.1,211.4 940.1,213.2 941.0,214.9 942.0,216.7 942.9,218.5 943.8,220.3 944.8,222.0 945.7,223.8 946.8,225.5 947.8,227.2 948.8,228.9 949.8,230.7 950.9,232.3 952.0,234.0 953.3,235.5 954.7,236.9 956.1,238.3 957.5,239.7 958.9,241.2 960.1,242.7 961.1,244.5 961.9,246.3 962.7,248.1 963.5,249.9 964.3,251.8 965.1,253.6 965.9,255.4 966.8,257.2 967.9,258.8 969.1,260.4 970.4,262.0 971.6,263.5 972.9,265.1 974.1,266.7 975.4,268.2 976.6,269.8 977.9,271.4 979.1,272.9 980.4,274.5 981.6,276.0 982.9,277.6 984.1,279.2 985.2,280.9 986.3,282.5 987.4,284.2 988.5,285.9 989.6,287.5 990.7,289.2 991.7,290.9 992.5,292.7 993.1,294.6 993.7,296.6 994.2,298.5 994.8,300.4 995.3,302.3 995.9,304.2 996.6,306.0 997.6,307.7 998.8,309.4 1000.0,311.0 1001.2,312.6 1002.5,314.1 1003.8,315.6 1005.2,317.1 1006.6,318.5 1007.9,319.9 1009.0,321.6 1009.7,323.4 1010.2,325.3 1010.7,327.2 1011.2,329.1 1011.7,331.1 1012.1,333.0 1012.6,335.0 1013.2,336.9 1013.9,338.8 1014.7,340.6 1015.6,342.4 1016.5,344.1 1017.5,345.8 1018.7,347.4 1020.0,348.9 1021.4,350.3 1022.8,351.7 1024.2,353.2 1025.5,354.7 1026.4,356.4 1027.1,358.2 1027.6,360.1 1028.2,362.1 1028.7,364.0 1029.3,365.9 1029.8,367.8 1030.5,369.7 1031.4,371.5 1032.4,373.2 1033.4,374.9 1034.4,376.6 1035.5,378.4 1036.5,380.1 1037.5,381.8 1038.5,383.5 1039.4,385.3 1040.1,387.2 1040.8,389.1 1041.4,391.0 1042.0,392.9 1042.6,394.8 1043.2,396.7 1043.8,398.6 1044.6,400.4 1045.5,402.2 1046.3,404.0 1047.2,405.8 1048.1,407.6 1049.0,409.4 1049.9,411.2 1050.8,412.9 1051.8,414.7 1052.8,416.4 1053.8,418.1 1054.8,419.9 1055.8,421.6 1056.8,423.3 1057.6,425.2 1058.3,427.0 1059.0,428.9 1059.6,430.8 1060.3,432.7 1060.9,434.6 1061.7,436.4 1062.7,438.1 1063.9,439.7 1065.0,441.3 1066.2,443.0 1067.4,444.6 1068.4,446.3 1069.3,448.1 1070.2,449.8 1071.1,451.6 1072.0,453.4 1072.9,455.2 1073.8,457.0 1074.7,458.8 1075.6,460.6 1076.5,462.4 1077.4,464.2 1078.3,465.9 1079.2,467.7 1080.1,469.5 1080.8,471.4 1081.5,473.3 1082.2,475.1 1082.8,477.0 1083.4,478.9 1084.1,480.8 1084.7,482.7 1085.5,484.6 1086.4,486.4 1087.3,488.1 1088.2,489.9 1089.1,491.7 1090.0,493.5 1090.9,495.3 1092.0,497.0 1093.1,498.6 1094.3,500.2 1095.5,501.8 1096.7,503.4 1097.7,505.1 1098.6,506.9 1099.3,508.7 1100.1,510.6 1100.8,512.5 1101.5,514.3 1102.3,516.2 1103.0,518.0 1103.8,519.9 1104.5,521.7 1105.3,523.6 1106.3,525.2 1107.6,526.6 1109.1,527.8 1110.7,529.0 1111.9,530.4 1112.6,532.1 1113.0,534.0 1113.2,536.0 1113.5,538.0 1113.7,540.0 1114.0,542.0 1114.2,543.9 1114.7,545.8 1115.4,547.6 1116.6,549.1 1118.0,550.5 1119.4,552.0 1120.6,553.5 1121.5,555.2 1122.2,557.1 1122.9,559.0 1123.5,560.9 1124.2,562.7 1124.9,564.4 1126.1,565.6 1127.7,566.1 1129.6,566.3 1131.2,567.0 1132.3,568.3 1133.1,570.0 1133.9,571.8 1134.6,573.7 1135.5,575.5 1136.4,577.2 1137.5,578.9 1138.7,580.5 1139.9,582.1 1141.0,583.7 1142.0,585.4 1142.6,587.3 1142.9,589.2 1143.3,591.2 1143.6,593.2 1143.9,595.2 1144.4,597.1 1145.0,599.0 1145.8,600.8 1146.6,602.6 1147.5,604.4 1148.5,606.1 1149.6,607.8 1150.7,609.4 1151.9,611.0 1153.1,612.6 1154.3,614.3 1155.4,615.9 1156.5,617.6 1157.5,619.3 1158.6,621.0 1159.6,622.7 1160.6,624.4 1161.7,626.2 1162.7,627.9 1163.7,629.6 1164.7,631.3 1165.8,633.0 1166.8,634.8 1167.7,636.5 1168.7,638.3 1169.8,639.9 1171.0,641.5 1172.3,643.0 1173.6,644.5 1174.7,646.1 1175.7,647.8 1176.9,649.4 1178.2,651.0 1179.4,652.5 1180.6,654.1 1181.7,655.8 1182.7,657.5 1183.9,659.1 1184.9,660.8 1185.9,662.5 1186.8,664.3 1187.8,666.1 1188.9,667.7 1190.1,669.3 1191.3,670.9 1192.6,672.4 1193.8,674.0 1195.0,675.6 1196.2,677.2 1197.3,678.9 1198.4,680.6 1199.5,682.2 1200.6,683.8 1201.9,685.3 1203.4,686.7 1204.8,688.1 1206.2,689.5 1207.6,690.9 1208.9,692.4 1210.0,694.1 1210.9,695.9 1211.6,697.7 1212.4,699.5 1213.2,701.4 1214.1,703.2 1215.2,704.8 1216.5,706.2 1218.1,707.4 1219.7,708.5 1221.2,709.7 1222.4,711.2 1223.0,712.9 1223.5,714.9 1223.9,716.8 1224.3,718.8 1224.9,720.7 1225.5,722.6 1226.3,724.4 1227.1,726.3 1227.8,728.1 1228.6,729.9 1229.6,731.6 1230.8,733.2 1232.1,734.6 1233.7,735.8 1235.3,736.8 1236.9,737.9 1238.0,739.4 1238.9,741.1 1239.6,743.0 1240.4,744.8 1241.2,746.7 1241.9,748.5 1242.7,750.3 1243.7,752.0 1245.0,753.3 1246.7,754.3 1248.4,755.2 1250.2,756.2 1251.7,757.3 1252.9,758.8 1253.9,760.5 1254.8,762.3 1255.6,764.1 1256.5,765.9 1257.3,767.7 1258.1,769.6 1258.9,771.4 1259.7,773.2 1260.5,775.1 1261.3,776.9 1262.1,778.8 1262.9,780.6 1263.7,782.4 1264.6,784.2 1265.5,785.9 1266.6,787.5 1267.9,788.5 1269.7,788.9 1271.6,789.0 1273.5,789.2 1275.1,789.8 1276.2,791.1 1277.0,792.8 1277.8,794.7 1278.6,796.5 1279.4,798.3 1280.3,800.1 1281.4,801.7 1282.6,803.3 1283.8,804.9 1285.0,806.5 1286.3,808.1 1287.7,809.5 1289.1,811.0 1290.5,812.4 1291.8,813.9 1292.9,815.5 1293.9,817.2 1294.8,819.0 1295.8,820.7 1296.9,822.3 1298.4,823.5 1300.0,824.5 1301.8,825.4 1303.6,826.4 1305.2,827.5 1306.8,828.7 1308.2,830.1 1309.6,831.5 1310.9,833.0 1312.1,834.6 1313.0,836.4 1314.0,838.1 1314.9,839.8 1316.1,841.1 1317.7,841.8 1319.6,842.0 1321.5,842.1 1323.4,842.4 1325.0,843.2 1326.3,844.6 1327.5,846.2 1328.7,847.8 1329.9,849.4 1331.0,851.0 1332.2,852.6 1333.3,854.3 1334.4,855.9 1335.6,857.5 1336.7,858.6 1338.0,858.8 1339.2,858.5 1340.5,858.9 1341.8,860.1 1343.0,861.6 1344.3,863.1 1345.6,864.6 1347.1,865.8 1348.7,867.0 1350.1,868.3 1351.2,869.9 1352.3,871.6 1353.3,873.3 1354.5,874.9 1355.8,876.3 1357.4,877.5 1359.1,878.6 1360.7,879.8 1362.1,881.1 1363.4,882.6 1364.7,884.1 1366.0,885.6 1367.3,887.2 1368.5,888.8 1369.6,890.5 1370.8,892.1 1372.1,893.4 1373.7,894.5 1375.5,895.3 1377.4,896.0 1379.2,896.7 1381.0,897.6 1382.6,898.7 1384.0,900.1 1385.2,901.6 1386.4,903.2 1387.6,904.6 1388.9,905.3 1390.2,904.9 1391.6,903.8 1393.2,902.6 1394.9,901.6 1396.7,900.8 1398.6,900.1 1400.4,899.4 1402.2,898.9 1403.8,899.1 1405.2,900.1 1406.4,901.6 1407.6,903.2 1408.8,904.8 1410.0,906.4 1411.2,908.0 1412.4,909.6 1413.6,911.2 1414.8,912.8 1415.9,914.5 1416.9,916.2 1417.9,917.9 1418.8,919.7 1419.7,921.5 1420.6,923.3 1421.5,925.1 1422.4,926.8 1423.5,928.5 1424.6,930.1 1425.8,931.7 1427.1,933.3 1428.3,934.9 1429.7,936.3 1431.2,937.6 1432.7,938.9 1434.3,940.1 1436.0,941.2 1437.6,942.2 1439.5,943.0 1441.4,943.5 1443.3,944.0 1445.2,944.7 1446.8,945.6 1448.3,946.9 1449.8,948.1 1451.5,949.0 1453.4,949.5 1455.4,949.8 1457.3,950.1 1459.3,950.5 1461.2,950.9 1462.9,951.7 1464.3,952.9 1465.5,954.5 1466.7,956.1 1467.9,957.7 1469.2,959.2 1470.7,960.5 1472.3,961.6 1473.9,962.8 1475.6,963.9 1477.2,965.1 1478.8,966.2 1480.5,967.0 1482.3,967.1 1484.2,966.8 1486.1,966.2 1488.0,965.6 1489.7,965.3 1491.1,965.8 1492.1,967.2 1493.1,968.9 1494.1,970.6 1495.3,972.2 1496.7,973.6 1498.2,974.7 1500.0,975.4 1501.9,975.6 1503.7,975.3 1505.3,974.5 1506.6,973.5 1507.1,973.1" fill="none" stroke="#808000" stroke-width="4.6" stroke-linejoin="round" stroke-linecap="butt"/>
<polyline points="220.8,1083.7 222.2,1083.7 224.0,1083.7 226.0,1083.7 228.0,1083.7 230.0,1083.7 232.0,1083.7 234.0,1083.7 236.0,1083.7 238.0,1083.7 240.0,1083.7 242.0,1083.7 244.0,1083.7 246.0,1083.7 248.0,1083.6 250.0,1083.4 251.9,1083.0 253.8,1082.4 255.7,1081.8 257.6,1081.2 259.5,1080.5 261.4,1079.9 263.3,1079.3 265.2,1078.6 267.1,1078.0 269.0,1077.4 270.9,1076.8 272.8,1076.1 274.7,1075.4 276.5,1074.7 278.4,1074.1 280.3,1073.4 282.2,1072.7 284.1,1072.0 285.9,1071.3 287.7,1070.5 289.3,1069.4 290.7,1068.0 292.1,1066.5 293.4,1065.0 294.7,1063.5 296.0,1062.0 297.4,1060.5 298.7,1059.0 300.0,1057.5 301.3,1056.0 302.6,1054.5 303.8,1052.9 305.1,1051.3 306.3,1049.8 307.6,1048.2 308.8,1046.6 310.1,1045.1 311.3,1043.5 312.5,1041.9 313.6,1040.2 314.7,1038.5 315.7,1036.8 316.8,1035.1 317.8,1033.4 318.9,1031.7 319.9,1030.0 321.0,1028.3 322.0,1026.6 323.1,1024.9 324.1,1023.2 325.0,1021.4 325.9,1019.6 326.7,1017.8 327.5,1016.0 328.3,1014.1 329.1,1012.3 329.9,1010.5 330.7,1008.7 331.5,1006.8 332.3,1005.0 333.1,1003.1 333.8,1001.3 334.5,999.4 335.1,997.5 335.8,995.6 336.5,993.7 337.2,991.9 338.1,990.1 339.0,988.3 339.9,986.5 340.8,984.7 341.7,982.9 342.5,981.1 343.4,979.3 344.3,977.6 345.2,975.8 346.1,974.0 347.0,972.2 347.9,970.4 348.8,968.6 349.7,966.8 350.6,965.0 351.5,963.3 352.4,961.5 353.3,959.7 354.2,957.9 355.1,956.1 355.9,954.3 356.7,952.4 357.5,950.6 358.3,948.8 359.1,946.9 359.9,945.1 360.6,943.2 361.4,941.4 362.2,939.6 363.0,937.7 363.8,935.9 364.6,934.0 365.3,932.2 366.0,930.3 366.7,928.4 367.4,926.6 368.1,924.7 368.8,922.8 369.5,921.0 370.2,919.1 370.9,917.2 371.6,915.3 372.3,913.5 373.0,911.6 373.7,909.7 374.4,907.8 375.1,906.0 375.8,904.1 376.6,902.2 377.3,900.4 378.0,898.5 378.7,896.6 379.4,894.7 380.1,892.9 380.8,891.0 381.5,889.1 382.2,887.2 382.9,885.4 383.6,883.5 384.3,881.6 385.0,879.8 385.7,877.9 386.4,876.0 387.1,874.1 387.8,872.3 388.5,870.4 389.2,868.5 389.9,866.6 390.6,864.8 391.3,862.9 392.0,861.0 392.7,859.2 393.4,857.3 394.1,855.4 394.8,853.5 395.5,851.7 396.2,849.8 396.9,847.9 397.6,846.0 398.3,844.2 399.0,842.3 399.7,840.4 400.4,838.5 401.1,836.7 401.8,834.8 402.5,832.9 403.2,831.0 403.9,829.2 404.6,827.3 405.3,825.4 406.0,823.6 406.8,821.7 407.5,819.8 408.2,817.9 408.9,816.1 409.6,814.2 410.3,812.3 411.0,810.4 411.7,808.6 412.3,806.7 412.9,804.8 413.4,802.8 414.0,800.9 414.6,799.0 415.3,797.1 416.0,795.3 416.8,793.4 417.5,791.5 418.2,789.7 418.9,787.8 419.6,786.0 420.4,784.1 421.0,782.2 421.7,780.3 422.4,778.5 423.1,776.6 423.8,774.7 424.5,772.8 425.2,770.9 425.8,769.1 426.5,767.2 427.3,765.3 428.0,763.5 428.7,761.6 429.5,759.7 430.2,757.9 431.0,756.0 431.7,754.2 432.4,752.3 433.2,750.4 433.9,748.6 434.7,746.7 435.4,744.9 436.2,743.0 436.9,741.2 437.7,739.3 438.4,737.4 439.1,735.6 439.9,733.7 440.6,731.9 441.4,730.0 442.1,728.2 442.9,726.3 443.6,724.5 444.4,722.6 445.1,720.7 445.8,718.9 446.6,717.0 447.3,715.2 448.1,713.3 448.8,711.5 449.6,709.6 450.3,707.7 451.1,705.9 451.8,704.0 452.6,702.2 453.3,700.3 454.0,698.5 454.8,696.6 455.5,694.7 456.3,692.9 457.0,691.0 457.7,689.2 458.4,687.3 459.1,685.4 459.7,683.5 460.4,681.6 461.0,679.7 461.6,677.8 462.3,675.9 462.9,674.0 463.5,672.1 464.2,670.2 464.8,668.3 465.5,666.5 466.2,664.6 466.9,662.7 467.6,660.8 468.2,658.9 468.9,657.1 469.6,655.2 470.3,653.3 470.9,651.4 471.5,649.5 472.0,647.6 472.6,645.6 473.1,643.7 473.7,641.8 474.2,639.9 474.7,637.9 475.3,636.0 475.8,634.1 476.4,632.2 476.9,630.2 477.5,628.3 478.1,626.4 478.7,624.5 479.3,622.6 479.8,620.7 480.4,618.8 481.0,616.8 481.6,614.9 482.2,613.0 482.8,611.1 483.4,609.2 484.0,607.3 484.7,605.4 485.3,603.5 485.9,601.6 486.6,599.7 487.2,597.8 487.9,595.9 488.5,594.0 489.2,592.1 489.8,590.2 490.4,588.4 491.0,586.4 491.6,584.5 492.1,582.6 492.5,580.6 492.9,578.7 493.4,576.7 493.8,574.8 494.2,572.8 494.7,570.9 495.1,568.9 495.6,567.0 496.0,565.0 496.4,563.1 496.9,561.1 497.3,559.2 497.9,557.5 498.8,556.1 499.8,554.9 500.6,553.3 501.2,551.5 501.8,549.6 502.4,547.7 503.0,545.7 503.5,543.8 504.1,541.9 504.7,540.0 505.3,538.1 505.9,536.2 506.5,534.3 507.0,532.4 507.6,530.4 508.2,528.5 508.8,526.6 509.4,524.7 509.9,522.8 510.5,520.9 511.1,518.9 511.6,517.0 512.2,515.1 512.7,513.2 513.2,511.2 513.7,509.3 514.3,507.4 514.8,505.4 515.3,503.5 515.9,501.6 516.4,499.7 516.9,497.7 517.5,495.8 518.1,493.9 518.7,492.0 519.4,490.1 520.0,488.2 520.6,486.3 521.3,484.4 521.9,482.5 522.5,480.6 523.1,478.7 523.7,476.8 524.3,474.9 524.9,473.0 525.5,471.1 526.0,469.1 526.6,467.2 527.2,465.3 527.8,463.4 528.3,461.5 528.9,459.6 529.5,457.6 530.1,455.7 530.6,453.8 531.2,451.9 531.8,450.0 532.4,448.1 532.9,446.2 533.5,444.2 534.1,442.3 534.7,440.4 535.3,438.5 535.9,436.6 536.5,434.7 537.2,432.8 537.8,430.9 538.4,429.0 539.1,427.1 539.7,425.2 540.4,423.4 541.3,421.7 542.3,420.0 543.2,418.3 543.8,416.4 544.4,414.5 544.9,412.6 545.4,410.7 546.0,408.7 546.5,406.8 547.1,404.9 547.7,403.0 548.3,401.1 548.8,399.1 549.3,397.2 549.7,395.2 550.1,393.3 550.4,391.3 550.8,389.3 551.1,387.4 551.5,385.4 551.8,383.4 552.2,381.5 552.5,379.5 552.9,377.5 553.4,375.6 554.0,373.7 554.9,371.9 555.8,370.2 556.7,368.4 557.6,366.6 558.6,364.8 559.5,363.1 560.4,361.3 561.1,359.4 561.7,357.5 562.3,355.6 562.8,353.7 563.4,351.8 563.9,349.8 564.5,347.9 565.1,346.0 565.7,344.1 566.4,342.2 567.0,340.3 567.6,338.4 568.3,336.5 568.9,334.6 569.5,332.7 570.2,330.8 570.8,328.9 571.4,327.0 572.1,325.1 572.7,323.3 573.3,321.3 574.0,319.4 574.6,317.5 575.2,315.6 575.8,313.7 576.4,311.8 576.9,309.9 577.5,308.0 578.0,306.1 578.6,304.1 579.1,302.2 579.7,300.3 580.3,298.4 581.0,296.5 581.6,294.6 582.2,292.7 582.9,290.8 583.5,288.9 584.1,287.0 584.8,285.1 585.4,283.2 586.1,281.3 586.8,279.5 587.5,277.6 588.2,275.7 588.9,273.8 589.6,272.0 590.3,270.1 590.9,268.2 591.6,266.3 592.3,264.4 592.9,262.5 593.6,260.6 594.2,258.7 594.8,256.8 595.5,255.0 596.1,253.1 596.7,251.2 597.4,249.3 598.3,247.6 599.3,246.1 600.2,244.5 600.8,242.6 601.3,240.7 601.8,238.8 602.3,236.8 602.8,234.9 603.4,233.0 604.0,231.1 604.7,229.2 605.4,227.4 606.1,225.5 606.9,223.6 607.7,221.8 608.6,220.0 609.6,218.3 610.7,216.7 611.8,215.0 612.9,213.3 614.0,211.6 615.1,210.0 616.1,208.2 617.1,206.5 618.2,204.8 619.3,203.2 620.5,201.6 621.8,200.0 623.0,198.5 624.2,196.9 625.3,195.2 626.3,193.5 627.2,191.7 628.1,189.9 629.0,188.1 630.1,186.5 631.3,184.9 632.7,183.5 634.2,182.1 635.7,180.9 637.3,179.9 639.0,179.5 640.6,179.1 641.9,178.3 643.2,176.9 644.3,175.3 645.4,173.6 646.3,171.8 647.2,170.0 648.1,168.2 649.0,166.4 649.9,164.7 650.9,163.0 652.2,161.6 653.9,160.6 655.6,159.7 657.4,158.7 659.1,157.7 660.5,156.4 661.8,154.9 663.0,153.3 664.2,151.7 665.5,150.2 666.9,148.8 668.4,147.6 670.0,146.8 671.8,146.7 673.6,147.1 675.5,147.8 677.4,148.5 679.3,149.1 681.2,149.6 683.1,150.1 685.1,150.6 687.0,151.2 688.8,152.0 690.6,152.8 692.4,153.7 694.1,154.7 695.7,155.8 697.2,157.2 698.4,158.7 699.7,160.2 700.9,161.8 702.2,163.4 703.5,164.9 704.8,166.4 706.2,167.8 707.6,169.3 709.0,170.7 710.4,172.1 711.8,173.5 713.1,175.1 714.2,176.7 715.4,178.3 716.5,179.9 717.9,181.4 719.2,182.9 720.6,184.3 722.0,185.7 723.4,187.2 724.7,188.7 725.8,190.3 726.9,192.0 728.1,193.7 729.2,195.3 730.2,197.0 731.1,198.8 731.9,200.6 732.7,202.5 733.5,204.3 734.3,206.1 735.2,207.9 736.3,209.6 737.5,211.2 738.7,212.7 740.0,214.3 741.2,215.8 742.5,217.4 743.7,219.0 745.0,220.5 746.2,222.1 747.4,223.7 748.6,225.3 749.6,227.0 750.6,228.8 751.6,230.5 752.6,232.3 753.4,234.1 754.2,235.9 755.0,237.7 755.8,239.6 756.6,241.4 757.4,243.2 758.2,245.1 759.0,246.9 759.8,248.7 760.6,250.5 761.4,252.4 762.1,254.3 762.9,256.1 763.8,257.9 764.7,259.6 765.8,261.4 766.8,263.1 767.8,264.8 768.8,266.5 769.8,268.2 770.9,270.0 771.9,271.7 772.9,273.4 774.0,275.1 775.0,276.8 775.9,278.6 776.8,280.4 777.5,282.2 778.3,284.1 779.0,285.9 779.7,287.8 780.5,289.7 781.2,291.5 782.0,293.4 782.7,295.2 783.5,297.1 784.2,298.9 785.1,300.8 785.9,302.6 786.8,304.3 787.7,306.1 788.7,307.9 789.8,309.5 791.0,311.2 792.2,312.8 793.4,314.4 794.5,316.0 795.5,317.7 796.3,319.5 797.0,321.4 797.7,323.3 798.5,325.1 799.3,327.0 800.1,328.8 801.0,330.6 801.9,332.4 802.8,334.1 803.6,335.9 804.4,337.8 805.2,339.6 805.9,341.5 806.6,343.4 807.4,345.2 808.3,347.0 809.2,348.8 810.2,350.5 811.3,352.2 812.3,353.9 813.3,355.6 814.1,357.4 814.8,359.3 815.3,361.2 815.8,363.2 816.3,365.1 817.0,367.0 817.7,368.8 818.4,370.7 819.2,372.6 819.9,374.4 820.6,376.3 821.3,378.2 822.0,380.1 822.6,381.9 823.2,383.8 823.9,385.7 824.7,387.5 825.6,389.2 826.6,390.9 827.3,392.7 828.0,394.6 828.7,396.5 829.4,398.4 830.1,400.2 831.0,402.0 832.0,403.7 833.1,405.4 834.3,407.0 835.5,408.6 836.6,410.2 837.6,412.0 838.3,413.8 839.0,415.7 839.6,417.6 840.3,419.5 840.9,421.3 841.5,423.3 841.9,425.2 842.3,427.2 842.7,429.1 843.3,431.0 844.1,432.7 845.3,434.3 846.6,435.7 848.0,437.2 849.2,438.7 850.2,440.4 851.0,442.2 851.7,444.1 852.4,446.0 853.1,447.8 853.8,449.7 854.5,451.6 855.2,453.5 855.9,455.3 856.5,457.2 857.0,459.2 857.6,461.1 858.1,463.0 858.7,464.9 859.2,466.9 859.8,468.8 860.4,470.7 861.2,472.5 862.1,474.3 863.0,476.1 863.9,477.9 864.8,479.6 865.7,481.4 866.6,483.2 867.4,485.1 868.2,486.9 869.0,488.7 869.8,490.6 870.6,492.4 871.4,494.2 872.1,496.1 872.9,497.9 873.6,499.8 874.2,501.7 874.9,503.6 875.5,505.5 876.1,507.4 876.8,509.3 877.6,511.1 878.5,512.9 879.5,514.6 880.5,516.3 881.5,518.0 882.6,519.8 883.5,521.5 884.2,523.4 884.9,525.2 885.5,527.1 886.1,529.0 886.8,530.9 887.5,532.8 888.3,534.6 889.4,536.3 890.5,537.9 891.7,539.5 892.9,541.1 893.9,542.8 894.7,544.6 895.3,546.5 895.9,548.4 896.5,550.3 897.0,552.2 897.6,554.2 898.2,556.1 898.8,558.0 899.5,559.8 900.3,561.7 901.1,563.5 901.8,565.4 902.6,567.2 903.4,569.0 904.2,570.9 904.9,572.8 905.6,574.6 906.2,576.5 906.9,578.4 907.5,580.3 908.2,582.2 908.9,584.1 909.7,585.9 910.6,587.6 911.6,589.4 912.6,591.1 913.7,592.8 914.6,594.6 915.5,596.4 916.1,598.2 916.7,600.1 917.3,602.1 917.8,604.0 918.4,605.9 919.0,607.8 919.6,609.7 920.3,611.6 921.1,613.4 922.0,615.2 922.9,617.0 923.8,618.8 924.7,620.5 925.7,622.3 926.8,623.9 928.1,625.4 929.5,626.8 930.8,628.3 931.9,629.9 932.7,631.6 933.1,633.6 933.5,635.5 933.9,637.4 934.6,639.2 935.7,640.6 937.2,641.8 938.5,643.2 939.3,644.8 939.8,646.7 940.3,648.7 940.9,650.6 941.6,652.4 942.5,654.2 943.4,656.0 944.3,657.8 945.2,659.6 946.1,661.4 947.0,663.1 947.9,664.9 948.8,666.7 949.7,668.5 950.5,670.3 951.3,672.1 952.0,674.0 952.6,675.9 953.3,677.8 953.9,679.7 954.5,681.6 955.2,683.5 955.8,685.4 956.6,687.2 957.3,689.1 958.1,691.0 958.8,692.8 959.7,694.6 960.7,696.3 961.9,697.9 963.1,699.5 964.3,701.1 965.4,702.7 966.6,704.4 967.6,706.1 968.6,707.8 969.7,709.5 970.7,711.3 971.7,713.0 972.5,714.8 973.3,716.6 973.9,718.5 974.6,720.4 975.2,722.3 975.9,724.2 976.5,726.1 977.3,727.9 978.2,729.7 979.0,731.5 979.9,733.3 980.8,735.1 981.7,736.9 982.6,738.6 983.8,740.3 985.1,741.8 986.5,743.2 987.8,744.6 989.1,746.2 990.0,747.9 990.7,749.7 991.3,751.6 992.0,753.5 992.6,755.4 993.3,757.3 994.2,759.1 995.2,760.8 996.4,762.4 997.6,764.0 998.8,765.6 1000.0,767.1 1001.4,768.6 1002.8,770.0 1004.2,771.5 1005.5,772.9 1006.7,774.5 1007.7,776.2 1008.6,778.0 1009.5,779.8 1010.4,781.6 1011.3,783.4 1012.2,785.1 1013.2,786.9 1014.2,788.6 1015.2,790.4 1016.2,792.1 1017.2,793.8 1018.3,795.5 1019.5,797.0 1021.0,798.4 1022.5,799.6 1024.1,800.8 1025.7,802.0 1027.1,803.4 1028.2,805.0 1029.0,806.8 1029.8,808.6 1030.5,810.5 1031.3,812.3 1032.2,814.1 1033.3,815.8 1034.4,817.4 1035.6,819.0 1036.8,820.6 1038.0,822.2 1039.2,823.8 1040.5,825.4 1041.7,827.0 1042.8,828.6 1044.0,830.2 1045.1,831.9 1046.2,833.6 1047.2,835.3 1048.3,836.9 1049.6,838.4 1050.8,839.9 1051.7,841.6 1052.4,843.5 1053.1,845.4 1053.7,847.2 1054.4,849.1 1055.2,850.9 1056.2,852.6 1057.4,854.2 1058.7,855.8 1060.0,857.3 1061.3,858.8 1062.7,860.2 1064.2,861.5 1065.7,862.8 1067.2,864.2 1068.6,865.6 1069.9,867.1 1071.2,868.6 1072.5,870.2 1073.7,871.8 1074.9,873.3 1076.1,875.0 1077.2,876.6 1078.4,878.2 1079.5,879.9 1080.7,881.5 1081.8,883.2 1082.9,884.8 1084.0,886.5 1085.1,888.1 1086.3,889.8 1087.5,891.3 1088.8,892.9 1090.2,894.3 1091.5,895.8 1092.8,897.3 1094.2,898.8 1095.7,900.0 1097.4,901.0 1099.2,901.7 1101.0,902.5 1102.6,903.5 1103.9,904.9 1104.8,906.6 1105.6,908.5 1106.5,910.3 1107.4,912.0 1108.6,913.6 1109.9,915.1 1111.2,916.7 1112.5,918.1 1113.9,919.6 1115.4,920.9 1117.0,922.1 1118.6,923.3 1120.2,924.5 1121.8,925.7 1123.4,926.9 1125.0,928.1 1126.6,929.2 1128.3,930.3 1130.0,931.3 1131.8,932.2 1133.6,933.2 1135.3,934.1 1136.9,935.3 1138.6,936.4 1140.1,937.6 1141.7,938.9 1143.3,940.1 1144.9,941.3 1146.6,942.4 1148.2,943.6 1149.8,944.7 1151.5,945.7 1153.3,946.7 1155.1,947.6 1156.9,948.5 1158.6,949.5 1160.2,950.7 1161.8,951.9 1163.4,953.1 1165.0,954.3 1166.6,955.5 1168.2,956.7 1169.8,957.9 1171.4,959.1 1173.0,960.3 1174.6,961.4 1176.3,962.5 1178.0,963.6 1179.7,964.6 1181.4,965.6 1183.2,966.6 1184.9,967.6 1186.6,968.6 1188.4,969.6 1190.0,970.7 1191.6,971.8 1192.9,973.3 1193.9,974.9 1194.8,976.7 1195.7,978.5 1196.7,980.3 1197.7,981.9 1199.1,983.2 1200.8,984.1 1202.6,984.8 1204.5,985.6 1206.3,986.3 1208.2,986.9 1210.2,987.4 1212.1,987.9 1213.9,988.6 1215.7,989.6 1217.3,990.7 1218.9,991.9 1220.5,993.0 1222.2,994.1 1224.0,995.0 1225.8,995.9 1227.6,996.8 1229.3,997.7 1231.1,998.6 1232.9,999.5 1234.7,1000.4 1236.5,1001.2 1238.4,1002.0 1240.2,1002.8 1242.1,1003.5 1243.9,1004.3 1245.8,1005.0 1247.7,1005.8 1249.5,1006.5 1251.4,1007.2 1253.2,1008.0 1255.1,1008.7 1256.9,1009.5 1258.8,1010.2 1260.7,1010.9 1262.5,1011.7 1264.4,1012.4 1266.2,1013.2 1268.1,1013.9 1269.9,1014.7 1271.7,1015.5 1273.4,1016.6 1275.0,1017.8 1276.6,1019.0 1278.1,1020.3 1279.7,1021.5 1281.3,1022.7 1282.9,1024.0 1284.4,1025.2 1286.0,1026.4 1287.7,1027.4 1289.5,1028.2 1291.4,1028.8 1293.3,1029.2 1295.3,1029.6 1297.2,1030.0 1299.2,1030.5 1301.1,1030.9 1303.1,1031.4 1305.0,1031.8 1307.0,1032.3 1309.0,1032.6 1310.9,1033.0 1312.8,1033.1 1314.6,1032.6 1316.2,1031.7 1317.8,1030.5 1319.4,1029.5 1321.0,1029.1 1322.6,1029.6 1324.2,1030.7 1325.9,1031.9 1327.5,1033.0 1329.2,1033.9 1331.1,1034.7 1332.9,1035.5 1334.8,1036.2 1336.7,1036.7 1338.5,1037.1 1340.3,1037.6 1341.8,1038.6 1343.3,1039.9 1344.9,1041.1 1346.6,1042.1 1348.4,1042.9 1350.3,1043.6 1352.1,1044.0 1354.0,1043.9 1356.0,1043.5 1357.9,1042.9 1359.7,1042.2 1361.5,1041.3 1363.2,1040.3 1364.8,1039.1 1366.5,1038.0 1368.1,1036.9 1369.8,1035.8 1371.5,1034.8 1373.3,1033.8 1375.1,1033.2 1377.0,1033.0 1378.9,1033.0 1380.7,1033.5 1382.2,1034.6 1383.5,1036.1 1384.7,1037.6 1386.0,1039.2 1387.2,1040.7 1388.5,1042.3 1389.8,1043.8 1391.1,1045.3 1392.6,1046.7 1394.1,1047.9 1395.8,1049.0 1397.6,1049.8 1399.5,1050.4 1401.4,1050.8 1403.3,1051.3 1405.3,1051.8 1407.2,1052.4 1409.1,1053.0 1411.0,1053.6 1412.8,1054.3 1414.6,1055.2 1416.3,1056.3 1417.9,1057.3 1419.6,1057.8 1421.5,1057.7 1423.4,1057.2 1425.3,1056.7 1427.2,1056.5 1429.1,1056.8 1431.0,1057.3 1432.9,1057.8 1434.8,1058.0 1436.7,1057.8 1438.6,1057.2 1440.5,1056.6 1442.4,1056.1 1444.3,1055.6 1446.3,1055.3 1448.0,1055.4 1449.6,1056.1 1450.9,1057.4 1452.2,1058.7 1453.8,1059.5 1455.7,1059.8 1457.7,1059.8 1459.7,1059.8 1461.7,1059.8 1463.7,1059.8 1465.7,1059.8 1467.7,1059.8 1469.7,1059.8 1471.7,1059.8 1473.7,1059.8 1475.7,1059.8 1477.7,1059.8 1479.7,1059.9 1481.6,1060.2 1483.6,1060.6 1485.5,1061.2 1487.4,1061.8 1489.3,1062.3 1491.2,1062.9 1493.2,1063.2 1495.1,1063.3 1497.1,1063.2 1499.1,1063.0 1501.1,1062.7 1503.1,1062.4 1504.9,1062.1 1506.2,1061.9" fill="none" stroke="#008080" stroke-width="4.6" stroke-linejoin="round" stroke-linecap="butt"/>
<polyline points="220.8,1081.4 222.1,1081.3 224.0,1081.1 226.0,1080.9 228.0,1080.7 229.9,1080.5 231.9,1080.3 233.9,1080.1 235.9,1079.9 237.9,1079.7 239.9,1079.4 241.9,1079.2 243.9,1079.0 245.8,1078.8 247.7,1078.4 249.1,1077.4 250.1,1075.9 250.8,1074.1 251.6,1072.2 252.3,1070.3 253.0,1068.5 253.7,1066.6 254.5,1064.8 255.2,1062.9 255.8,1061.0 256.3,1059.1 256.8,1057.1 257.3,1055.2 257.8,1053.3 258.3,1051.3 258.8,1049.4 259.3,1047.4 259.8,1045.5 260.5,1043.7 261.5,1041.9 262.6,1040.3 263.8,1038.7 265.0,1037.1 266.3,1035.7 267.9,1034.5 269.6,1033.6 271.4,1033.0 273.2,1033.0 275.0,1033.6 276.7,1034.4 278.4,1034.9 280.0,1034.7 281.3,1033.6 282.5,1032.1 283.6,1030.5 284.5,1028.7 285.2,1026.9 285.9,1025.0 286.5,1023.1 287.1,1021.2 287.8,1019.3 288.4,1017.4 289.0,1015.5 289.6,1013.6 290.2,1011.6 290.7,1009.7 291.3,1007.8 291.9,1005.9 292.5,1004.0 293.4,1002.3 294.4,1000.8 295.4,999.2 296.0,997.4 296.3,995.5 296.6,993.5 296.9,991.5 297.2,989.6 297.5,987.6 297.7,985.6 298.0,983.6 298.3,981.6 298.6,979.7 299.1,977.8 299.9,975.9 300.8,974.2 301.8,972.5 302.9,971.2 304.1,970.8 305.4,971.4 306.7,972.7 307.9,974.3 308.8,976.0 309.5,977.9 310.2,979.8 310.8,981.7 311.4,983.6 312.1,985.5 312.7,987.4 313.3,989.3 314.0,991.0 315.0,992.0 316.4,992.0 318.1,991.3 319.9,990.3 321.5,989.2 322.9,987.8 324.4,986.4 325.8,985.0 327.2,983.6 328.6,982.2 330.1,980.9 331.7,979.6 333.3,978.5 335.0,977.4 336.6,976.3 338.3,975.2 340.0,974.1 341.8,973.2 343.5,972.3 345.3,971.4 347.1,970.5 348.9,969.6 350.7,968.7 352.5,967.8 354.3,966.9 356.1,966.0 357.9,965.1 359.6,964.2 361.4,963.3 363.2,962.5 365.1,961.8 367.0,961.4 369.0,961.2 371.0,961.0 373.0,960.8 375.0,960.6 377.0,960.4 379.0,960.3 381.0,960.2 383.0,960.2 385.0,960.2 387.0,960.3 389.0,960.4 391.0,960.4 393.0,960.5 395.0,960.6 397.0,960.6 399.0,960.7 401.0,960.7 403.0,960.6 405.0,960.6 406.9,960.6 408.9,960.7 410.9,960.9 412.8,961.4 414.8,961.9 416.7,962.4 418.4,963.2 419.8,964.5 421.0,965.9 422.4,967.1 424.2,967.9 426.1,968.3 428.0,968.6 430.0,969.1 431.8,969.8 433.5,970.8 435.1,971.9 436.7,973.0 438.5,973.6 440.4,973.9 442.4,973.9 444.4,974.0 446.3,974.4 448.2,975.0 450.1,975.7 452.0,976.4 453.9,976.9 455.8,977.4 457.8,977.7 459.8,978.1 461.7,978.3 463.7,978.5 465.7,978.6 467.7,978.6 469.7,978.6 471.7,978.6 473.7,978.6 475.7,978.6 477.7,978.6 479.7,978.6 481.7,978.5 483.7,978.2 485.7,977.9 487.6,977.6 489.6,977.3 491.6,976.9 493.6,976.6 495.5,976.3 497.5,976.0 499.5,975.7 501.5,975.4 503.4,975.0 505.4,974.7 507.4,974.3 509.3,973.8 511.0,973.0 512.7,971.9 514.3,970.8 515.8,969.5 517.2,968.1 518.5,966.5 519.7,965.0 521.0,963.4 522.2,961.8 523.4,960.3 524.7,958.7 526.0,957.1 527.2,955.6 528.6,954.2 530.2,953.1 532.0,952.3 533.8,951.5 535.5,950.6 536.8,949.3 537.6,947.6 538.3,945.7 538.9,943.9 539.6,942.0 540.5,940.2 541.5,938.5 542.6,936.8 543.7,935.2 544.8,933.5 545.8,931.8 546.7,930.0 547.5,928.1 548.2,926.3 548.9,924.4 549.6,922.7 550.5,921.4 551.5,921.0 552.6,920.7 553.6,919.6 554.5,917.9 555.4,916.2 556.3,914.4 557.2,912.6 558.1,910.8 559.0,909.0 559.8,907.2 560.7,905.4 561.5,903.6 562.3,901.7 563.1,899.9 563.9,898.1 564.8,896.3 565.6,894.4 566.4,892.6 567.2,890.8 568.0,888.9 568.8,887.1 569.6,885.3 570.4,883.4 571.2,881.6 571.9,879.7 572.7,877.9 573.5,876.0 574.2,874.2 575.0,872.3 575.7,870.5 576.3,868.6 577.0,866.7 577.5,864.8 578.1,862.9 578.7,861.0 579.3,859.3 579.9,858.4 580.4,859.0 580.8,860.6 581.3,862.1 581.8,862.7 582.4,861.8 583.0,860.1 583.7,858.3 584.4,856.4 585.1,854.5 585.7,852.6 586.4,850.7 587.1,848.9 587.8,847.0 588.4,845.1 589.1,843.2 589.8,841.3 590.5,839.4 591.1,837.6 591.8,835.7 592.5,833.8 593.2,831.9 593.8,830.0 594.5,828.2 595.2,826.3 595.9,824.4 596.5,822.5 597.2,820.6 597.8,818.7 598.3,816.8 598.9,814.8 599.4,812.9 599.9,811.0 600.5,809.1 601.0,807.1 601.5,805.2 602.1,803.3 602.6,801.4 603.1,799.4 603.7,797.5 604.2,795.6 604.7,793.6 605.3,791.7 605.8,789.8 606.3,787.9 606.9,785.9 607.4,784.0 607.9,782.1 608.4,780.1 608.9,778.2 609.4,776.3 609.9,774.3 610.4,772.4 610.8,770.4 611.3,768.5 611.8,766.5 612.3,764.6 612.7,762.7 613.2,760.7 613.7,758.8 614.3,756.9 614.8,754.9 615.3,753.0 615.8,751.1 616.3,749.1 616.8,747.2 617.3,745.3 617.9,743.3 618.4,741.4 618.9,739.5 619.5,737.5 620.0,735.6 620.7,733.7 621.3,731.8 621.9,729.9 622.6,728.0 623.2,726.1 623.8,724.2 624.5,722.3 625.1,720.4 625.7,718.5 626.3,716.6 626.9,714.7 627.5,712.8 628.1,710.9 628.7,709.0 629.3,707.1 629.9,705.2 630.5,703.3 631.0,701.3 631.6,699.4 632.1,697.5 632.6,695.6 633.1,693.6 633.5,691.7 634.0,689.7 634.4,687.8 634.9,685.8 635.3,683.9 635.8,681.9 636.2,680.0 636.7,678.0 637.2,676.1 637.6,674.1 638.1,672.2 638.6,670.3 639.1,668.3 639.6,666.4 640.1,664.4 640.5,662.5 641.0,660.5 641.5,658.6 642.0,656.7 642.5,654.7 642.9,652.8 643.4,650.8 643.9,648.9 644.4,647.0 644.9,645.0 645.4,643.1 645.8,641.1 646.3,639.2 646.8,637.3 647.3,635.3 647.8,633.4 648.3,631.4 648.8,629.5 649.2,627.5 649.7,625.6 650.2,623.7 650.7,621.7 651.2,619.8 651.7,617.8 652.2,615.9 652.7,614.0 653.2,612.0 653.6,610.1 654.1,608.2 654.6,606.2 655.1,604.3 655.6,602.3 656.1,600.4 656.6,598.5 657.1,596.5 657.6,594.6 658.1,592.6 658.6,590.7 659.1,588.8 659.6,586.8 660.0,584.9 660.5,582.9 660.9,581.0 661.2,579.0 661.6,577.0 662.0,575.1 662.4,573.1 662.7,571.1 663.1,569.2 663.5,567.2 663.9,565.3 664.2,563.3 664.6,561.3 665.0,559.4 665.5,557.4 666.0,555.5 666.6,553.6 667.2,551.7 667.7,549.8 668.3,547.8 668.9,545.9 669.5,544.0 670.1,542.1 670.7,540.2 671.2,538.3 671.8,536.3 672.3,534.4 672.7,532.5 673.2,530.5 673.6,528.6 674.1,526.6 674.5,524.7 675.0,522.7 675.5,520.8 675.9,518.8 676.4,516.9 676.9,515.0 677.4,513.0 678.0,511.1 678.5,509.2 679.0,507.2 679.5,505.3 680.0,503.4 680.6,501.4 681.1,499.5 681.6,497.6 682.1,495.6 682.5,493.7 683.0,491.7 683.5,489.8 684.0,487.9 684.5,485.9 685.0,484.0 685.4,482.0 685.9,480.1 686.4,478.2 686.9,476.2 687.4,474.3 687.9,472.3 688.4,470.4 688.8,468.5 689.3,466.5 689.8,464.6 690.3,462.6 690.9,460.7 691.5,458.8 692.1,456.9 692.7,455.0 693.4,453.1 694.0,451.2 694.6,449.3 695.3,447.4 695.9,445.5 696.5,443.6 697.2,441.7 697.8,439.8 698.4,437.9 699.1,436.0 699.7,434.1 700.3,432.2 700.9,430.3 701.4,428.4 702.0,426.5 702.6,424.6 703.2,422.7 703.8,420.7 704.4,418.8 704.9,416.9 705.5,415.0 706.1,413.1 706.7,411.2 707.2,409.3 707.8,407.3 708.4,405.4 708.9,403.5 709.5,401.6 710.0,399.6 710.5,397.7 711.0,395.8 711.6,393.8 712.1,391.9 712.6,390.0 713.1,388.0 713.6,386.1 714.3,384.3 715.1,382.5 716.2,380.9 717.0,379.2 717.5,377.3 717.8,375.3 718.1,373.3 718.3,371.4 718.6,369.4 718.8,367.4 719.1,365.4 719.5,363.5 720.1,361.6 720.8,359.8 721.7,358.0 722.6,356.2 723.5,354.4 724.4,352.6 725.3,350.8 726.0,348.9 726.7,347.1 727.3,345.2 728.0,343.3 728.6,341.4 729.2,339.5 729.9,337.6 730.6,335.7 731.3,333.8 732.1,332.0 732.9,330.2 733.7,328.3 734.4,326.5 735.2,324.6 735.9,322.8 736.6,320.9 737.3,319.0 738.0,317.1 738.7,315.3 739.4,313.4 740.1,311.5 740.8,309.7 741.5,307.8 742.3,305.9 743.0,304.1 743.7,302.2 744.4,300.3 745.2,298.5 745.9,296.6 746.7,294.8 747.5,292.9 748.3,291.1 749.1,289.3 749.9,287.4 750.6,285.6 751.4,283.7 752.2,281.9 753.0,280.1 753.7,278.2 754.4,276.3 755.1,274.4 755.7,272.5 756.3,270.6 756.9,268.7 757.5,266.8 758.1,264.9 758.7,263.0 759.3,261.1 760.0,259.2 760.7,257.3 761.5,255.5 762.3,253.7 763.1,251.8 764.0,250.1 765.0,248.3 766.0,246.6 767.0,244.9 768.0,243.2 769.1,241.4 770.0,239.7 770.9,237.9 771.8,236.1 772.7,234.4 773.6,232.6 774.6,230.8 775.5,229.0 776.4,227.2 777.4,225.5 778.4,223.8 779.5,222.1 780.5,220.4 781.6,218.7 782.8,217.2 784.3,215.9 785.9,214.7 787.5,213.5 788.8,212.1 789.9,210.5 790.8,208.8 791.7,207.0 792.6,205.2 793.4,203.4 794.2,201.5 794.9,199.7 795.7,197.8 796.4,195.9 797.2,194.1 797.9,192.2 798.7,190.4 799.4,188.5 800.2,186.7 801.0,184.8 801.9,183.1 803.2,181.6 804.6,180.2 806.1,179.0 807.9,178.2 809.7,177.5 811.5,176.7 813.1,175.6 814.6,174.3 816.0,172.9 817.4,171.5 818.9,170.1 820.4,168.8 822.0,167.7 823.7,167.0 825.5,166.8 827.2,167.2 828.7,167.1 829.7,166.1 830.4,164.5 831.1,162.6 831.7,160.7 832.3,158.8 833.0,156.9 833.7,155.1 834.6,153.2 835.5,151.5 836.4,149.7 837.4,148.5 838.5,148.3 839.9,149.2 841.3,150.4 843.0,151.4 844.8,152.2 846.7,152.7 848.6,152.9 850.5,152.6 852.3,152.1 854.0,152.1 855.4,152.8 856.6,154.2 857.8,155.7 859.1,156.6 860.7,156.5 862.4,155.8 864.2,155.0 866.0,154.2 867.9,153.7 869.9,153.4 871.9,153.4 873.8,153.5 875.8,153.7 877.6,154.3 879.4,155.2 881.2,156.0 883.0,157.0 884.6,158.1 886.1,159.4 887.5,160.8 888.6,162.4 889.6,164.1 890.4,166.0 891.2,167.8 892.0,169.6 892.8,171.5 893.6,173.3 894.4,175.1 895.4,176.8 896.7,178.3 898.1,179.8 899.5,181.1 901.0,182.4 902.7,183.4 904.5,184.1 906.2,184.9 907.6,186.1 908.6,187.7 909.4,189.5 910.2,191.3 911.0,193.2 911.8,195.0 912.7,196.8 913.8,198.5 914.9,200.1 916.1,201.6 917.6,202.9 919.1,204.1 920.5,205.4 921.7,207.0 922.8,208.7 923.9,210.3 925.1,211.9 926.3,213.6 927.3,215.3 928.3,217.0 929.3,218.7 930.4,220.4 931.4,222.1 932.5,223.8 933.7,225.4 935.0,226.8 936.4,227.9 937.8,229.1 939.1,230.5 940.5,231.9 942.1,233.1 943.8,234.0 945.6,234.8 947.4,235.5 949.0,236.5 950.1,237.9 950.9,239.7 951.5,241.6 952.2,243.5 952.8,245.4 953.5,247.3 954.2,249.1 955.0,250.9 955.9,252.7 956.8,254.5 957.6,256.3 958.4,258.2 959.1,260.1 959.7,261.9 960.4,263.8 961.0,265.7 961.7,267.6 962.6,269.2 964.0,270.4 965.7,271.2 967.4,272.1 968.8,273.3 969.8,274.9 970.6,276.7 971.3,278.5 972.1,280.4 972.8,282.2 973.5,284.1 974.1,286.0 974.8,287.9 975.4,289.8 976.0,291.7 976.6,293.6 977.3,295.5 977.9,297.4 978.6,299.3 979.2,301.2 979.8,303.1 980.5,305.0 981.1,306.9 981.8,308.8 982.5,310.6 983.2,312.5 984.0,314.4 984.7,316.2 985.6,318.0 986.6,319.6 988.0,321.1 989.4,322.5 990.8,323.9 992.4,325.0 994.2,325.9 996.0,326.7 997.6,327.6 998.7,328.9 999.5,330.7 1000.0,332.6 1000.6,334.5 1001.1,336.4 1001.7,338.3 1002.2,340.3 1002.7,342.2 1003.1,344.2 1003.4,346.1 1003.8,348.1 1004.1,350.1 1004.4,352.0 1004.9,354.0 1005.6,355.8 1006.6,357.5 1007.7,359.2 1008.8,360.8 1010.0,362.4 1011.2,364.0 1012.3,365.6 1013.5,367.3 1014.7,368.9 1015.9,370.5 1017.1,372.1 1018.3,373.7 1019.5,375.3 1020.7,376.9 1021.8,378.6 1022.7,380.3 1023.5,382.1 1024.3,384.0 1025.2,385.8 1026.1,387.5 1027.3,389.1 1028.5,390.7 1029.7,392.3 1030.8,393.9 1031.5,395.7 1032.0,397.7 1032.4,399.6 1033.0,401.5 1033.6,403.4 1034.2,405.3 1034.8,407.2 1035.4,409.1 1036.1,411.0 1036.7,412.9 1037.3,414.8 1037.9,416.7 1038.5,418.6 1039.2,420.5 1039.9,422.3 1041.0,423.8 1042.6,424.8 1044.4,425.6 1046.2,426.3 1048.1,427.1 1049.7,428.0 1051.0,429.3 1051.7,431.0 1052.3,432.9 1052.9,434.8 1053.4,436.7 1054.0,438.7 1054.5,440.6 1055.0,442.5 1055.6,444.4 1056.1,446.4 1056.7,448.3 1057.2,450.2 1057.8,452.1 1058.3,454.1 1058.9,455.9 1059.7,457.7 1060.9,459.3 1062.2,460.7 1063.6,462.2 1064.9,463.6 1066.0,465.3 1066.9,467.1 1067.7,468.9 1068.4,470.8 1069.2,472.6 1069.9,474.5 1070.6,476.4 1071.2,478.3 1071.8,480.2 1072.4,482.1 1073.1,484.0 1073.7,485.9 1074.3,487.8 1075.0,489.6 1075.6,491.5 1076.2,493.4 1076.9,495.3 1077.5,497.2 1078.4,498.7 1079.5,499.5 1081.2,499.5 1082.9,499.1 1084.4,499.3 1085.4,500.4 1086.2,502.1 1086.8,504.0 1087.5,505.9 1088.1,507.8 1088.7,509.7 1089.3,511.6 1089.8,513.5 1090.3,515.5 1090.8,517.4 1091.3,519.4 1091.7,521.3 1092.2,523.2 1092.7,525.2 1093.3,527.1 1094.1,528.9 1095.0,530.6 1096.0,532.4 1097.1,534.1 1098.1,535.8 1099.2,537.5 1100.3,539.1 1101.4,540.8 1102.6,542.4 1103.8,544.0 1105.0,545.6 1105.9,547.3 1106.6,549.1 1107.2,551.1 1107.7,553.0 1108.1,554.9 1108.6,556.9 1109.1,558.8 1109.6,560.7 1110.3,562.4 1111.4,563.6 1113.0,564.0 1114.9,564.3 1116.5,564.9 1117.7,566.2 1118.6,567.8 1119.5,569.6 1120.4,571.4 1121.3,573.2 1122.2,575.0 1122.9,576.9 1123.6,578.7 1124.1,580.7 1124.6,582.6 1125.1,584.6 1125.6,586.5 1126.0,588.4 1126.5,590.4 1127.1,592.3 1127.6,594.2 1128.3,596.1 1129.0,598.0 1129.8,599.8 1130.5,601.6 1131.5,603.0 1132.7,603.4 1134.4,603.0 1136.1,602.2 1137.9,601.4 1139.4,601.2 1140.4,602.1 1141.1,603.7 1141.6,605.6 1142.2,607.5 1142.8,609.4 1143.3,611.3 1143.9,613.3 1144.5,615.2 1145.1,617.1 1145.7,619.0 1146.3,620.9 1146.9,622.8 1147.6,624.7 1148.3,626.5 1149.1,628.4 1150.0,630.1 1151.0,631.8 1152.1,633.5 1153.1,635.3 1154.1,637.0 1155.2,638.7 1156.3,640.3 1157.4,642.0 1158.5,643.7 1159.6,645.3 1160.7,647.0 1161.8,648.7 1162.9,650.3 1164.1,652.0 1165.2,653.7 1166.3,655.3 1167.4,657.0 1168.4,658.7 1169.5,660.4 1170.5,662.1 1171.5,663.8 1172.6,665.5 1173.7,667.2 1174.8,668.8 1176.1,670.4 1177.4,671.9 1178.7,673.4 1180.0,675.0 1181.3,676.4 1182.7,677.9 1184.1,679.3 1185.4,680.8 1186.6,682.4 1187.6,684.1 1188.5,685.8 1189.4,687.6 1190.3,689.4 1191.2,691.2 1192.1,693.0 1192.9,694.8 1193.5,696.7 1194.1,698.6 1194.7,700.6 1195.3,702.5 1195.8,704.4 1196.5,706.1 1197.4,707.5 1198.6,708.5 1199.8,709.6 1200.8,711.3 1201.6,713.0 1202.5,714.8 1203.6,716.5 1204.7,718.0 1205.6,719.7 1206.2,721.5 1206.7,723.5 1207.2,725.4 1207.8,727.3 1208.6,729.1 1209.5,730.9 1210.2,732.7 1210.8,734.6 1211.4,736.5 1212.0,738.4 1212.7,740.3 1213.5,742.1 1214.6,743.3 1215.9,743.5 1217.2,742.5 1218.3,741.0 1219.5,739.5 1220.8,738.5 1222.4,738.6 1223.9,739.4 1225.4,740.7 1226.5,742.3 1227.4,744.0 1228.0,745.9 1228.6,747.8 1229.1,749.7 1229.7,751.7 1230.2,753.6 1230.9,755.3 1232.0,756.7 1233.3,757.9 1234.6,759.3 1235.8,760.9 1236.9,762.5 1237.7,764.3 1238.4,766.2 1239.0,768.1 1239.7,770.0 1240.6,771.7 1241.7,773.4 1242.8,775.0 1244.0,776.6 1245.2,778.2 1246.4,779.8 1247.6,781.4 1248.8,783.0 1250.2,784.4 1251.7,785.7 1253.3,786.9 1254.9,788.0 1256.6,789.1 1258.3,790.2 1259.9,791.3 1261.6,792.4 1263.4,793.3 1265.3,794.0 1267.0,794.7 1268.5,795.7 1269.4,797.3 1269.8,799.1 1270.1,801.1 1270.5,803.0 1270.8,805.0 1271.2,807.0 1271.8,808.9 1272.6,810.7 1273.5,812.5 1274.4,814.3 1275.3,816.0 1276.3,817.7 1277.4,819.4 1278.5,821.1 1279.7,822.7 1280.8,824.4 1281.9,826.1 1283.0,827.7 1284.4,829.1 1286.0,830.2 1287.7,831.1 1289.5,832.0 1291.1,833.0 1292.5,834.3 1293.4,836.0 1294.2,837.8 1295.0,839.7 1295.8,841.5 1296.7,843.1 1298.1,844.3 1299.8,845.2 1301.6,845.9 1303.4,846.8 1305.1,847.8 1306.7,849.0 1308.3,850.2 1309.8,851.4 1311.3,852.8 1312.5,854.3 1313.6,856.0 1314.6,857.7 1315.8,859.3 1317.2,860.7 1318.6,862.1 1320.1,863.4 1321.5,864.8 1322.7,866.3 1323.7,868.1 1324.5,869.9 1325.3,871.7 1326.1,873.5 1326.7,875.4 1327.3,877.4 1327.8,879.3 1328.3,881.2 1328.8,883.2 1329.3,885.1 1329.8,887.0 1330.4,888.9 1330.9,890.9 1331.5,892.7 1332.6,894.1 1334.1,895.1 1336.0,895.7 1337.8,896.2 1339.7,896.3 1341.5,895.8 1343.3,895.3 1344.9,895.4 1346.3,896.4 1347.5,897.9 1348.6,899.6 1349.5,901.3 1350.1,903.2 1350.6,905.1 1350.9,907.1 1351.3,909.0 1351.7,911.0 1352.4,912.7 1353.6,914.1 1355.2,915.0 1356.9,915.4 1358.7,915.4 1360.2,915.6 1361.4,916.6 1362.3,918.3 1363.1,920.1 1363.9,921.9 1364.8,923.7 1365.6,925.5 1366.5,927.3 1367.5,928.9 1368.9,930.0 1370.7,930.6 1372.6,931.1 1374.6,931.6 1376.5,932.2 1378.4,932.8 1380.3,933.4 1382.0,934.3 1383.6,935.4 1385.1,936.7 1386.5,938.1 1388.0,939.4 1389.6,940.4 1391.5,941.1 1393.4,941.6 1395.3,942.2 1397.1,942.9 1398.6,944.1 1400.1,945.4 1401.5,946.8 1403.0,948.1 1404.7,949.1 1406.5,949.9 1408.3,950.6 1409.9,951.6 1411.3,953.0 1412.4,954.6 1413.6,956.2 1414.7,957.8 1416.0,959.3 1417.5,960.6 1419.1,961.7 1420.8,962.6 1422.5,963.0 1424.3,962.8 1426.0,962.4 1427.7,962.6 1429.2,963.5 1430.7,964.8 1432.3,965.9 1434.1,966.9 1435.9,967.6 1437.7,968.3 1439.3,969.3 1440.6,970.7 1441.6,972.3 1442.7,974.0 1443.9,975.5 1445.4,976.9 1447.0,978.0 1448.7,979.0 1450.5,979.7 1452.4,980.3 1454.3,980.9 1456.2,981.5 1458.1,982.1 1460.0,982.7 1461.8,983.1 1463.5,983.9 1465.0,985.1 1466.4,986.4 1467.9,987.7 1469.5,988.8 1471.3,989.3 1473.2,989.5 1475.2,989.5 1477.1,989.7 1478.8,990.4 1480.1,991.7 1481.2,993.3 1482.1,995.1 1482.9,996.9 1483.9,998.4 1485.4,999.6 1487.1,1000.4 1489.0,1001.0 1490.9,1001.5 1492.8,1002.1 1494.7,1002.9 1496.4,1003.8 1498.2,1004.8 1499.9,1005.8 1501.6,1006.8 1503.5,1007.6 1505.2,1008.2 1506.5,1008.7" fill="none" stroke="#800080" stroke-width="4.6" stroke-linejoin="round" stroke-linecap="butt"/>
<rect x="219" y="48" width="6" height="1048" fill="#000"/>
<rect x="200" y="1083" width="19" height="3" fill="#333"/>
<rect x="200" y="1086" width="19" height="2.4" fill="#000"/>
<rect x="211" y="989.8" width="8" height="3" fill="#000"/>
<rect x="200" y="894.6" width="19" height="5" fill="#000"/>
<rect x="211" y="801.5" width="8" height="3" fill="#000"/>
<rect x="200" y="706.3" width="19" height="5" fill="#000"/>
<rect x="211" y="613.1" width="8" height="3" fill="#000"/>
<rect x="200" y="517.9" width="19" height="5" fill="#000"/>
<rect x="211" y="424.7" width="8" height="3" fill="#000"/>
<rect x="200" y="329.6" width="19" height="5" fill="#000"/>
<rect x="211" y="236.4" width="8" height="3" fill="#000"/>
<rect x="200" y="141.2" width="19" height="5" fill="#000"/>
<rect x="211" y="48.0" width="8" height="3" fill="#000"/>
<rect x="220.5" y="1088" width="3" height="8.5" fill="#000"/>
<rect x="404.4" y="1088" width="3" height="19.5" fill="#000"/>
<rect x="588.4" y="1088" width="3" height="8.5" fill="#000"/>
<rect x="772.4" y="1088" width="3" height="19.5" fill="#000"/>
<rect x="956.3" y="1088" width="3" height="8.5" fill="#000"/>
<rect x="1140.2" y="1088" width="3" height="19.5" fill="#000"/>
<rect x="1324.2" y="1088" width="3" height="8.5" fill="#000"/>
<rect x="1507.0" y="1088" width="5" height="19.5" fill="#000"/>
<text transform="translate(188.0,1099.5) scale(0.86,1)" x="0" y="0" font-family="'Liberation Sans', Arial, sans-serif" font-size="46.5" letter-spacing="1.4" text-anchor="end" stroke="#fff" stroke-width="0.35">0.0</text>
<text transform="translate(188.0,911.1) scale(0.86,1)" x="0" y="0" font-family="'Liberation Sans', Arial, sans-serif" font-size="46.5" letter-spacing="1.4" text-anchor="end" stroke="#fff" stroke-width="0.35">0.2</text>
<text transform="translate(188.0,722.8) scale(0.86,1)" x="0" y="0" font-family="'Liberation Sans', Arial, sans-serif" font-size="46.5" letter-spacing="1.4" text-anchor="end" stroke="#fff" stroke-width="0.35">0.4</text>
<text transform="translate(188.0,534.4) scale(0.86,1)" x="0" y="0" font-family="'Liberation Sans', Arial, sans-serif" font-size="46.5" letter-spacing="1.4" text-anchor="end" stroke="#fff" stroke-width="0.35">0.6</text>
<text transform="translate(188.0,346.1) scale(0.86,1)" x="0" y="0" font-family="'Liberation Sans', Arial, sans-serif" font-size="46.5" letter-spacing="1.4" text-anchor="end" stroke="#fff" stroke-width="0.35">0.8</text>
<text transform="translate(188.0,157.7) scale(0.86,1)" x="0" y="0" font-family="'Liberation Sans', Arial, sans-serif" font-size="46.5" letter-spacing="1.4" text-anchor="end" stroke="#fff" stroke-width="0.35">1.0</text>
<text transform="translate(407.1,1153.5) scale(0.93,1)" x="0" y="0" font-family="'Liberation Sans', Arial, sans-serif" font-size="43" letter-spacing="2.5" text-anchor="middle" stroke="#fff" stroke-width="0.35">400</text>
<text transform="translate(775.1,1153.5) scale(0.93,1)" x="0" y="0" font-family="'Liberation Sans', Arial, sans-serif" font-size="43" letter-spacing="2.5" text-anchor="middle" stroke="#fff" stroke-width="0.35">500</text>
<text transform="translate(1143.0,1153.5) scale(0.93,1)" x="0" y="0" font-family="'Liberation Sans', Arial, sans-serif" font-size="43" letter-spacing="2.5" text-anchor="middle" stroke="#fff" stroke-width="0.35">600</text>
<text transform="translate(1510.8,1153.5) scale(0.93,1)" x="0" y="0" font-family="'Liberation Sans', Arial, sans-serif" font-size="43" letter-spacing="2.5" text-anchor="middle" stroke="#fff" stroke-width="0.35">700</text>
<text x="866" y="1238" font-family="'Liberation Sans', Arial, sans-serif" font-size="54.6" text-anchor="middle" stroke="#fff" stroke-width="0.8">Wavelength, nm</text>
<text transform="translate(65.3,543.7) rotate(-90)" x="0" y="0" font-family="'Liberation Sans', Arial, sans-serif" font-size="54.6" text-anchor="middle" stroke="#fff" stroke-width="0.8">Normalized intensity</text>
<rect x="1283" y="52.5" width="125" height="5.5" fill="#000000"/>
<text x="1419" y="72.7" font-family="'Liberation Sans', Arial, sans-serif" font-size="54" stroke="#fff" stroke-width="0.8">7b</text>
<rect x="1283" y="118.8" width="125" height="5.5" fill="#FF0000"/>
<text x="1419" y="139.0" font-family="'Liberation Sans', Arial, sans-serif" font-size="54" stroke="#fff" stroke-width="0.8">7c</text>
<rect x="1283" y="185.1" width="125" height="5.5" fill="#00FF00"/>
<text x="1419" y="205.3" font-family="'Liberation Sans', Arial, sans-serif" font-size="54" stroke="#fff" stroke-width="0.8">7e</text>
<rect x="1283" y="251.4" width="125" height="5.5" fill="#0000FF"/>
<text x="1419" y="271.6" font-family="'Liberation Sans', Arial, sans-serif" font-size="54" stroke="#fff" stroke-width="0.8">7f</text>
<rect x="1283" y="317.8" width="125" height="5.5" fill="#00FFFF"/>
<text x="1419" y="337.9" font-family="'Liberation Sans', Arial, sans-serif" font-size="54" stroke="#fff" stroke-width="0.8">7h</text>
<rect x="1283" y="384.1" width="125" height="5.5" fill="#FF00FF"/>
<text x="1419" y="404.2" font-family="'Liberation Sans', Arial, sans-serif" font-size="54" stroke="#fff" stroke-width="0.8">8b</text>
<rect x="1283" y="450.3" width="125" height="5.5" fill="#FF8000"/>
<text x="1419" y="470.5" font-family="'Liberation Sans', Arial, sans-serif" font-size="54" stroke="#fff" stroke-width="0.8">8c</text>
<rect x="1283" y="516.6" width="125" height="5.5" fill="#808000"/>
<text x="1419" y="536.8" font-family="'Liberation Sans', Arial, sans-serif" font-size="54" stroke="#fff" stroke-width="0.8">8e</text>
<rect x="1283" y="582.9" width="125" height="5.5" fill="#008080"/>
<text x="1419" y="603.1" font-family="'Liberation Sans', Arial, sans-serif" font-size="54" stroke="#fff" stroke-width="0.8">8f</text>
<rect x="1283" y="649.2" width="125" height="5.5" fill="#800080"/>
<text x="1419" y="669.4" font-family="'Liberation Sans', Arial, sans-serif" font-size="54" stroke="#fff" stroke-width="0.8">9a</text>
</svg>
</body></html>
